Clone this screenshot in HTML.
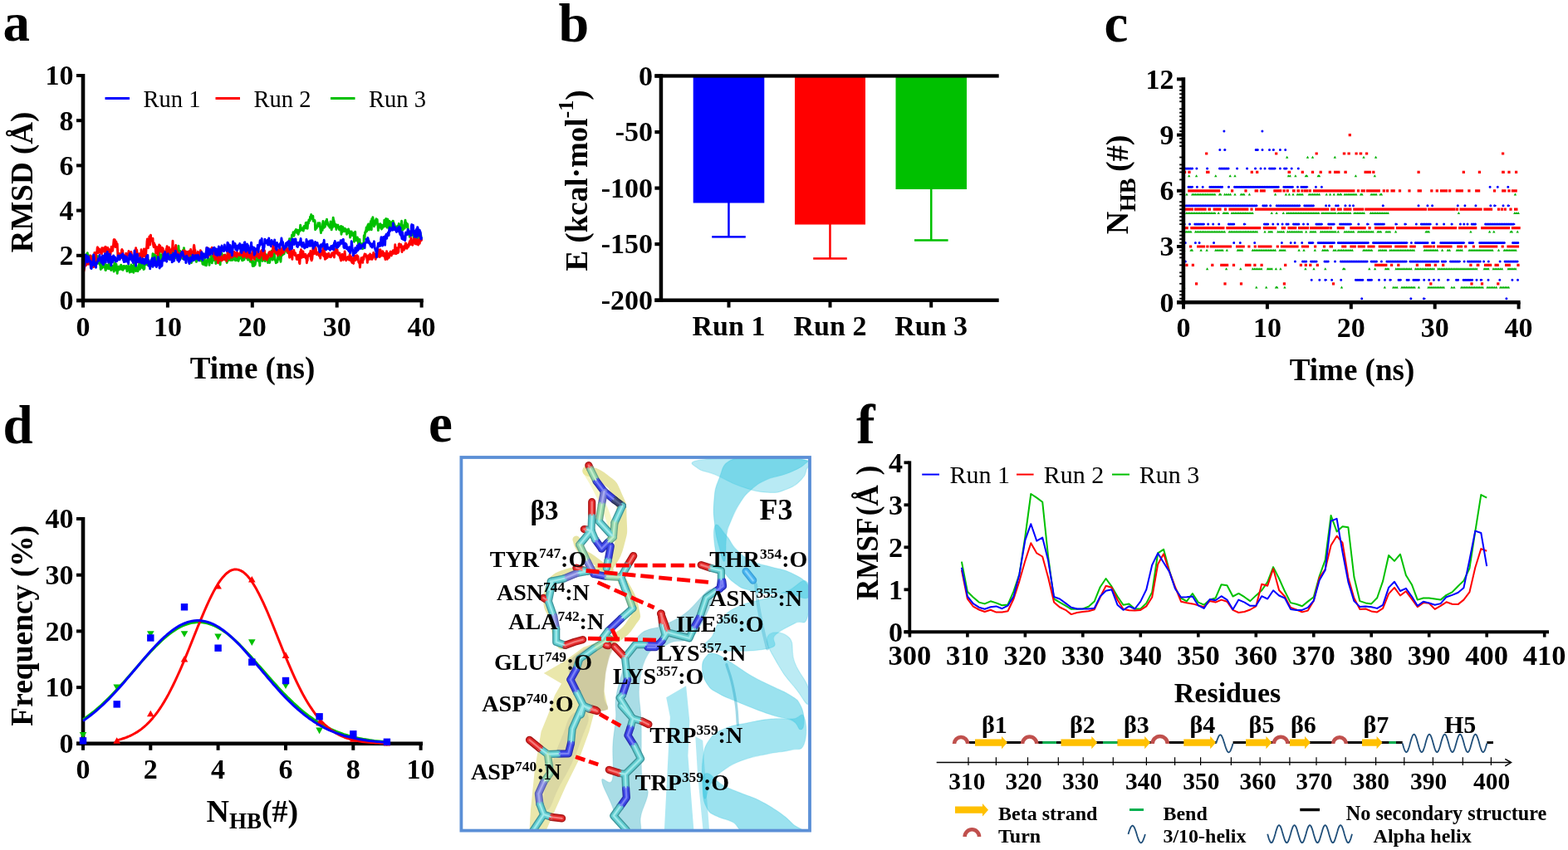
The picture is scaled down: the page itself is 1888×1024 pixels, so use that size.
<!DOCTYPE html>
<html lang="en"><head><meta charset="utf-8"><title>Figure</title>
<style>
html,body{margin:0;padding:0;background:#fff;}
body{width:1888px;height:1024px;overflow:hidden;}
svg{display:block;font-family:"Liberation Serif","DejaVu Serif",serif;}
svg text{fill:#000;}
</style></head><body>
<svg width="1888" height="1024" viewBox="0 0 1888 1024">
<rect width="1888" height="1024" fill="#fff"/>
<g id="pa"><polyline fill="none" stroke="#00c000" stroke-width="2.9" stroke-linejoin="round" points="100,327.7 100.4,324.9 100.8,324.4 101.2,322.1 101.6,321.3 102,318.7 102.4,316.1 102.9,315.1 103.3,306.9 103.7,311.7 104.1,309.4 104.5,309.8 104.9,306.7 105.3,304.6 105.7,310.8 106.1,315.5 106.5,317.9 106.9,317.7 107.3,308 107.7,310.4 108.2,311.4 108.6,313.2 109,315.5 109.4,314.4 109.8,310.2 110.2,310.3 110.6,311.1 111,310.4 111.4,308.7 111.8,313.3 112.2,311.6 112.6,310.6 113,311 113.5,313.2 113.9,315.7 114.3,319.4 114.7,315.2 115.1,314 115.5,313.9 115.9,315 116.3,313.1 116.7,314.4 117.1,316 117.5,317.4 117.9,308.7 118.3,313 118.7,317.2 119.2,317.3 119.6,314.8 120,315.5 120.4,319.4 120.8,317.9 121.2,324.5 121.6,320.8 122,318.5 122.4,317.7 122.8,323.1 123.2,315.1 123.6,318 124,319.3 124.5,313 124.9,314.4 125.3,316.2 125.7,322.2 126.1,317.7 126.5,318.3 126.9,325.5 127.3,325.6 127.7,322.5 128.1,319.8 128.5,321.3 128.9,319.3 129.3,322.5 129.8,323.4 130.2,320.6 130.6,323.8 131,321.3 131.4,315.8 131.8,323.8 132.2,317.2 132.6,323.2 133,322.3 133.4,321.4 133.8,325.5 134.2,324.9 134.6,323.9 135.1,322.2 135.5,320.6 135.9,323.1 136.3,322.6 136.7,324.5 137.1,327.1 137.5,320.5 137.9,316.7 138.3,320.6 138.7,322.7 139.1,325.2 139.5,319.9 139.9,317.9 140.4,321.8 140.8,324.7 141.2,329.3 141.6,325.2 142,323.5 142.4,323 142.8,321.2 143.2,325 143.6,324.5 144,322.4 144.4,324 144.8,320.6 145.2,323.2 145.7,319.2 146.1,320.6 146.5,324.5 146.9,320.9 147.3,323.4 147.7,321 148.1,325.3 148.5,322.7 148.9,321 149.3,320.4 149.7,320.7 150.1,323.3 150.5,320.9 150.9,320.9 151.4,321.7 151.8,321.7 152.2,320.4 152.6,324.2 153,326.7 153.4,324.9 153.8,323.5 154.2,324 154.6,320.5 155,322.6 155.4,321.2 155.8,325.2 156.2,328.1 156.7,327.3 157.1,325.9 157.5,321.8 157.9,318.9 158.3,327.4 158.7,325.8 159.1,324 159.5,320.7 159.9,323.5 160.3,326.5 160.7,328.3 161.1,321.6 161.5,317.5 162,324.6 162.4,323.5 162.8,324.5 163.2,320.2 163.6,326.6 164,325.2 164.4,324.2 164.8,323.5 165.2,322.8 165.6,322.2 166,326.7 166.4,324.2 166.8,319.8 167.3,319.3 167.7,317.7 168.1,319 168.5,324.3 168.9,321.7 169.3,320.1 169.7,320.3 170.1,315 170.5,315.8 170.9,319.2 171.3,322.5 171.7,321.9 172.1,318.1 172.6,320.8 173,324.5 173.4,322.8 173.8,324 174.2,317 174.6,316.1 175,315.2 175.4,317.7 175.8,318.5 176.2,315.6 176.6,316.9 177,317.5 177.4,316 177.9,319.4 178.3,318.9 178.7,314.7 179.1,313.4 179.5,314.9 179.9,319.5 180.3,319.4 180.7,320.8 181.1,316.4 181.5,321.1 181.9,317.3 182.3,314.7 182.7,316.3 183.2,312 183.6,310.7 184,305.6 184.4,309.3 184.8,306.2 185.2,307.4 185.6,307.3 186,307.1 186.4,309 186.8,307.4 187.2,312.7 187.6,308 188,312.2 188.4,314.4 188.9,310.9 189.3,309.1 189.7,312.2 190.1,311.8 190.5,308.5 190.9,308 191.3,305 191.7,298.9 192.1,306.9 192.5,307.6 192.9,311.3 193.3,310.3 193.7,313.2 194.2,307 194.6,309.7 195,306.8 195.4,308.1 195.8,305.9 196.2,309.8 196.6,310.2 197,312.1 197.4,305.4 197.8,303.5 198.2,309.5 198.6,307.7 199,304.4 199.5,308.4 199.9,308 200.3,307.8 200.7,307.8 201.1,306.1 201.5,310.6 201.9,304.7 202.3,310 202.7,311.7 203.1,311.9 203.5,306.2 203.9,310.2 204.3,307.2 204.8,311.8 205.2,307.8 205.6,306.4 206,307.2 206.4,304.4 206.8,310.6 207.2,305.8 207.6,302.3 208,304.1 208.4,309.7 208.8,301 209.2,300.8 209.6,301 210.1,304.9 210.5,303.2 210.9,307.8 211.3,307.5 211.7,310.7 212.1,306.6 212.5,307.5 212.9,306.5 213.3,302.1 213.7,307 214.1,308 214.5,300.8 214.9,296.2 215.4,302.6 215.8,302.3 216.2,309.8 216.6,309.6 217,302.5 217.4,304.8 217.8,307.9 218.2,305.6 218.6,307.3 219,309.5 219.4,310.1 219.8,311.6 220.2,310.1 220.6,301.2 221.1,304.4 221.5,298.6 221.9,304 222.3,304.4 222.7,308.7 223.1,311.1 223.5,309.7 223.9,304.3 224.3,304.5 224.7,303.8 225.1,304.2 225.5,307.7 225.9,308.5 226.4,303.7 226.8,310 227.2,309.8 227.6,308 228,311.6 228.4,307.3 228.8,308.5 229.2,308.3 229.6,309.3 230,309.8 230.4,316.6 230.8,311.7 231.2,315 231.7,312.7 232.1,306 232.5,307.4 232.9,312 233.3,312.9 233.7,311.7 234.1,308.2 234.5,308 234.9,312.2 235.3,310.1 235.7,312 236.1,313.2 236.5,315.4 237,309.2 237.4,307.8 237.8,309.5 238.2,309.8 238.6,307.8 239,307.7 239.4,311.2 239.8,313.7 240.2,311.2 240.6,313.7 241,312.4 241.4,308.1 241.8,310.8 242.3,308.3 242.7,314.5 243.1,310.9 243.5,312.2 243.9,317.9 244.3,315.1 244.7,318.5 245.1,311.3 245.5,309.1 245.9,314.6 246.3,311.5 246.7,319.2 247.1,318.8 247.6,314.8 248,318.1 248.4,319.9 248.8,315.2 249.2,314.8 249.6,312.9 250,312.2 250.4,308.7 250.8,315 251.2,315 251.6,314.8 252,319.3 252.4,315.1 252.8,312.7 253.3,312.2 253.7,312.2 254.1,308.8 254.5,311.8 254.9,308.5 255.3,316.9 255.7,312.9 256.1,311.2 256.5,309.6 256.9,313.9 257.3,310.9 257.7,307.8 258.1,310.2 258.6,312 259,308.6 259.4,310.1 259.8,317.5 260.2,316.3 260.6,307.5 261,310.2 261.4,313.3 261.8,309.5 262.2,314.6 262.6,309.8 263,311.9 263.4,315.3 263.9,311.1 264.3,311.5 264.7,311 265.1,318.9 265.5,312.5 265.9,308.5 266.3,305.9 266.7,307.3 267.1,305.2 267.5,308.7 267.9,311.9 268.3,308.8 268.7,308.9 269.2,309.8 269.6,308.7 270,309.4 270.4,312.9 270.8,306.9 271.2,309.4 271.6,308.1 272,312.9 272.4,313.1 272.8,310.2 273.2,316.5 273.6,314.5 274,309.3 274.5,311.3 274.9,313.6 275.3,303.8 275.7,307 276.1,310.2 276.5,311 276.9,311 277.3,313.2 277.7,312.1 278.1,313.5 278.5,309 278.9,310.8 279.3,310 279.8,308.7 280.2,313.4 280.6,308.7 281,309.9 281.4,307.2 281.8,307.5 282.2,309.6 282.6,308.4 283,312.7 283.4,313.7 283.8,311.9 284.2,312.1 284.6,313.5 285.1,308.8 285.5,312.8 285.9,308.5 286.3,309.8 286.7,308.3 287.1,314.3 287.5,312.8 287.9,306.5 288.3,307.6 288.7,308.7 289.1,306 289.5,305.8 289.9,311.2 290.3,304.3 290.8,310.5 291.2,307.9 291.6,313.8 292,312 292.4,313.7 292.8,305.6 293.2,303.2 293.6,311.1 294,312.9 294.4,307.3 294.8,307.5 295.2,302.6 295.6,305.4 296.1,307.3 296.5,309.7 296.9,310.9 297.3,309 297.7,304.1 298.1,308.8 298.5,313.1 298.9,312.4 299.3,312.7 299.7,309.6 300.1,308.4 300.5,312 300.9,313.6 301.4,315.2 301.8,314.1 302.2,314.1 302.6,309.7 303,312.5 303.4,316.5 303.8,315.6 304.2,320.5 304.6,316.8 305,314.9 305.4,320.3 305.8,319.5 306.2,320.1 306.7,317.4 307.1,319.1 307.5,316.7 307.9,314.8 308.3,314 308.7,310 309.1,314 309.5,308.9 309.9,312.7 310.3,312.1 310.7,312.4 311.1,309 311.5,314.3 312,315.3 312.4,312.1 312.8,320.1 313.2,311.5 313.6,309.6 314,311.7 314.4,311.2 314.8,312.8 315.2,311.2 315.6,312.5 316,314.4 316.4,308.2 316.8,310.5 317.3,307.9 317.7,311.2 318.1,311.3 318.5,313.5 318.9,313.5 319.3,314.6 319.7,311.4 320.1,307.7 320.5,306.7 320.9,309.7 321.3,312.8 321.7,309.7 322.1,311.1 322.5,316.5 323,314 323.4,312 323.8,314.2 324.2,311.2 324.6,316.5 325,314.7 325.4,313 325.8,310.3 326.2,308.9 326.6,308.1 327,302.2 327.4,309.3 327.8,311.1 328.3,313.2 328.7,309.3 329.1,308.8 329.5,310.7 329.9,308.7 330.3,305.4 330.7,308.1 331.1,312.3 331.5,313.8 331.9,314.8 332.3,316.7 332.7,314 333.1,313.8 333.6,315.8 334,315.5 334.4,310.4 334.8,309.9 335.2,310.7 335.6,312.4 336,312.3 336.4,307.1 336.8,305.7 337.2,308 337.6,312.2 338,315.2 338.4,309.7 338.9,305.6 339.3,308 339.7,305.4 340.1,300.5 340.5,306.8 340.9,306 341.3,302.5 341.7,301.2 342.1,305.8 342.5,302.7 342.9,298.5 343.3,299.2 343.7,297.1 344.2,300 344.6,296.5 345,299.2 345.4,299.7 345.8,304.2 346.2,301.4 346.6,304.3 347,300.7 347.4,299.7 347.8,299.6 348.2,299 348.6,287.8 349,292.2 349.5,289.2 349.9,292.2 350.3,295.5 350.7,293.2 351.1,287.4 351.5,283.1 351.9,284.1 352.3,283.2 352.7,282 353.1,279.8 353.5,282 353.9,284.3 354.3,282.1 354.8,279.3 355.2,279 355.6,277.8 356,279.1 356.4,276.4 356.8,277.1 357.2,277.9 357.6,280.6 358,278.9 358.4,277.1 358.8,280.8 359.2,282.3 359.6,280.2 360,277.7 360.5,279 360.9,276.6 361.3,276.4 361.7,271.1 362.1,273.9 362.5,276.8 362.9,277.1 363.3,275.2 363.7,275.9 364.1,275.1 364.5,277.2 364.9,277.4 365.3,278 365.8,273.3 366.2,272.4 366.6,275.3 367,274.3 367.4,272.6 367.8,272.6 368.2,268.5 368.6,274.8 369,270.2 369.4,275.1 369.8,268 370.2,275.2 370.6,269.6 371.1,269 371.5,269.1 371.9,264.9 372.3,265 372.7,264.7 373.1,265.9 373.5,261.3 373.9,261.7 374.3,262 374.7,258.5 375.1,262.3 375.5,262 375.9,263.6 376.4,261.6 376.8,260.2 377.2,266.4 377.6,266.4 378,265.3 378.4,265.7 378.8,265.3 379.2,266.5 379.6,276.8 380,275 380.4,271.8 380.8,275.4 381.2,274.9 381.7,272.6 382.1,273 382.5,271.7 382.9,268.6 383.3,270.4 383.7,270.4 384.1,269.4 384.5,272.7 384.9,268.6 385.3,270.7 385.7,275.2 386.1,277.8 386.5,280.5 387,274.3 387.4,273.8 387.8,273.9 388.2,277.3 388.6,269.7 389,266.5 389.4,272.6 389.8,272.7 390.2,274.3 390.6,270.8 391,271.5 391.4,273.2 391.8,271.2 392.2,266.7 392.7,266 393.1,269.7 393.5,264.2 393.9,268 394.3,267.3 394.7,270.2 395.1,271 395.5,271.9 395.9,270.9 396.3,271.4 396.7,272.8 397.1,274.2 397.5,271.5 398,267 398.4,270.6 398.8,269.6 399.2,276.9 399.6,272 400,273.5 400.4,274.1 400.8,266.4 401.2,262.3 401.6,264.9 402,265.9 402.4,267.4 402.8,268.5 403.3,272.8 403.7,272.5 404.1,273.4 404.5,270.4 404.9,276.5 405.3,271.4 405.7,274.4 406.1,273 406.5,271.4 406.9,271 407.3,273 407.7,273.3 408.1,275.3 408.6,276.9 409,273.5 409.4,275.5 409.8,274.7 410.2,274 410.6,272.4 411,282.2 411.4,275.8 411.8,279.9 412.2,278.7 412.6,273.3 413,278.4 413.4,274.5 413.9,275 414.3,277.4 414.7,278.8 415.1,275.8 415.5,275.3 415.9,277.2 416.3,277.9 416.7,276.8 417.1,276.8 417.5,282.2 417.9,281.2 418.3,281 418.7,280.7 419.2,277.4 419.6,275.9 420,278.5 420.4,278 420.8,280.7 421.2,281.3 421.6,286.1 422,283.7 422.4,283.9 422.8,282.2 423.2,279 423.6,281.6 424,283.2 424.4,283.4 424.9,281.2 425.3,282.7 425.7,280.6 426.1,283.2 426.5,291.2 426.9,284.2 427.3,286.3 427.7,279.1 428.1,288.2 428.5,287 428.9,289.5 429.3,287.2 429.7,287.4 430.2,285.9 430.6,286.9 431,291.1 431.4,292.4 431.8,297.6 432.2,293.6 432.6,295.3 433,288.4 433.4,293.1 433.8,294.2 434.2,293.2 434.6,296.7 435,294.7 435.5,296.4 435.9,297.7 436.3,293.6 436.7,299.7 437.1,298.3 437.5,298.9 437.9,294.6 438.3,283.8 438.7,287.9 439.1,285.9 439.5,280 439.9,280.5 440.3,278.4 440.8,277.2 441.2,273.9 441.6,278.7 442,276.9 442.4,273.9 442.8,271.4 443.2,273.6 443.6,269.9 444,271.6 444.4,277 444.8,274.7 445.2,273.2 445.6,270 446.1,269 446.5,266.4 446.9,270.1 447.3,276.8 447.7,263.7 448.1,263.7 448.5,264.9 448.9,261.7 449.3,265.2 449.7,266.1 450.1,269.5 450.5,272.7 450.9,268.8 451.4,271.2 451.8,267.7 452.2,265.5 452.6,266.6 453,263.8 453.4,267.1 453.8,266.6 454.2,264.5 454.6,270.3 455,272 455.4,277.6 455.8,274.7 456.2,271.5 456.6,270.2 457.1,270.1 457.5,274.1 457.9,269.8 458.3,271.5 458.7,270.5 459.1,271.7 459.5,276 459.9,273.3 460.3,274.9 460.7,273.2 461.1,271.1 461.5,271.7 461.9,271.6 462.4,273.1 462.8,265.1 463.2,265.3 463.6,268.9 464,272.4 464.4,267.7 464.8,263.5 465.2,268.3 465.6,271 466,274 466.4,265.1 466.8,264.1 467.2,266.6 467.7,274.4 468.1,267.2 468.5,271.1 468.9,266.4 469.3,269.1 469.7,268.4 470.1,271.3 470.5,268 470.9,275.6 471.3,271.3 471.7,276.6 472.1,270.9 472.5,267.4 473,266.2 473.4,266.4 473.8,273.4 474.2,268.8 474.6,271.8 475,270.7 475.4,272.1 475.8,275.8 476.2,276.2 476.6,275.8 477,273.7 477.4,278.4 477.8,276.6 478.3,275.5 478.7,272.3 479.1,275.2 479.5,274.1 479.9,273.2 480.3,269.4 480.7,275.5 481.1,271 481.5,272.2 481.9,272.2 482.3,280.4 482.7,273.7 483.1,271.7 483.6,266.3 484,270.2 484.4,277.3 484.8,271.3 485.2,276.7 485.6,275.6 486,275.4 486.4,273.6 486.8,275.1 487.2,275.1 487.6,267.8 488,265.2 488.4,269.9 488.9,268.2 489.3,269.2 489.7,272.1 490.1,273.7 490.5,269.7 490.9,271.2 491.3,280 491.7,278.1 492.1,279 492.5,282.8 492.9,280.3 493.3,285.4 493.7,282.1 494.1,281 494.6,282.6 495,280.9 495.4,279.6 495.8,273.6 496.2,278.4 496.6,279.4 497,283.4 497.4,277.6 497.8,276.8 498.2,286.9 498.6,286.1 499,282.7 499.4,283.7 499.9,286.2 500.3,292.2 500.7,287 501.1,287 501.5,286.6 501.9,287.1 502.3,283.8 502.7,285 503.1,278.8 503.5,284.7 503.9,281.7 504.3,281.6 504.7,290.3 505.2,284.4 505.6,289.5 506,280.3 506.4,282.4 506.8,283.5 507.2,288.1 507.6,287.2"/>
<polyline fill="none" stroke="#ff0000" stroke-width="2.9" stroke-linejoin="round" points="100,329.2 100.4,327.6 100.8,326.8 101.2,325.2 101.6,322.8 102,320.7 102.4,318.5 102.9,316.9 103.3,319.9 103.7,317.9 104.1,317.7 104.5,318.6 104.9,313.4 105.3,314.2 105.7,317 106.1,314.4 106.5,317.3 106.9,318.2 107.3,316.4 107.7,311.5 108.2,311.6 108.6,309.5 109,308 109.4,314.8 109.8,312.7 110.2,312.2 110.6,313.6 111,311.2 111.4,312.9 111.8,311.2 112.2,317.3 112.6,321.6 113,310 113.5,309.2 113.9,304.4 114.3,312.1 114.7,309 115.1,314.4 115.5,311.3 115.9,305.4 116.3,303.5 116.7,304.7 117.1,299 117.5,297.8 117.9,300.4 118.3,304.6 118.7,300.9 119.2,299.8 119.6,299.9 120,301.7 120.4,301.6 120.8,304.2 121.2,302.9 121.6,300.6 122,302.3 122.4,305.6 122.8,298.7 123.2,299.9 123.6,300.6 124,298.9 124.5,302.7 124.9,299.3 125.3,303.2 125.7,302.4 126.1,303.2 126.5,297.9 126.9,297.3 127.3,297.4 127.7,300.5 128.1,303.5 128.5,304.7 128.9,306.2 129.3,303.1 129.8,298.5 130.2,300.2 130.6,301.8 131,302.8 131.4,301.6 131.8,300.7 132.2,302.7 132.6,305.2 133,306.6 133.4,302.7 133.8,299.8 134.2,297.3 134.6,300.4 135.1,300.3 135.5,302.3 135.9,299.3 136.3,297.3 136.7,292.9 137.1,288.7 137.5,290.8 137.9,288.7 138.3,288.9 138.7,295.3 139.1,297.5 139.5,296.6 139.9,291.1 140.4,296.3 140.8,294.8 141.2,293.9 141.6,302.5 142,308.6 142.4,306.9 142.8,308.2 143.2,305.5 143.6,305.4 144,306.6 144.4,310.1 144.8,307.1 145.2,307 145.7,310.8 146.1,306.6 146.5,301.3 146.9,300.5 147.3,305.4 147.7,301.6 148.1,307 148.5,307.6 148.9,307.9 149.3,307.6 149.7,308.5 150.1,308.4 150.5,308.2 150.9,310.4 151.4,309.7 151.8,305.2 152.2,309 152.6,314.3 153,307 153.4,307.8 153.8,307.7 154.2,307.4 154.6,305 155,302.4 155.4,307.3 155.8,305.7 156.2,308.1 156.7,311.3 157.1,310.8 157.5,306.2 157.9,303.4 158.3,305.7 158.7,309.4 159.1,309.5 159.5,309.7 159.9,309.9 160.3,312.9 160.7,311.5 161.1,308.9 161.5,309.2 162,306.7 162.4,312 162.8,309.5 163.2,303.9 163.6,298.8 164,301.8 164.4,304.9 164.8,301.3 165.2,305.2 165.6,314.8 166,315.7 166.4,307.1 166.8,308.6 167.3,307.3 167.7,305.6 168.1,307.4 168.5,306.3 168.9,306.5 169.3,308.6 169.7,307.6 170.1,300.8 170.5,304.3 170.9,311.2 171.3,311.5 171.7,306.5 172.1,308.7 172.6,305.1 173,303.9 173.4,299.9 173.8,308.3 174.2,306.7 174.6,307.8 175,307.3 175.4,310 175.8,304.7 176.2,298.4 176.6,298.3 177,290.9 177.4,287.9 177.9,290.7 178.3,298.7 178.7,295.7 179.1,291.4 179.5,289.7 179.9,284.9 180.3,285.9 180.7,294.8 181.1,290.7 181.5,283.1 181.9,290.1 182.3,288.9 182.7,287.7 183.2,290.1 183.6,290.3 184,287.1 184.4,294.1 184.8,296.2 185.2,297.7 185.6,292.9 186,295.2 186.4,294.8 186.8,295.8 187.2,299.2 187.6,304.9 188,298.5 188.4,297.9 188.9,297.6 189.3,305.3 189.7,305.4 190.1,307.6 190.5,303.4 190.9,303.6 191.3,299.4 191.7,294.9 192.1,295.6 192.5,299.1 192.9,296.3 193.3,302 193.7,299.9 194.2,303.3 194.6,300.5 195,301.2 195.4,298.5 195.8,304.1 196.2,299.1 196.6,306.6 197,302.2 197.4,305.7 197.8,305.1 198.2,307.6 198.6,305.6 199,305.2 199.5,305.2 199.9,302.5 200.3,299.8 200.7,300.9 201.1,296.6 201.5,299.8 201.9,303.2 202.3,304.1 202.7,301.4 203.1,298.4 203.5,298 203.9,302.2 204.3,303.8 204.8,301.4 205.2,301.4 205.6,305 206,300.8 206.4,301.5 206.8,300.1 207.2,299.1 207.6,298.8 208,290.3 208.4,301.3 208.8,301.2 209.2,302.8 209.6,305.7 210.1,304.4 210.5,301.6 210.9,300.5 211.3,297.5 211.7,295.4 212.1,299.1 212.5,304.2 212.9,303.2 213.3,302.9 213.7,304 214.1,306.6 214.5,306.5 214.9,307.8 215.4,305.6 215.8,306.3 216.2,308.7 216.6,307.6 217,307.8 217.4,305.6 217.8,304.5 218.2,304.9 218.6,305.7 219,308.6 219.4,308.3 219.8,303.4 220.2,302.2 220.6,309.7 221.1,305 221.5,305.5 221.9,302.4 222.3,301.9 222.7,308.3 223.1,305.9 223.5,306.1 223.9,307.5 224.3,307.5 224.7,303.3 225.1,304 225.5,305.1 225.9,305.8 226.4,305.1 226.8,309.5 227.2,306.8 227.6,302.8 228,302.8 228.4,303.6 228.8,305.7 229.2,304.5 229.6,300.4 230,302.9 230.4,303.9 230.8,304.5 231.2,307.7 231.7,303.9 232.1,305.2 232.5,306.8 232.9,303.2 233.3,297.2 233.7,295.3 234.1,298.1 234.5,302.5 234.9,301.1 235.3,307.7 235.7,310.3 236.1,308.7 236.5,307.3 237,305.3 237.4,305.5 237.8,308.4 238.2,303.3 238.6,304.1 239,304.7 239.4,305.8 239.8,305.3 240.2,309 240.6,306.4 241,304.7 241.4,301.6 241.8,305.1 242.3,303.2 242.7,303.6 243.1,306.2 243.5,308.7 243.9,307.4 244.3,306.8 244.7,306 245.1,306.3 245.5,306.9 245.9,307.7 246.3,309.2 246.7,308.8 247.1,309.6 247.6,307.9 248,309.4 248.4,308 248.8,302 249.2,298.6 249.6,298.5 250,301.1 250.4,308.3 250.8,308.7 251.2,303.9 251.6,303.5 252,304.6 252.4,307.2 252.8,302.3 253.3,304.1 253.7,300.6 254.1,301.2 254.5,299.6 254.9,303.8 255.3,298.3 255.7,303.7 256.1,304.4 256.5,305.1 256.9,303.3 257.3,308.5 257.7,309.5 258.1,308.5 258.6,306 259,312.8 259.4,310.3 259.8,310.5 260.2,308.5 260.6,307.5 261,308.1 261.4,311.6 261.8,307.5 262.2,314.1 262.6,316.8 263,314.6 263.4,313.6 263.9,313.8 264.3,308.9 264.7,310 265.1,309 265.5,308 265.9,311.9 266.3,312.5 266.7,314 267.1,313.9 267.5,310.5 267.9,311.6 268.3,310.8 268.7,312.8 269.2,308.1 269.6,307.4 270,308.3 270.4,310.2 270.8,307.7 271.2,308.2 271.6,312.9 272,310.5 272.4,313.7 272.8,314.5 273.2,307.8 273.6,307.6 274,304.4 274.5,306.6 274.9,305.8 275.3,303.8 275.7,307.7 276.1,311.7 276.5,306 276.9,305.8 277.3,306.6 277.7,307 278.1,309.6 278.5,306 278.9,306.3 279.3,310 279.8,302.3 280.2,303.4 280.6,308.4 281,305.6 281.4,306.6 281.8,308.3 282.2,303.4 282.6,308.4 283,305.2 283.4,305.8 283.8,304.7 284.2,305 284.6,306.9 285.1,309.3 285.5,304.3 285.9,305.5 286.3,305.6 286.7,306.2 287.1,305.7 287.5,306.9 287.9,306.4 288.3,307.4 288.7,305.6 289.1,304.9 289.5,303.6 289.9,303.3 290.3,307.3 290.8,301 291.2,298.8 291.6,303 292,302.7 292.4,307.3 292.8,309.7 293.2,308.1 293.6,308.5 294,302.1 294.4,305.5 294.8,303.1 295.2,301.6 295.6,308.1 296.1,307.2 296.5,305.4 296.9,310.3 297.3,309.6 297.7,309.2 298.1,305.3 298.5,301.9 298.9,302.4 299.3,306.6 299.7,308.3 300.1,308.4 300.5,310.4 300.9,309.3 301.4,307.2 301.8,306 302.2,309.6 302.6,313 303,307.5 303.4,305 303.8,310.5 304.2,304.6 304.6,301.5 305,303.7 305.4,304 305.8,304.3 306.2,312.5 306.7,308 307.1,303.3 307.5,303 307.9,308.9 308.3,308.9 308.7,308.9 309.1,306.7 309.5,303.4 309.9,303.5 310.3,305.5 310.7,304.9 311.1,307.1 311.5,310.5 312,307.8 312.4,307.1 312.8,310.8 313.2,308 313.6,305.8 314,302.6 314.4,305.4 314.8,307.6 315.2,301.5 315.6,304.6 316,304.3 316.4,307.3 316.8,307.4 317.3,312.6 317.7,306.9 318.1,306.1 318.5,301.6 318.9,307.7 319.3,307 319.7,308.6 320.1,311.3 320.5,312.2 320.9,309.9 321.3,313.1 321.7,308.9 322.1,308.2 322.5,309 323,310.2 323.4,306.1 323.8,304.5 324.2,307.3 324.6,303.5 325,306.4 325.4,305.6 325.8,304.2 326.2,309 326.6,303.8 327,303.9 327.4,308.2 327.8,304.6 328.3,302 328.7,297.1 329.1,295.9 329.5,299.8 329.9,301 330.3,303 330.7,301.6 331.1,302.9 331.5,301.5 331.9,298.7 332.3,305.1 332.7,305 333.1,302.4 333.6,305.9 334,303.3 334.4,307.9 334.8,300.9 335.2,305.7 335.6,301.1 336,302.8 336.4,303.2 336.8,299.9 337.2,303.5 337.6,303.2 338,307.2 338.4,304.8 338.9,304 339.3,305.2 339.7,299.1 340.1,303 340.5,304.8 340.9,295.1 341.3,303.5 341.7,303.9 342.1,301.2 342.5,298 342.9,298.8 343.3,298.5 343.7,299.6 344.2,298.5 344.6,297.4 345,299.2 345.4,302.3 345.8,299.1 346.2,300.5 346.6,300 347,300.7 347.4,304.5 347.8,305.5 348.2,305.8 348.6,310.2 349,309.4 349.5,301.7 349.9,302.1 350.3,301.5 350.7,301.9 351.1,307.6 351.5,309.4 351.9,312.3 352.3,304.7 352.7,305.8 353.1,305.5 353.5,302.8 353.9,301.4 354.3,306.3 354.8,304.9 355.2,307.6 355.6,304.8 356,306.4 356.4,308.5 356.8,307.6 357.2,312.3 357.6,311.9 358,312.4 358.4,311.1 358.8,308.8 359.2,307.1 359.6,309.5 360,312.9 360.5,316.7 360.9,317.6 361.3,311.9 361.7,303.1 362.1,305.1 362.5,300.8 362.9,305.2 363.3,310.4 363.7,303.2 364.1,303.1 364.5,304.2 364.9,302.8 365.3,305.6 365.8,309.5 366.2,307 366.6,308.5 367,309.2 367.4,309.4 367.8,306.1 368.2,311.1 368.6,309.4 369,309.4 369.4,316.7 369.8,312.5 370.2,314 370.6,307.6 371.1,307.6 371.5,307 371.9,306.2 372.3,305.7 372.7,305.9 373.1,308.4 373.5,306.4 373.9,302.5 374.3,312 374.7,310.7 375.1,313.9 375.5,312.8 375.9,311.7 376.4,304.9 376.8,299.5 377.2,298.8 377.6,303 378,305.9 378.4,305.4 378.8,303.2 379.2,305.3 379.6,300.1 380,298.3 380.4,300.4 380.8,303 381.2,306.7 381.7,306 382.1,304.4 382.5,304.3 382.9,306.2 383.3,304.3 383.7,305.4 384.1,308.1 384.5,302.6 384.9,306.1 385.3,307.5 385.7,311 386.1,307.2 386.5,304.4 387,304.5 387.4,302.4 387.8,302.8 388.2,304.1 388.6,307 389,299.3 389.4,306.3 389.8,308.5 390.2,306.6 390.6,301.2 391,308.2 391.4,312.3 391.8,307.6 392.2,305.7 392.7,311.5 393.1,309.8 393.5,309.9 393.9,309.8 394.3,310.4 394.7,305.9 395.1,306.2 395.5,306.8 395.9,305.2 396.3,307.7 396.7,308.8 397.1,307.6 397.5,309.6 398,308.5 398.4,309.7 398.8,308.7 399.2,307.9 399.6,305 400,305.6 400.4,307.8 400.8,307.1 401.2,306.4 401.6,303.9 402,303.7 402.4,310 402.8,303.2 403.3,303.7 403.7,301.4 404.1,300.2 404.5,302.5 404.9,298.8 405.3,305.3 405.7,302.5 406.1,301 406.5,304 406.9,304.5 407.3,306.4 407.7,307.4 408.1,307.5 408.6,304.7 409,304.8 409.4,310.3 409.8,311 410.2,312.3 410.6,314 411,309.1 411.4,311.8 411.8,307.5 412.2,306.3 412.6,309.3 413,309.4 413.4,313.2 413.9,311.2 414.3,309.4 414.7,306.9 415.1,302.9 415.5,306.1 415.9,311.8 416.3,311.1 416.7,313.7 417.1,312.4 417.5,312.4 417.9,310.3 418.3,311.8 418.7,309.4 419.2,311.9 419.6,312.1 420,312.9 420.4,310.7 420.8,308.6 421.2,306.5 421.6,312.2 422,313.8 422.4,311.4 422.8,309.8 423.2,309.3 423.6,315.8 424,316.4 424.4,314.8 424.9,315.1 425.3,315.8 425.7,317.4 426.1,310.6 426.5,312.1 426.9,307.9 427.3,308.7 427.7,310.2 428.1,313.6 428.5,311.1 428.9,311.9 429.3,309.3 429.7,307.7 430.2,309.6 430.6,312.5 431,308.7 431.4,313.2 431.8,315.8 432.2,314.8 432.6,317.3 433,316.1 433.4,322.1 433.8,318.5 434.2,316.2 434.6,312.7 435,310.6 435.5,315.1 435.9,312.4 436.3,314.6 436.7,316.4 437.1,309.9 437.5,312.4 437.9,312.4 438.3,310.1 438.7,307.5 439.1,306 439.5,307.9 439.9,307.8 440.3,306.5 440.8,308.4 441.2,308.6 441.6,310.4 442,312.6 442.4,316.3 442.8,312.4 443.2,310.9 443.6,307.8 444,308.9 444.4,310.3 444.8,312.3 445.2,311.1 445.6,306 446.1,306.8 446.5,310.1 446.9,309.9 447.3,312.3 447.7,307.8 448.1,312.3 448.5,309.2 448.9,310.7 449.3,307.8 449.7,304.4 450.1,306.9 450.5,305.6 450.9,307.4 451.4,306.3 451.8,308 452.2,312.2 452.6,309.3 453,309.3 453.4,309.9 453.8,309.7 454.2,309 454.6,304.1 455,302.9 455.4,300.5 455.8,306.1 456.2,305.6 456.6,309.3 457.1,309.7 457.5,304.3 457.9,300.8 458.3,304 458.7,308.3 459.1,306.2 459.5,307.3 459.9,305.7 460.3,307.9 460.7,302.6 461.1,303.4 461.5,308.2 461.9,305.2 462.4,306.2 462.8,305.1 463.2,305.5 463.6,310.6 464,312.5 464.4,310.1 464.8,306.6 465.2,307.3 465.6,302.7 466,309.8 466.4,312.2 466.8,310.7 467.2,308.8 467.7,305.4 468.1,309.8 468.5,310.3 468.9,305.5 469.3,307.2 469.7,304.9 470.1,303.2 470.5,304.4 470.9,303.3 471.3,308 471.7,306.3 472.1,306.2 472.5,304.2 473,304.5 473.4,301.6 473.8,303.1 474.2,305.3 474.6,304.1 475,305.3 475.4,299.8 475.8,294.7 476.2,304.3 476.6,304.5 477,305.7 477.4,298.6 477.8,298.8 478.3,300.2 478.7,302.7 479.1,304.7 479.5,298.4 479.9,303.4 480.3,294.3 480.7,293.7 481.1,294.6 481.5,297.8 481.9,295.8 482.3,294.7 482.7,294.5 483.1,295.8 483.6,297.6 484,303.5 484.4,299.5 484.8,297.2 485.2,298.5 485.6,301 486,297.4 486.4,301.2 486.8,296.4 487.2,299.9 487.6,299.2 488,295 488.4,292.9 488.9,293.4 489.3,294.5 489.7,296.4 490.1,299.3 490.5,296 490.9,296.4 491.3,295.2 491.7,297.4 492.1,296.6 492.5,293.2 492.9,293.2 493.3,290.8 493.7,294.6 494.1,293.6 494.6,289.8 495,286.8 495.4,289.1 495.8,292.2 496.2,294.7 496.6,295.3 497,294.8 497.4,292.5 497.8,292.2 498.2,289 498.6,286.9 499,290.2 499.4,289.2 499.9,290.6 500.3,293.8 500.7,288.1 501.1,291.5 501.5,294 501.9,293.4 502.3,291.2 502.7,291.7 503.1,289.2 503.5,295 503.9,291.5 504.3,292.5 504.7,288.4 505.2,293.4 505.6,291 506,286.2 506.4,290.4 506.8,288.6 507.2,288.1 507.6,290.5"/>
<polyline fill="none" stroke="#0000ff" stroke-width="2.9" stroke-linejoin="round" points="100,328.3 100.4,327.1 100.8,324 101.2,322.3 101.6,320.2 102,318.2 102.4,315.8 102.9,313.4 103.3,307.2 103.7,308.8 104.1,307.7 104.5,311.2 104.9,313.1 105.3,315.9 105.7,310.9 106.1,310.5 106.5,309.1 106.9,310.9 107.3,313.2 107.7,314.6 108.2,314.8 108.6,314 109,318 109.4,322.8 109.8,323.4 110.2,323.5 110.6,317.7 111,315.6 111.4,316.7 111.8,317.9 112.2,319.4 112.6,306.9 113,309.4 113.5,314 113.9,317.6 114.3,320 114.7,316.9 115.1,318.7 115.5,322.2 115.9,316.8 116.3,316.9 116.7,317.2 117.1,315.2 117.5,314.7 117.9,314.8 118.3,311.6 118.7,312.5 119.2,313.7 119.6,313.3 120,307.3 120.4,312.2 120.8,311.9 121.2,310.2 121.6,313.9 122,316.2 122.4,309.9 122.8,310 123.2,309.9 123.6,307.9 124,318.3 124.5,318.7 124.9,312 125.3,312.1 125.7,308.5 126.1,308.6 126.5,305.7 126.9,306 127.3,316 127.7,311.6 128.1,312.9 128.5,310.7 128.9,308.2 129.3,303.4 129.8,308.6 130.2,311.8 130.6,316.2 131,310.1 131.4,310.2 131.8,309 132.2,306.3 132.6,310.4 133,309.2 133.4,312.2 133.8,319.9 134.2,312.1 134.6,314.3 135.1,309.2 135.5,315.9 135.9,312.2 136.3,311.5 136.7,308 137.1,309.9 137.5,310.1 137.9,311.9 138.3,313.8 138.7,309.9 139.1,314.5 139.5,315.1 139.9,314.3 140.4,312 140.8,314.4 141.2,313.3 141.6,313.3 142,309.3 142.4,308 142.8,312.5 143.2,308.2 143.6,312.3 144,312.7 144.4,312.1 144.8,309.3 145.2,307.8 145.7,307.4 146.1,310 146.5,309.5 146.9,309 147.3,307.4 147.7,305.6 148.1,307.8 148.5,313.3 148.9,311.1 149.3,315.6 149.7,308.1 150.1,308.5 150.5,309.4 150.9,312.3 151.4,315.1 151.8,313.9 152.2,309.2 152.6,312.5 153,313.9 153.4,314.9 153.8,315.7 154.2,311.1 154.6,317.8 155,312.9 155.4,313.3 155.8,307.8 156.2,307.1 156.7,305.4 157.1,308.3 157.5,312 157.9,309.2 158.3,307 158.7,313 159.1,314.3 159.5,310.1 159.9,309.3 160.3,316.6 160.7,312.2 161.1,311.2 161.5,308.8 162,302 162.4,307.7 162.8,311.3 163.2,310.9 163.6,320.2 164,309.3 164.4,316 164.8,309.8 165.2,306.2 165.6,307.9 166,312.7 166.4,311.3 166.8,315.3 167.3,312.4 167.7,313.4 168.1,315.9 168.5,315.8 168.9,310.4 169.3,315.3 169.7,316 170.1,314.6 170.5,316.6 170.9,317 171.3,316.8 171.7,314.8 172.1,311.8 172.6,312.7 173,314.1 173.4,314.9 173.8,318 174.2,315.3 174.6,312.2 175,313.3 175.4,313.8 175.8,316.9 176.2,315.3 176.6,308.8 177,312 177.4,311.2 177.9,307.5 178.3,316.7 178.7,314 179.1,320.3 179.5,318.2 179.9,318.1 180.3,317.9 180.7,323.9 181.1,315.1 181.5,316.1 181.9,315.4 182.3,313.3 182.7,314.3 183.2,311.2 183.6,316.9 184,321.3 184.4,316.4 184.8,315.2 185.2,315.4 185.6,312.8 186,310.1 186.4,312.7 186.8,319.9 187.2,315.4 187.6,315.1 188,319.8 188.4,321.6 188.9,318.4 189.3,319.7 189.7,315.5 190.1,315.2 190.5,309.8 190.9,311 191.3,315.7 191.7,315.6 192.1,323 192.5,320.1 192.9,314.3 193.3,317.2 193.7,321.3 194.2,317.8 194.6,317.3 195,320.2 195.4,313.2 195.8,311.5 196.2,311.5 196.6,311.2 197,306.1 197.4,310.4 197.8,314.1 198.2,312.3 198.6,303.8 199,306.8 199.5,306.4 199.9,306.9 200.3,313.6 200.7,315.2 201.1,309.6 201.5,308.8 201.9,306.8 202.3,305.7 202.7,308.9 203.1,309 203.5,311.7 203.9,311.2 204.3,312.7 204.8,310.1 205.2,312.5 205.6,309.1 206,307.2 206.4,307.6 206.8,310.7 207.2,315.8 207.6,315.4 208,309.3 208.4,307.2 208.8,305.2 209.2,312.4 209.6,314.3 210.1,309.1 210.5,306.3 210.9,308.5 211.3,302.1 211.7,305.3 212.1,305.9 212.5,309 212.9,307 213.3,306.8 213.7,313.3 214.1,309 214.5,306.8 214.9,312.8 215.4,315.3 215.8,310.6 216.2,309.4 216.6,313.2 217,311.8 217.4,309.7 217.8,306.1 218.2,304.9 218.6,306.8 219,307.7 219.4,303.2 219.8,303.6 220.2,305.6 220.6,306.6 221.1,309.4 221.5,312.6 221.9,312.2 222.3,311.6 222.7,309.1 223.1,311.6 223.5,312.8 223.9,316.6 224.3,315.3 224.7,308.2 225.1,311.5 225.5,309.7 225.9,311 226.4,312.1 226.8,310.9 227.2,310.7 227.6,316.1 228,317.6 228.4,315.6 228.8,313.3 229.2,314.2 229.6,313.1 230,310.2 230.4,314.8 230.8,310.6 231.2,311.1 231.7,310.1 232.1,307.1 232.5,307.8 232.9,308.4 233.3,313.5 233.7,310.7 234.1,312.8 234.5,311.1 234.9,310.7 235.3,307.6 235.7,309.7 236.1,310.5 236.5,307.8 237,311.9 237.4,310.6 237.8,307.7 238.2,309.6 238.6,307.5 239,309.5 239.4,313.7 239.8,311.8 240.2,310.2 240.6,311.8 241,311.3 241.4,311.2 241.8,309.9 242.3,306.3 242.7,303.7 243.1,309.6 243.5,305.9 243.9,313.2 244.3,306.5 244.7,305.7 245.1,305.8 245.5,308.9 245.9,308.9 246.3,306.6 246.7,309.3 247.1,310.4 247.6,307 248,304.1 248.4,302.9 248.8,298.4 249.2,299.3 249.6,307.6 250,310.4 250.4,300.1 250.8,301.3 251.2,299.4 251.6,306 252,301.5 252.4,303.8 252.8,306.5 253.3,300.6 253.7,304.7 254.1,301 254.5,303.8 254.9,302.8 255.3,302.4 255.7,306.1 256.1,301.8 256.5,299.3 256.9,300.6 257.3,298.8 257.7,301.8 258.1,298.2 258.6,299.4 259,299.9 259.4,306.5 259.8,304 260.2,301.8 260.6,299.9 261,304.4 261.4,302.2 261.8,307.8 262.2,305.6 262.6,303.3 263,302.1 263.4,297 263.9,304 264.3,306.5 264.7,307.3 265.1,303.3 265.5,305.9 265.9,300.9 266.3,297.8 266.7,301.7 267.1,296 267.5,302.3 267.9,300.8 268.3,298.1 268.7,300.6 269.2,298.7 269.6,302.6 270,299.6 270.4,295 270.8,300.2 271.2,299.6 271.6,299.4 272,301.2 272.4,298.9 272.8,300.7 273.2,302.6 273.6,295.7 274,292.1 274.5,294.2 274.9,293.5 275.3,295 275.7,298.9 276.1,302 276.5,303.7 276.9,298.7 277.3,295.4 277.7,302.6 278.1,303.7 278.5,302 278.9,298 279.3,307.8 279.8,303.2 280.2,300.1 280.6,291 281,296.6 281.4,295.1 281.8,294.9 282.2,297.9 282.6,293.2 283,293.3 283.4,295.9 283.8,300.5 284.2,295.8 284.6,297.9 285.1,300.1 285.5,301.8 285.9,300.8 286.3,299.9 286.7,296 287.1,295.6 287.5,296.2 287.9,298.2 288.3,298.6 288.7,293.5 289.1,297.7 289.5,299.7 289.9,302.2 290.3,303.2 290.8,304.6 291.2,299.7 291.6,295 292,297.9 292.4,299.2 292.8,297.8 293.2,301.4 293.6,297.8 294,300.7 294.4,292 294.8,291.8 295.2,298.3 295.6,299.8 296.1,303.1 296.5,296 296.9,296.7 297.3,295.2 297.7,294.1 298.1,301.1 298.5,296.7 298.9,295.9 299.3,301.9 299.7,298.8 300.1,304.2 300.5,304.8 300.9,303.7 301.4,302.4 301.8,298.5 302.2,296.8 302.6,292.1 303,298.9 303.4,299.8 303.8,297.2 304.2,299.6 304.6,299 305,301.9 305.4,298.7 305.8,298.2 306.2,307.2 306.7,302.8 307.1,305.8 307.5,299.7 307.9,299.6 308.3,299.9 308.7,300 309.1,300.4 309.5,300.2 309.9,299.4 310.3,295.5 310.7,297.1 311.1,303.5 311.5,298.7 312,296.5 312.4,296.7 312.8,292.9 313.2,289.8 313.6,292.6 314,293.6 314.4,294.3 314.8,291.5 315.2,287.5 315.6,294.3 316,293.8 316.4,296.2 316.8,302.3 317.3,301.6 317.7,299.5 318.1,297.7 318.5,293.4 318.9,288.2 319.3,289.7 319.7,290.9 320.1,291 320.5,291.3 320.9,293 321.3,292.9 321.7,292.5 322.1,289.3 322.5,294.8 323,295 323.4,294.4 323.8,286.9 324.2,294.6 324.6,294.8 325,293 325.4,290.9 325.8,291 326.2,296.7 326.6,293.8 327,289.4 327.4,290.4 327.8,293.2 328.3,293.5 328.7,293.7 329.1,293.7 329.5,293.1 329.9,291.3 330.3,295.3 330.7,288.9 331.1,294.8 331.5,294.9 331.9,296.1 332.3,299.8 332.7,298.8 333.1,301 333.6,292.5 334,294.3 334.4,296.3 334.8,296.6 335.2,294.6 335.6,296.9 336,296.5 336.4,298 336.8,298.9 337.2,296.2 337.6,293 338,292.7 338.4,292.8 338.9,287 339.3,289.5 339.7,292.6 340.1,295.2 340.5,291.4 340.9,297.5 341.3,297.4 341.7,299.2 342.1,300.7 342.5,297 342.9,296.7 343.3,298.7 343.7,296.9 344.2,293.2 344.6,297.5 345,296.3 345.4,295.6 345.8,292 346.2,292.8 346.6,295.9 347,292.3 347.4,291.1 347.8,290.3 348.2,296 348.6,296.1 349,300.5 349.5,299.6 349.9,298.9 350.3,294.7 350.7,292 351.1,297.8 351.5,299.6 351.9,288.3 352.3,290.4 352.7,288.2 353.1,293.6 353.5,290.1 353.9,291.7 354.3,294.5 354.8,288.2 355.2,291.1 355.6,291.1 356,287.9 356.4,292.3 356.8,291.9 357.2,293.8 357.6,296.9 358,296 358.4,297.6 358.8,293 359.2,292.3 359.6,292.7 360,292.5 360.5,293.8 360.9,295 361.3,291.3 361.7,289.9 362.1,287.4 362.5,291.4 362.9,292 363.3,293.5 363.7,297.2 364.1,293.2 364.5,293.8 364.9,292.7 365.3,292.4 365.8,297.4 366.2,297.4 366.6,299 367,296.5 367.4,294.8 367.8,298 368.2,294.4 368.6,295.3 369,288.4 369.4,295.2 369.8,294.2 370.2,297.6 370.6,294.5 371.1,290.9 371.5,295.6 371.9,292.1 372.3,293.9 372.7,295.8 373.1,296.2 373.5,290 373.9,293.4 374.3,292.9 374.7,289.9 375.1,296.1 375.5,291 375.9,289.8 376.4,291.2 376.8,296.7 377.2,299.2 377.6,298.1 378,296.2 378.4,294.7 378.8,296.4 379.2,294.9 379.6,291.4 380,295.6 380.4,292.5 380.8,294.9 381.2,292.6 381.7,293.4 382.1,292.5 382.5,295.6 382.9,296.9 383.3,295.5 383.7,296.9 384.1,298 384.5,302 384.9,303.5 385.3,298.9 385.7,302.7 386.1,299.6 386.5,294.6 387,296 387.4,295 387.8,297 388.2,296.6 388.6,294.1 389,293.1 389.4,296.1 389.8,293.7 390.2,289.3 390.6,295 391,299.7 391.4,294.4 391.8,296.6 392.2,296.6 392.7,300.8 393.1,299.7 393.5,294.8 393.9,294.2 394.3,298.4 394.7,297.7 395.1,298.6 395.5,299.7 395.9,298.5 396.3,298.4 396.7,298.7 397.1,300.3 397.5,301.2 398,299.3 398.4,298.2 398.8,296.5 399.2,297.3 399.6,299.8 400,298.1 400.4,299.6 400.8,299.8 401.2,295.5 401.6,300.9 402,299.5 402.4,292.8 402.8,295.4 403.3,290.4 403.7,294.5 404.1,294.3 404.5,296.7 404.9,295.5 405.3,298.4 405.7,295.2 406.1,298.4 406.5,292.5 406.9,297.6 407.3,297.1 407.7,292.2 408.1,292.5 408.6,295.7 409,292.6 409.4,292.1 409.8,294 410.2,289.7 410.6,290 411,289.9 411.4,291.6 411.8,293.3 412.2,291.2 412.6,289 413,290.1 413.4,288.3 413.9,297.8 414.3,296.8 414.7,298.9 415.1,296.3 415.5,293.8 415.9,293.1 416.3,294.8 416.7,294.2 417.1,294.5 417.5,299.9 417.9,298.6 418.3,297.5 418.7,299.5 419.2,300.3 419.6,301.8 420,298.8 420.4,302.9 420.8,297.7 421.2,299.1 421.6,304.7 422,302.2 422.4,301.3 422.8,300.4 423.2,290.7 423.6,292.1 424,297.4 424.4,299.8 424.9,302.3 425.3,307.9 425.7,303.7 426.1,305.4 426.5,305 426.9,304.2 427.3,304.9 427.7,298.7 428.1,302.4 428.5,304.3 428.9,298.8 429.3,303.1 429.7,298.8 430.2,296 430.6,299.2 431,301.5 431.4,296.3 431.8,300.3 432.2,295.9 432.6,293.8 433,294 433.4,299.2 433.8,296.4 434.2,299.1 434.6,299.3 435,295.9 435.5,296.3 435.9,295.7 436.3,297 436.7,295.4 437.1,294.4 437.5,295.5 437.9,295.2 438.3,293.3 438.7,295.7 439.1,298.7 439.5,292.8 439.9,292.7 440.3,292.5 440.8,292 441.2,288.3 441.6,291.1 442,290.7 442.4,292.1 442.8,286.5 443.2,287.5 443.6,290.5 444,289.7 444.4,292.9 444.8,291.6 445.2,293.8 445.6,294.8 446.1,293.1 446.5,296.9 446.9,296.9 447.3,297 447.7,295.3 448.1,298.1 448.5,294.6 448.9,293.6 449.3,293.5 449.7,295.5 450.1,292.5 450.5,290.8 450.9,296 451.4,299.6 451.8,299.2 452.2,302 452.6,302.3 453,303.6 453.4,309.7 453.8,305.6 454.2,302.2 454.6,297.9 455,297.9 455.4,293.1 455.8,295.8 456.2,296.1 456.6,293.6 457.1,296.5 457.5,292.1 457.9,294.6 458.3,295.9 458.7,287.9 459.1,285.6 459.5,288.1 459.9,290.7 460.3,291.7 460.7,296.1 461.1,293.4 461.5,285.6 461.9,285.8 462.4,285.3 462.8,289.3 463.2,288.1 463.6,295.2 464,286.8 464.4,283.8 464.8,284.9 465.2,282.1 465.6,287.3 466,285.7 466.4,282.2 466.8,283.6 467.2,280.2 467.7,281.7 468.1,283.6 468.5,278.2 468.9,275.1 469.3,274.1 469.7,278.4 470.1,278.1 470.5,275.1 470.9,276.1 471.3,275.3 471.7,275.7 472.1,276.5 472.5,274.6 473,277.2 473.4,268.9 473.8,273.6 474.2,276.5 474.6,275.7 475,273.9 475.4,273.4 475.8,276.1 476.2,277.1 476.6,277.3 477,278 477.4,279.4 477.8,277.4 478.3,277.9 478.7,274.4 479.1,274.7 479.5,278.2 479.9,275.4 480.3,279.1 480.7,273 481.1,275.2 481.5,281.7 481.9,274.4 482.3,283.2 482.7,283 483.1,282.9 483.6,285.3 484,287.5 484.4,279.6 484.8,281.2 485.2,286.1 485.6,288.6 486,284.6 486.4,286.2 486.8,285.8 487.2,288 487.6,289.7 488,288 488.4,280.5 488.9,280.1 489.3,279.9 489.7,280.7 490.1,282.8 490.5,280.1 490.9,278.5 491.3,276.5 491.7,277.7 492.1,281.9 492.5,281.9 492.9,280.3 493.3,281.4 493.7,279.5 494.1,282.4 494.6,278.1 495,283.8 495.4,272.2 495.8,270.6 496.2,273.1 496.6,276.8 497,275.5 497.4,271.1 497.8,276.3 498.2,281.1 498.6,282.2 499,284.2 499.4,285.4 499.9,280.7 500.3,282.4 500.7,278 501.1,279.5 501.5,276.1 501.9,285.5 502.3,276.8 502.7,273.6 503.1,274.7 503.5,277.4 503.9,279.4 504.3,283.4 504.7,284.1 505.2,277.1 505.6,278.8 506,279.2 506.4,281.6 506.8,287.7 507.2,288 507.6,285.2"/>
<rect x="97.7" y="89" width="4.6" height="275.3" fill="#000"/>
<rect x="92" y="359.7" width="417.8" height="4.6" fill="#000"/>
<rect x="92" y="360" width="8" height="4" fill="#000"/>
<text x="88.5" y="373.3" font-size="34" font-weight="bold" text-anchor="end">0</text>
<rect x="92" y="305.8" width="8" height="4" fill="#000"/>
<text x="88.5" y="319.1" font-size="34" font-weight="bold" text-anchor="end">2</text>
<rect x="92" y="251.6" width="8" height="4" fill="#000"/>
<text x="88.5" y="264.9" font-size="34" font-weight="bold" text-anchor="end">4</text>
<rect x="92" y="197.4" width="8" height="4" fill="#000"/>
<text x="88.5" y="210.7" font-size="34" font-weight="bold" text-anchor="end">6</text>
<rect x="92" y="143.2" width="8" height="4" fill="#000"/>
<text x="88.5" y="156.5" font-size="34" font-weight="bold" text-anchor="end">8</text>
<rect x="92" y="89" width="8" height="4" fill="#000"/>
<text x="88.5" y="102.3" font-size="34" font-weight="bold" text-anchor="end">10</text>
<rect x="98" y="362" width="4" height="8.5" fill="#000"/>
<text x="100" y="405" font-size="34" font-weight="bold" text-anchor="middle">0</text>
<rect x="199.9" y="362" width="4" height="8.5" fill="#000"/>
<text x="201.9" y="405" font-size="34" font-weight="bold" text-anchor="middle">10</text>
<rect x="301.8" y="362" width="4" height="8.5" fill="#000"/>
<text x="303.8" y="405" font-size="34" font-weight="bold" text-anchor="middle">20</text>
<rect x="403.7" y="362" width="4" height="8.5" fill="#000"/>
<text x="405.7" y="405" font-size="34" font-weight="bold" text-anchor="middle">30</text>
<rect x="505.6" y="362" width="4" height="8.5" fill="#000"/>
<text x="507.6" y="405" font-size="34" font-weight="bold" text-anchor="middle">40</text>
<text x="304" y="455.6" font-size="37" font-weight="bold" text-anchor="middle">Time (ns)</text>
<text transform="translate(38.5 219.5) rotate(-90)" font-size="37" font-weight="bold" text-anchor="middle">RMSD (Å)</text>
<line x1="126.5" y1="118.5" x2="156" y2="118.5" stroke="#0000ff" stroke-width="3"/>
<text x="172.5" y="129" font-size="28.5" font-weight="normal" text-anchor="start">Run 1</text>
<line x1="259.5" y1="118.5" x2="289" y2="118.5" stroke="#ff0000" stroke-width="3"/>
<text x="305.5" y="129" font-size="28.5" font-weight="normal" text-anchor="start">Run 2</text>
<line x1="398" y1="118.5" x2="427.5" y2="118.5" stroke="#00c000" stroke-width="3"/>
<text x="444" y="129" font-size="28.5" font-weight="normal" text-anchor="start">Run 3</text>
<text x="3.5" y="49" font-size="65" font-weight="bold" text-anchor="start">a</text></g>
<g id="pb"><rect x="876.2" y="243.5" width="2.5" height="41.9" fill="#0000ff"/>
<rect x="857.2" y="284.1" width="40.6" height="2.5" fill="#0000ff"/>
<rect x="834.7" y="93" width="85.6" height="151.5" fill="#0000ff"/>
<rect x="998.2" y="269.5" width="2.5" height="42" fill="#ff0000"/>
<rect x="979.2" y="310.2" width="40.6" height="2.5" fill="#ff0000"/>
<rect x="957" y="93" width="85" height="177.5" fill="#ff0000"/>
<rect x="1120" y="227" width="2.5" height="62.5" fill="#00c000"/>
<rect x="1101" y="288.2" width="40.6" height="2.5" fill="#00c000"/>
<rect x="1078.5" y="93" width="85.5" height="135" fill="#00c000"/>
<rect x="793.7" y="89.3" width="4.5" height="274.6" fill="#000"/>
<rect x="788.4" y="89.3" width="414.3" height="4.3" fill="#000"/>
<rect x="788.4" y="359.5" width="414.3" height="4.4" fill="#000"/>
<rect x="788.4" y="89.4" width="6" height="4.2" fill="#000"/>
<text x="786" y="102.8" font-size="34" font-weight="bold" text-anchor="end">0</text>
<rect x="788.4" y="157" width="6" height="4.2" fill="#000"/>
<text x="786" y="170.4" font-size="34" font-weight="bold" text-anchor="end">-50</text>
<rect x="788.4" y="224.5" width="6" height="4.2" fill="#000"/>
<text x="786" y="237.9" font-size="34" font-weight="bold" text-anchor="end">-100</text>
<rect x="788.4" y="292" width="6" height="4.2" fill="#000"/>
<text x="786" y="305.4" font-size="34" font-weight="bold" text-anchor="end">-150</text>
<rect x="788.4" y="359.6" width="6" height="4.2" fill="#000"/>
<text x="786" y="373" font-size="34" font-weight="bold" text-anchor="end">-200</text>
<rect x="875.5" y="362" width="4" height="8.5" fill="#000"/>
<text x="877.5" y="403.5" font-size="34" font-weight="bold" text-anchor="middle">Run 1</text>
<rect x="997.5" y="362" width="4" height="8.5" fill="#000"/>
<text x="999.5" y="403.5" font-size="34" font-weight="bold" text-anchor="middle">Run 2</text>
<rect x="1119.2" y="362" width="4" height="8.5" fill="#000"/>
<text x="1121.2" y="403.5" font-size="34" font-weight="bold" text-anchor="middle">Run 3</text>
<text transform="translate(706.5 217.5) rotate(-90)" font-size="37" font-weight="bold" text-anchor="middle">E (kcal·mol<tspan font-size="26" dy="-17">-1</tspan><tspan dy="17">)</tspan></text>
<text x="672.5" y="49.5" font-size="66" font-weight="bold" text-anchor="start">b</text></g>
<g id="pc"><path d="M1549.7 187.8l1.7 3h-3.4zM1574.5 187.8l1.7 3h-3.4zM1580.5 187.8l1.7 3h-3.4zM1607.3 187.8l1.7 3h-3.4zM1642 187.8l1.7 3h-3.4zM1656.6 187.8l1.7 3h-3.4zM1431.7 210.2l1.7 3h-3.4zM1440.6 210.2l1.7 3h-3.4zM1463.8 210.2l1.7 3h-3.4zM1481.2 210.2l1.7 3h-3.4zM1487 210.2l1.7 3h-3.4zM1551.3 210.2l1.7 3h-3.4zM1553.4 210.2l1.7 3h-3.4zM1550.3 211.8h4.1v1.4h-4.1zM1559.9 210.2l1.7 3h-3.4zM1572.4 210.2l1.7 3h-3.4zM1573.7 210.2l1.7 3h-3.4zM1587.2 210.2l1.7 3h-3.4zM1588.5 210.2l1.7 3h-3.4zM1632.4 210.2l1.7 3h-3.4zM1655.3 210.2l1.7 3h-3.4zM1425 232.6l1.7 3h-3.4zM1428.9 232.6l1.7 3h-3.4zM1435.7 232.6l1.7 3h-3.4zM1437.6 232.6l1.7 3h-3.4zM1439.5 232.6l1.7 3h-3.4zM1441.5 232.6l1.7 3h-3.4zM1443.4 232.6l1.7 3h-3.4zM1445.3 232.6l1.7 3h-3.4zM1447.3 232.6l1.7 3h-3.4zM1449.2 232.6l1.7 3h-3.4zM1451.2 232.6l1.7 3h-3.4zM1453.1 232.6l1.7 3h-3.4zM1455 232.6l1.7 3h-3.4zM1457 232.6l1.7 3h-3.4zM1458.9 232.6l1.7 3h-3.4zM1460.8 232.6l1.7 3h-3.4zM1462.8 232.6l1.7 3h-3.4zM1434.7 234.2h29.1v1.4h-29.1zM1468.5 232.6l1.7 3h-3.4zM1469.8 232.6l1.7 3h-3.4zM1474.7 232.6l1.7 3h-3.4zM1477 232.6l1.7 3h-3.4zM1479.3 232.6l1.7 3h-3.4zM1481.5 232.6l1.7 3h-3.4zM1473.7 234.2h8.8v1.4h-8.8zM1487 232.6l1.7 3h-3.4zM1494.3 232.6l1.7 3h-3.4zM1496.1 232.6l1.7 3h-3.4zM1497.9 232.6l1.7 3h-3.4zM1493.3 234.2h5.7v1.4h-5.7zM1504.4 232.6l1.7 3h-3.4zM1535.6 232.6l1.7 3h-3.4zM1548.4 232.6l1.7 3h-3.4zM1552.3 232.6l1.7 3h-3.4zM1557 232.6l1.7 3h-3.4zM1562.2 232.6l1.7 3h-3.4zM1564.2 232.6l1.7 3h-3.4zM1566.2 232.6l1.7 3h-3.4zM1568.2 232.6l1.7 3h-3.4zM1561.2 234.2h8v1.4h-8zM1576.3 232.6l1.7 3h-3.4zM1578.3 232.6l1.7 3h-3.4zM1580.4 232.6l1.7 3h-3.4zM1582.4 232.6l1.7 3h-3.4zM1584.5 232.6l1.7 3h-3.4zM1586.5 232.6l1.7 3h-3.4zM1588.5 232.6l1.7 3h-3.4zM1575.3 234.2h14.2v1.4h-14.2zM1597.2 232.6l1.7 3h-3.4zM1601.6 232.6l1.7 3h-3.4zM1606.2 232.6l1.7 3h-3.4zM1610.9 232.6l1.7 3h-3.4zM1614.8 232.6l1.7 3h-3.4zM1611.3 232.6l1.7 3h-3.4zM1613.4 232.6l1.7 3h-3.4zM1610.3 234.2h4.1v1.4h-4.1zM1619.1 232.6l1.7 3h-3.4zM1621.1 232.6l1.7 3h-3.4zM1623.1 232.6l1.7 3h-3.4zM1625 232.6l1.7 3h-3.4zM1627 232.6l1.7 3h-3.4zM1629 232.6l1.7 3h-3.4zM1630.9 232.6l1.7 3h-3.4zM1632.9 232.6l1.7 3h-3.4zM1618.1 234.2h15.8v1.4h-15.8zM1638.6 232.6l1.7 3h-3.4zM1640 232.6l1.7 3h-3.4zM1651.1 232.6l1.7 3h-3.4zM1653.1 232.6l1.7 3h-3.4zM1655.1 232.6l1.7 3h-3.4zM1657.1 232.6l1.7 3h-3.4zM1650.1 234.2h8v1.4h-8zM1662.1 232.6l1.7 3h-3.4zM1663.4 232.6l1.7 3h-3.4zM1824.4 232.6l1.7 3h-3.4zM1428.6 255l1.7 3h-3.4zM1430.7 255l1.7 3h-3.4zM1432.7 255l1.7 3h-3.4zM1434.7 255l1.7 3h-3.4zM1436.7 255l1.7 3h-3.4zM1438.7 255l1.7 3h-3.4zM1440.7 255l1.7 3h-3.4zM1442.7 255l1.7 3h-3.4zM1444.7 255l1.7 3h-3.4zM1446.7 255l1.7 3h-3.4zM1448.7 255l1.7 3h-3.4zM1450.7 255l1.7 3h-3.4zM1452.7 255l1.7 3h-3.4zM1454.7 255l1.7 3h-3.4zM1456.7 255l1.7 3h-3.4zM1458.7 255l1.7 3h-3.4zM1460.8 255l1.7 3h-3.4zM1462.8 255l1.7 3h-3.4zM1427.6 256.6h36.1v1.4h-36.1zM1467.2 255l1.7 3h-3.4zM1473.2 255l1.7 3h-3.4zM1474.9 255l1.7 3h-3.4zM1476.7 255l1.7 3h-3.4zM1478.4 255l1.7 3h-3.4zM1472.2 256.6h7.2v1.4h-7.2zM1483.3 255l1.7 3h-3.4zM1485.4 255l1.7 3h-3.4zM1487.5 255l1.7 3h-3.4zM1489.5 255l1.7 3h-3.4zM1491.6 255l1.7 3h-3.4zM1493.6 255l1.7 3h-3.4zM1495.7 255l1.7 3h-3.4zM1497.8 255l1.7 3h-3.4zM1499.8 255l1.7 3h-3.4zM1501.9 255l1.7 3h-3.4zM1504 255l1.7 3h-3.4zM1506 255l1.7 3h-3.4zM1508.1 255l1.7 3h-3.4zM1482.3 256.6h26.7v1.4h-26.7zM1531.2 255l1.7 3h-3.4zM1537.1 255l1.7 3h-3.4zM1545.3 255l1.7 3h-3.4zM1549.7 255l1.7 3h-3.4zM1551.7 255l1.7 3h-3.4zM1553.7 255l1.7 3h-3.4zM1555.7 255l1.7 3h-3.4zM1557.7 255l1.7 3h-3.4zM1559.7 255l1.7 3h-3.4zM1561.7 255l1.7 3h-3.4zM1563.7 255l1.7 3h-3.4zM1565.7 255l1.7 3h-3.4zM1567.7 255l1.7 3h-3.4zM1569.8 255l1.7 3h-3.4zM1571.8 255l1.7 3h-3.4zM1573.8 255l1.7 3h-3.4zM1575.8 255l1.7 3h-3.4zM1577.8 255l1.7 3h-3.4zM1579.8 255l1.7 3h-3.4zM1581.8 255l1.7 3h-3.4zM1583.8 255l1.7 3h-3.4zM1585.8 255l1.7 3h-3.4zM1587.8 255l1.7 3h-3.4zM1548.7 256.6h40v1.4h-40zM1591.9 255l1.7 3h-3.4zM1593.9 255l1.7 3h-3.4zM1596 255l1.7 3h-3.4zM1598 255l1.7 3h-3.4zM1600 255l1.7 3h-3.4zM1602 255l1.7 3h-3.4zM1604 255l1.7 3h-3.4zM1606.1 255l1.7 3h-3.4zM1608.1 255l1.7 3h-3.4zM1590.9 256.6h18.2v1.4h-18.2zM1611.3 255l1.7 3h-3.4zM1613.4 255l1.7 3h-3.4zM1615.5 255l1.7 3h-3.4zM1617.6 255l1.7 3h-3.4zM1619.6 255l1.7 3h-3.4zM1621.7 255l1.7 3h-3.4zM1623.8 255l1.7 3h-3.4zM1625.9 255l1.7 3h-3.4zM1610.3 256.6h16.6v1.4h-16.6zM1630.8 255l1.7 3h-3.4zM1632.7 255l1.7 3h-3.4zM1634.7 255l1.7 3h-3.4zM1636.6 255l1.7 3h-3.4zM1638.5 255l1.7 3h-3.4zM1640.4 255l1.7 3h-3.4zM1642.3 255l1.7 3h-3.4zM1629.8 256.6h13.5v1.4h-13.5zM1650.4 255l1.7 3h-3.4zM1652.4 255l1.7 3h-3.4zM1654.5 255l1.7 3h-3.4zM1656.6 255l1.7 3h-3.4zM1658.7 255l1.7 3h-3.4zM1660.8 255l1.7 3h-3.4zM1662.9 255l1.7 3h-3.4zM1664.9 255l1.7 3h-3.4zM1667 255l1.7 3h-3.4zM1669.1 255l1.7 3h-3.4zM1671.2 255l1.7 3h-3.4zM1649.4 256.6h22.8v1.4h-22.8zM1756.4 255l1.7 3h-3.4zM1823.8 255l1.7 3h-3.4zM1826 255l1.7 3h-3.4zM1828.2 255l1.7 3h-3.4zM1822.8 256.6h6.4v1.4h-6.4zM1426.3 277.4l1.7 3h-3.4zM1428.2 277.4l1.7 3h-3.4zM1430.1 277.4l1.7 3h-3.4zM1432 277.4l1.7 3h-3.4zM1433.9 277.4l1.7 3h-3.4zM1425.3 279h9.6v1.4h-9.6zM1439.6 277.4l1.7 3h-3.4zM1441.6 277.4l1.7 3h-3.4zM1443.7 277.4l1.7 3h-3.4zM1445.7 277.4l1.7 3h-3.4zM1447.8 277.4l1.7 3h-3.4zM1449.8 277.4l1.7 3h-3.4zM1451.9 277.4l1.7 3h-3.4zM1454 277.4l1.7 3h-3.4zM1456 277.4l1.7 3h-3.4zM1458.1 277.4l1.7 3h-3.4zM1460.1 277.4l1.7 3h-3.4zM1462.2 277.4l1.7 3h-3.4zM1464.2 277.4l1.7 3h-3.4zM1466.3 277.4l1.7 3h-3.4zM1468.3 277.4l1.7 3h-3.4zM1470.4 277.4l1.7 3h-3.4zM1472.4 277.4l1.7 3h-3.4zM1474.5 277.4l1.7 3h-3.4zM1438.6 279h36.9v1.4h-36.9zM1480.2 277.4l1.7 3h-3.4zM1482.2 277.4l1.7 3h-3.4zM1484.1 277.4l1.7 3h-3.4zM1486.1 277.4l1.7 3h-3.4zM1488.1 277.4l1.7 3h-3.4zM1490 277.4l1.7 3h-3.4zM1492 277.4l1.7 3h-3.4zM1493.9 277.4l1.7 3h-3.4zM1495.9 277.4l1.7 3h-3.4zM1497.9 277.4l1.7 3h-3.4zM1499.8 277.4l1.7 3h-3.4zM1501.8 277.4l1.7 3h-3.4zM1503.7 277.4l1.7 3h-3.4zM1505.7 277.4l1.7 3h-3.4zM1507.7 277.4l1.7 3h-3.4zM1509.6 277.4l1.7 3h-3.4zM1511.6 277.4l1.7 3h-3.4zM1513.5 277.4l1.7 3h-3.4zM1479.2 279h35.3v1.4h-35.3zM1523 277.4l1.7 3h-3.4zM1527.9 277.4l1.7 3h-3.4zM1529.7 277.4l1.7 3h-3.4zM1531.5 277.4l1.7 3h-3.4zM1526.9 279h5.7v1.4h-5.7zM1538.8 277.4l1.7 3h-3.4zM1541.1 277.4l1.7 3h-3.4zM1543.3 277.4l1.7 3h-3.4zM1545.6 277.4l1.7 3h-3.4zM1537.8 279h8.8v1.4h-8.8zM1550.5 277.4l1.7 3h-3.4zM1552.6 277.4l1.7 3h-3.4zM1554.8 277.4l1.7 3h-3.4zM1556.9 277.4l1.7 3h-3.4zM1559 277.4l1.7 3h-3.4zM1561.1 277.4l1.7 3h-3.4zM1563.2 277.4l1.7 3h-3.4zM1565.3 277.4l1.7 3h-3.4zM1567.5 277.4l1.7 3h-3.4zM1549.5 279h18.9v1.4h-18.9zM1572.7 277.4l1.7 3h-3.4zM1577.9 277.4l1.7 3h-3.4zM1579.9 277.4l1.7 3h-3.4zM1581.9 277.4l1.7 3h-3.4zM1583.9 277.4l1.7 3h-3.4zM1576.9 279h8v1.4h-8zM1590.4 277.4l1.7 3h-3.4zM1592.3 277.4l1.7 3h-3.4zM1594.3 277.4l1.7 3h-3.4zM1596.3 277.4l1.7 3h-3.4zM1598.2 277.4l1.7 3h-3.4zM1600.2 277.4l1.7 3h-3.4zM1602.2 277.4l1.7 3h-3.4zM1604.1 277.4l1.7 3h-3.4zM1606.1 277.4l1.7 3h-3.4zM1608.1 277.4l1.7 3h-3.4zM1589.4 279h19.7v1.4h-19.7zM1611.3 277.4l1.7 3h-3.4zM1619.1 277.4l1.7 3h-3.4zM1621.2 277.4l1.7 3h-3.4zM1623.4 277.4l1.7 3h-3.4zM1625.5 277.4l1.7 3h-3.4zM1627.7 277.4l1.7 3h-3.4zM1629.8 277.4l1.7 3h-3.4zM1618.1 279h12.7v1.4h-12.7zM1635.5 277.4l1.7 3h-3.4zM1637.5 277.4l1.7 3h-3.4zM1639.5 277.4l1.7 3h-3.4zM1641.4 277.4l1.7 3h-3.4zM1643.4 277.4l1.7 3h-3.4zM1645.4 277.4l1.7 3h-3.4zM1647.3 277.4l1.7 3h-3.4zM1649.3 277.4l1.7 3h-3.4zM1651.3 277.4l1.7 3h-3.4zM1653.2 277.4l1.7 3h-3.4zM1634.5 279h19.7v1.4h-19.7zM1659 277.4l1.7 3h-3.4zM1660.8 277.4l1.7 3h-3.4zM1662.6 277.4l1.7 3h-3.4zM1658 279h5.7v1.4h-5.7zM1669.1 277.4l1.7 3h-3.4zM1671.3 277.4l1.7 3h-3.4zM1673.5 277.4l1.7 3h-3.4zM1668.1 279h6.4v1.4h-6.4zM1680.6 277.4l1.7 3h-3.4zM1717.1 277.4l1.7 3h-3.4zM1718.8 277.4l1.7 3h-3.4zM1720.4 277.4l1.7 3h-3.4zM1716.1 279h5.3v1.4h-5.3zM1770.9 277.4l1.7 3h-3.4zM1793.6 277.4l1.7 3h-3.4zM1798.8 277.4l1.7 3h-3.4zM1819.1 277.4l1.7 3h-3.4zM1820.4 277.4l1.7 3h-3.4zM1827.2 277.4l1.7 3h-3.4zM1425.8 299.8l1.7 3h-3.4zM1434.1 299.8l1.7 3h-3.4zM1435.4 299.8l1.7 3h-3.4zM1446.1 299.8l1.7 3h-3.4zM1453.1 299.8l1.7 3h-3.4zM1463.8 299.8l1.7 3h-3.4zM1465.9 299.8l1.7 3h-3.4zM1468 299.8l1.7 3h-3.4zM1470.1 299.8l1.7 3h-3.4zM1472.1 299.8l1.7 3h-3.4zM1462.8 301.4h10.3v1.4h-10.3zM1477.3 299.8l1.7 3h-3.4zM1490.4 299.8l1.7 3h-3.4zM1492.1 299.8l1.7 3h-3.4zM1493.8 299.8l1.7 3h-3.4zM1495.6 299.8l1.7 3h-3.4zM1489.4 301.4h7.2v1.4h-7.2zM1508.3 299.8l1.7 3h-3.4zM1510.3 299.8l1.7 3h-3.4zM1512.2 299.8l1.7 3h-3.4zM1514.1 299.8l1.7 3h-3.4zM1516.1 299.8l1.7 3h-3.4zM1518 299.8l1.7 3h-3.4zM1519.9 299.8l1.7 3h-3.4zM1521.9 299.8l1.7 3h-3.4zM1523.8 299.8l1.7 3h-3.4zM1525.7 299.8l1.7 3h-3.4zM1527.7 299.8l1.7 3h-3.4zM1529.6 299.8l1.7 3h-3.4zM1531.5 299.8l1.7 3h-3.4zM1533.5 299.8l1.7 3h-3.4zM1535.4 299.8l1.7 3h-3.4zM1507.3 301.4h29.1v1.4h-29.1zM1541.1 299.8l1.7 3h-3.4zM1543.1 299.8l1.7 3h-3.4zM1545.1 299.8l1.7 3h-3.4zM1547.1 299.8l1.7 3h-3.4zM1540.1 301.4h8v1.4h-8zM1564.1 299.8l1.7 3h-3.4zM1570 299.8l1.7 3h-3.4zM1583.3 299.8l1.7 3h-3.4zM1592.7 299.8l1.7 3h-3.4zM1594.7 299.8l1.7 3h-3.4zM1596.7 299.8l1.7 3h-3.4zM1598.7 299.8l1.7 3h-3.4zM1591.7 301.4h8v1.4h-8zM1606 299.8l1.7 3h-3.4zM1608.1 299.8l1.7 3h-3.4zM1605 301.4h4.1v1.4h-4.1zM1611.3 299.8l1.7 3h-3.4zM1613.4 299.8l1.7 3h-3.4zM1615.5 299.8l1.7 3h-3.4zM1617.6 299.8l1.7 3h-3.4zM1619.8 299.8l1.7 3h-3.4zM1621.9 299.8l1.7 3h-3.4zM1624 299.8l1.7 3h-3.4zM1626.1 299.8l1.7 3h-3.4zM1628.2 299.8l1.7 3h-3.4zM1610.3 301.4h18.9v1.4h-18.9zM1641.8 299.8l1.7 3h-3.4zM1643.7 299.8l1.7 3h-3.4zM1645.7 299.8l1.7 3h-3.4zM1647.7 299.8l1.7 3h-3.4zM1649.7 299.8l1.7 3h-3.4zM1651.7 299.8l1.7 3h-3.4zM1640.8 301.4h11.9v1.4h-11.9zM1660.5 299.8l1.7 3h-3.4zM1662.6 299.8l1.7 3h-3.4zM1664.7 299.8l1.7 3h-3.4zM1666.8 299.8l1.7 3h-3.4zM1668.9 299.8l1.7 3h-3.4zM1659.5 301.4h10.3v1.4h-10.3zM1673.8 299.8l1.7 3h-3.4zM1675.8 299.8l1.7 3h-3.4zM1677.9 299.8l1.7 3h-3.4zM1679.9 299.8l1.7 3h-3.4zM1682 299.8l1.7 3h-3.4zM1684 299.8l1.7 3h-3.4zM1686.1 299.8l1.7 3h-3.4zM1688.1 299.8l1.7 3h-3.4zM1690.2 299.8l1.7 3h-3.4zM1692.2 299.8l1.7 3h-3.4zM1694.3 299.8l1.7 3h-3.4zM1696.3 299.8l1.7 3h-3.4zM1698.4 299.8l1.7 3h-3.4zM1700.4 299.8l1.7 3h-3.4zM1702.5 299.8l1.7 3h-3.4zM1672.8 301.4h30.7v1.4h-30.7zM1715.2 299.8l1.7 3h-3.4zM1717.1 299.8l1.7 3h-3.4zM1719 299.8l1.7 3h-3.4zM1721 299.8l1.7 3h-3.4zM1722.9 299.8l1.7 3h-3.4zM1724.8 299.8l1.7 3h-3.4zM1726.7 299.8l1.7 3h-3.4zM1728.7 299.8l1.7 3h-3.4zM1730.6 299.8l1.7 3h-3.4zM1714.2 301.4h17.4v1.4h-17.4zM1736.6 299.8l1.7 3h-3.4zM1743.3 299.8l1.7 3h-3.4zM1745.4 299.8l1.7 3h-3.4zM1742.3 301.4h4.1v1.4h-4.1zM1754.3 299.8l1.7 3h-3.4zM1756.3 299.8l1.7 3h-3.4zM1758.3 299.8l1.7 3h-3.4zM1760.3 299.8l1.7 3h-3.4zM1753.3 301.4h8v1.4h-8zM1769.1 299.8l1.7 3h-3.4zM1771.1 299.8l1.7 3h-3.4zM1773.1 299.8l1.7 3h-3.4zM1775.1 299.8l1.7 3h-3.4zM1777.1 299.8l1.7 3h-3.4zM1779.1 299.8l1.7 3h-3.4zM1781.1 299.8l1.7 3h-3.4zM1783 299.8l1.7 3h-3.4zM1785 299.8l1.7 3h-3.4zM1787 299.8l1.7 3h-3.4zM1789 299.8l1.7 3h-3.4zM1791 299.8l1.7 3h-3.4zM1793 299.8l1.7 3h-3.4zM1795 299.8l1.7 3h-3.4zM1797 299.8l1.7 3h-3.4zM1768.1 301.4h29.9v1.4h-29.9zM1804.5 299.8l1.7 3h-3.4zM1811.3 299.8l1.7 3h-3.4zM1813.3 299.8l1.7 3h-3.4zM1815.2 299.8l1.7 3h-3.4zM1817.2 299.8l1.7 3h-3.4zM1819.2 299.8l1.7 3h-3.4zM1821.2 299.8l1.7 3h-3.4zM1823.1 299.8l1.7 3h-3.4zM1825.1 299.8l1.7 3h-3.4zM1810.3 301.4h15.8v1.4h-15.8zM1453.6 322.2l1.7 3h-3.4zM1476.6 322.2l1.7 3h-3.4zM1493.8 322.2l1.7 3h-3.4zM1508.3 322.2l1.7 3h-3.4zM1510.5 322.2l1.7 3h-3.4zM1512.6 322.2l1.7 3h-3.4zM1514.7 322.2l1.7 3h-3.4zM1516.9 322.2l1.7 3h-3.4zM1519 322.2l1.7 3h-3.4zM1507.3 323.8h12.7v1.4h-12.7zM1526.3 322.2l1.7 3h-3.4zM1528 322.2l1.7 3h-3.4zM1529.8 322.2l1.7 3h-3.4zM1531.5 322.2l1.7 3h-3.4zM1525.3 323.8h7.2v1.4h-7.2zM1536.4 322.2l1.7 3h-3.4zM1541.9 322.2l1.7 3h-3.4zM1571.9 322.2l1.7 3h-3.4zM1582 322.2l1.7 3h-3.4zM1595.8 322.2l1.7 3h-3.4zM1617.5 322.2l1.7 3h-3.4zM1618.9 322.2l1.7 3h-3.4zM1648.8 322.2l1.7 3h-3.4zM1655.6 322.2l1.7 3h-3.4zM1668.3 322.2l1.7 3h-3.4zM1670.2 322.2l1.7 3h-3.4zM1672 322.2l1.7 3h-3.4zM1667.3 323.8h5.7v1.4h-5.7zM1680.8 322.2l1.7 3h-3.4zM1682.9 322.2l1.7 3h-3.4zM1684.9 322.2l1.7 3h-3.4zM1687 322.2l1.7 3h-3.4zM1689.1 322.2l1.7 3h-3.4zM1691.1 322.2l1.7 3h-3.4zM1693.2 322.2l1.7 3h-3.4zM1695.2 322.2l1.7 3h-3.4zM1697.3 322.2l1.7 3h-3.4zM1699.3 322.2l1.7 3h-3.4zM1679.8 323.8h20.5v1.4h-20.5zM1704.3 322.2l1.7 3h-3.4zM1706.3 322.2l1.7 3h-3.4zM1708.3 322.2l1.7 3h-3.4zM1710.4 322.2l1.7 3h-3.4zM1712.4 322.2l1.7 3h-3.4zM1714.5 322.2l1.7 3h-3.4zM1716.5 322.2l1.7 3h-3.4zM1718.5 322.2l1.7 3h-3.4zM1720.6 322.2l1.7 3h-3.4zM1722.6 322.2l1.7 3h-3.4zM1724.6 322.2l1.7 3h-3.4zM1726.7 322.2l1.7 3h-3.4zM1703.3 323.8h24.4v1.4h-24.4zM1731.6 322.2l1.7 3h-3.4zM1733.6 322.2l1.7 3h-3.4zM1735.7 322.2l1.7 3h-3.4zM1737.7 322.2l1.7 3h-3.4zM1739.7 322.2l1.7 3h-3.4zM1741.7 322.2l1.7 3h-3.4zM1743.8 322.2l1.7 3h-3.4zM1745.8 322.2l1.7 3h-3.4zM1747.8 322.2l1.7 3h-3.4zM1749.9 322.2l1.7 3h-3.4zM1751.9 322.2l1.7 3h-3.4zM1753.9 322.2l1.7 3h-3.4zM1755.9 322.2l1.7 3h-3.4zM1758 322.2l1.7 3h-3.4zM1760 322.2l1.7 3h-3.4zM1762 322.2l1.7 3h-3.4zM1764 322.2l1.7 3h-3.4zM1766.1 322.2l1.7 3h-3.4zM1768.1 322.2l1.7 3h-3.4zM1770.1 322.2l1.7 3h-3.4zM1772.2 322.2l1.7 3h-3.4zM1774.2 322.2l1.7 3h-3.4zM1776.2 322.2l1.7 3h-3.4zM1778.2 322.2l1.7 3h-3.4zM1730.6 323.8h48.6v1.4h-48.6zM1787.1 322.2l1.7 3h-3.4zM1788.8 322.2l1.7 3h-3.4zM1790.6 322.2l1.7 3h-3.4zM1792.3 322.2l1.7 3h-3.4zM1786.1 323.8h7.2v1.4h-7.2zM1798 322.2l1.7 3h-3.4zM1800.2 322.2l1.7 3h-3.4zM1802.3 322.2l1.7 3h-3.4zM1804.4 322.2l1.7 3h-3.4zM1806.6 322.2l1.7 3h-3.4zM1808.7 322.2l1.7 3h-3.4zM1797 323.8h12.7v1.4h-12.7zM1816 322.2l1.7 3h-3.4zM1817.8 322.2l1.7 3h-3.4zM1819.6 322.2l1.7 3h-3.4zM1821.5 322.2l1.7 3h-3.4zM1823.3 322.2l1.7 3h-3.4zM1825.1 322.2l1.7 3h-3.4zM1815 323.8h11.1v1.4h-11.1zM1425.8 344.6l1.7 3h-3.4zM1512.8 344.6l1.7 3h-3.4zM1524.7 344.6l1.7 3h-3.4zM1536.5 344.6l1.7 3h-3.4zM1537.8 344.6l1.7 3h-3.4zM1546.9 344.6l1.7 3h-3.4zM1615.5 344.6l1.7 3h-3.4zM1667.3 344.6l1.7 3h-3.4zM1677.7 344.6l1.7 3h-3.4zM1679.9 344.6l1.7 3h-3.4zM1682.1 344.6l1.7 3h-3.4zM1676.7 346.2h6.4v1.4h-6.4zM1687.9 344.6l1.7 3h-3.4zM1689.8 344.6l1.7 3h-3.4zM1691.7 344.6l1.7 3h-3.4zM1693.6 344.6l1.7 3h-3.4zM1695.5 344.6l1.7 3h-3.4zM1697.5 344.6l1.7 3h-3.4zM1699.4 344.6l1.7 3h-3.4zM1701.3 344.6l1.7 3h-3.4zM1703.2 344.6l1.7 3h-3.4zM1686.9 346.2h17.4v1.4h-17.4zM1708.4 344.6l1.7 3h-3.4zM1719.9 344.6l1.7 3h-3.4zM1721.9 344.6l1.7 3h-3.4zM1724 344.6l1.7 3h-3.4zM1726.1 344.6l1.7 3h-3.4zM1728.1 344.6l1.7 3h-3.4zM1730.2 344.6l1.7 3h-3.4zM1732.2 344.6l1.7 3h-3.4zM1734.3 344.6l1.7 3h-3.4zM1736.3 344.6l1.7 3h-3.4zM1738.4 344.6l1.7 3h-3.4zM1718.9 346.2h20.5v1.4h-20.5zM1748 344.6l1.7 3h-3.4zM1750.9 344.6l1.7 3h-3.4zM1747 346.2h4.9v1.4h-4.9zM1759.7 344.6l1.7 3h-3.4zM1761.7 344.6l1.7 3h-3.4zM1763.7 344.6l1.7 3h-3.4zM1765.6 344.6l1.7 3h-3.4zM1767.6 344.6l1.7 3h-3.4zM1769.6 344.6l1.7 3h-3.4zM1771.5 344.6l1.7 3h-3.4zM1773.5 344.6l1.7 3h-3.4zM1775.4 344.6l1.7 3h-3.4zM1777.4 344.6l1.7 3h-3.4zM1779.4 344.6l1.7 3h-3.4zM1781.3 344.6l1.7 3h-3.4zM1783.3 344.6l1.7 3h-3.4zM1785.3 344.6l1.7 3h-3.4zM1758.7 346.2h27.5v1.4h-27.5zM1791 344.6l1.7 3h-3.4zM1793.1 344.6l1.7 3h-3.4zM1795.3 344.6l1.7 3h-3.4zM1797.4 344.6l1.7 3h-3.4zM1799.5 344.6l1.7 3h-3.4zM1801.7 344.6l1.7 3h-3.4zM1790 346.2h12.7v1.4h-12.7zM1806.6 344.6l1.7 3h-3.4zM1808.6 344.6l1.7 3h-3.4zM1810.6 344.6l1.7 3h-3.4zM1812.6 344.6l1.7 3h-3.4zM1814.5 344.6l1.7 3h-3.4zM1816.5 344.6l1.7 3h-3.4zM1805.6 346.2h11.9v1.4h-11.9z" fill="#00b000"/>
<path d="M1623.7 161h3.2v3.2h-3.2zM1451.1 183.4h3.2v3.2h-3.2zM1535.1 183.4h3.2v3.2h-3.2zM1583.6 183.4h3.2v3.2h-3.2zM1616.8 183.4h3.2v3.2h-3.2zM1622.6 183.4h3.2v3.2h-3.2zM1631.5 183.4h3.2v3.2h-3.2zM1636.7 183.4h3.2v3.2h-3.2zM1617 183.4h3.2v3.2h-3.2zM1622.5 183.4h3.2v3.2h-3.2zM1631.5 183.4h3.2v3.2h-3.2zM1637 183.4h3.2v3.2h-3.2zM1644 183.4h3.2v3.2h-3.2zM1808 183.4h3.2v3.2h-3.2zM1425 205.8h3.2v3.2h-3.2zM1430.4 205.8h3.2v3.2h-3.2zM1452 205.8h4.5v3.2h-4.5zM1505.7 205.8h3.2v3.2h-3.2zM1512.1 205.8h3.2v3.2h-3.2zM1550.5 205.8h3.7v3.2h-3.7zM1566.7 205.8h3.2v3.2h-3.2zM1578.9 205.8h3.2v3.2h-3.2zM1588.6 205.8h3.2v3.2h-3.2zM1599.7 205.8h3.2v3.2h-3.2zM1606 205.8h6.9v3.2h-6.9zM1618.4 205.8h3.2v3.2h-3.2zM1609.7 205.8h3.7v3.2h-3.7zM1618.6 205.8h3.2v3.2h-3.2zM1642.5 205.8h8.4v3.2h-8.4zM1652.2 205.8h3.2v3.2h-3.2zM1706.5 205.8h3.2v3.2h-3.2zM1760.7 205.8h3.2v3.2h-3.2zM1779.8 205.8h3.2v3.2h-3.2zM1808.1 205.8h3.7v3.2h-3.7zM1815.4 205.8h3.2v3.2h-3.2zM1824 205.8h3.2v3.2h-3.2zM1423.4 228.2h3.2v3.2h-3.2zM1430.2 228.2h38.9v3.2h-38.9zM1482 228.2h3.2v3.2h-3.2zM1498.4 228.2h3.2v3.2h-3.2zM1510.6 228.2h4.5v3.2h-4.5zM1516.9 228.2h6.9v3.2h-6.9zM1533.3 228.2h10v3.2h-10zM1544.5 228.2h3.2v3.2h-3.2zM1548.7 228.2h3.2v3.2h-3.2zM1556 228.2h3.7v3.2h-3.7zM1561.4 228.2h3.7v3.2h-3.7zM1566.4 228.2h3.2v3.2h-3.2zM1570 228.2h5.3v3.2h-5.3zM1575.7 228.2h3.2v3.2h-3.2zM1581 228.2h28.7v3.2h-28.7zM1609.7 228.2h21.7v3.2h-21.7zM1633.9 228.2h3.2v3.2h-3.2zM1638.6 228.2h5.3v3.2h-5.3zM1644.9 228.2h17v3.2h-17zM1664.7 228.2h3.2v3.2h-3.2zM1668.9 228.2h3.2v3.2h-3.2zM1674.5 228.2h5.3v3.2h-5.3zM1683.9 228.2h3.2v3.2h-3.2zM1695.4 228.2h3.2v3.2h-3.2zM1706.6 228.2h5.3v3.2h-5.3zM1722.2 228.2h3.2v3.2h-3.2zM1728.7 228.2h3.2v3.2h-3.2zM1733.9 228.2h9.2v3.2h-9.2zM1744 228.2h3.2v3.2h-3.2zM1752.7 228.2h9.2v3.2h-9.2zM1767.3 228.2h3.2v3.2h-3.2zM1776.1 228.2h6.1v3.2h-6.1zM1797.9 228.2h3.2v3.2h-3.2zM1808.1 228.2h5.3v3.2h-5.3zM1815.4 228.2h3.2v3.2h-3.2zM1819.9 228.2h6.9v3.2h-6.9zM1425.5 250.6h11.5v3.2h-11.5zM1438 250.6h14.7v3.2h-14.7zM1454.4 250.6h3.7v3.2h-3.7zM1460.6 250.6h10v3.2h-10zM1473.9 250.6h3.2v3.2h-3.2zM1479.4 250.6h24v3.2h-24zM1505.4 250.6h3.2v3.2h-3.2zM1511 250.6h89.4v3.2h-89.4zM1602 250.6h6.1v3.2h-6.1zM1609.7 250.6h6.1v3.2h-6.1zM1617.5 250.6h10v3.2h-10zM1629.2 250.6h13.1v3.2h-13.1zM1643.3 250.6h74.8v3.2h-74.8zM1719.1 250.6h33.4v3.2h-33.4zM1752.9 250.6h3.2v3.2h-3.2zM1757.4 250.6h27.2v3.2h-27.2zM1786.3 250.6h10.8v3.2h-10.8zM1802.9 250.6h3.2v3.2h-3.2zM1806.8 250.6h3.2v3.2h-3.2zM1810.7 250.6h3.2v3.2h-3.2zM1817.4 250.6h3.2v3.2h-3.2zM1823 250.6h4.5v3.2h-4.5zM1424.7 273h6.1v3.2h-6.1zM1433.3 273h41.2v3.2h-41.2zM1476.3 273h42v3.2h-42zM1520.8 273h16.2v3.2h-16.2zM1542.7 273h5.3v3.2h-5.3zM1550.5 273h10.8v3.2h-10.8zM1563 273h13.1v3.2h-13.1zM1577 273h23.3v3.2h-23.3zM1600.7 273h3.2v3.2h-3.2zM1609.7 273h9.2v3.2h-9.2zM1625.3 273h19.4v3.2h-19.4zM1647.5 273h3.2v3.2h-3.2zM1655 273h24v3.2h-24zM1680.8 273h41.2v3.2h-41.2zM1724.5 273h29.5v3.2h-29.5zM1756.1 273h22.2v3.2h-22.2zM1783.1 273h35v3.2h-35zM1819.9 273h10.8v3.2h-10.8zM1432 295.4h3.2v3.2h-3.2zM1441.1 295.4h10v3.2h-10zM1452.3 295.4h3.2v3.2h-3.2zM1456.7 295.4h26.4v3.2h-26.4zM1488 295.4h10.8v3.2h-10.8zM1502.3 295.4h3.2v3.2h-3.2zM1509.7 295.4h3.2v3.2h-3.2zM1514.5 295.4h17v3.2h-17zM1536.7 295.4h3.2v3.2h-3.2zM1541.9 295.4h21.7v3.2h-21.7zM1566.9 295.4h9.2v3.2h-9.2zM1582 295.4h3.2v3.2h-3.2zM1592.9 295.4h3.2v3.2h-3.2zM1600.5 295.4h4.5v3.2h-4.5zM1615.2 295.4h6.1v3.2h-6.1zM1625.3 295.4h7.6v3.2h-7.6zM1634.7 295.4h9.2v3.2h-9.2zM1646.4 295.4h9.2v3.2h-9.2zM1659.7 295.4h16.2v3.2h-16.2zM1679.2 295.4h15.4v3.2h-15.4zM1697.2 295.4h7.6v3.2h-7.6zM1713.6 295.4h10.8v3.2h-10.8zM1724.8 295.4h3.2v3.2h-3.2zM1730 295.4h18.6v3.2h-18.6zM1754.2 295.4h6.9v3.2h-6.9zM1763.1 295.4h3.2v3.2h-3.2zM1772.8 295.4h3.2v3.2h-3.2zM1780.8 295.4h22.5v3.2h-22.5zM1807.6 295.4h3.2v3.2h-3.2zM1814.4 295.4h14.7v3.2h-14.7zM1427.3 317.8h3.2v3.2h-3.2zM1434.8 317.8h3.2v3.2h-3.2zM1458.2 317.8h3.2v3.2h-3.2zM1469.2 317.8h10v3.2h-10zM1483.9 317.8h3.2v3.2h-3.2zM1498.9 317.8h7.6v3.2h-7.6zM1509.3 317.8h3.2v3.2h-3.2zM1517.5 317.8h3.2v3.2h-3.2zM1546.1 317.8h3.2v3.2h-3.2zM1564.8 317.8h3.2v3.2h-3.2zM1570.7 317.8h3.2v3.2h-3.2zM1576.2 317.8h3.2v3.2h-3.2zM1584.7 317.8h3.2v3.2h-3.2zM1655 317.8h15.4v3.2h-15.4zM1674 317.8h3.2v3.2h-3.2zM1682.2 317.8h3.2v3.2h-3.2zM1704.8 317.8h3.2v3.2h-3.2zM1716 317.8h6.9v3.2h-6.9zM1726.7 317.8h3.2v3.2h-3.2zM1736.1 317.8h3.2v3.2h-3.2zM1769.3 317.8h3.2v3.2h-3.2zM1777.7 317.8h3.7v3.2h-3.7zM1787 317.8h9.2v3.2h-9.2zM1799.5 317.8h5.3v3.2h-5.3zM1812 317.8h6.9v3.2h-6.9zM1826.4 317.8h3.2v3.2h-3.2zM1439 340.2h3.2v3.2h-3.2zM1473.4 340.2h3.2v3.2h-3.2zM1492.9 340.2h3.2v3.2h-3.2zM1544.8 340.2h3.2v3.2h-3.2zM1603.9 340.2h3.2v3.2h-3.2zM1721.2 340.2h3.2v3.2h-3.2zM1770.4 340.2h3.2v3.2h-3.2zM1782.9 340.2h3.2v3.2h-3.2zM1802.2 340.2h3.2v3.2h-3.2z" fill="#ff0000"/>
<path d="M1474.7 180.5h1.6M1512.2 180.5h2.9M1533.3 180.5h1.3M1427.1 202.9h9.1M1453.6 202.9h1.3M1468.5 202.9h10.7M1489.6 202.9h0.5M1511.5 202.9h1.3M1528.6 202.9h7.6M1546.6 202.9h3.7M1431 225.3h6M1448.2 225.3h0.5M1456.8 225.3h15.4M1479.4 225.3h1.3M1486.5 225.3h52.9M1545.8 225.3h11.5M1566.9 225.3h8.3M1426.3 247.7h88M1520.8 247.7h4.4M1537.2 247.7h28.7M1570.8 247.7h11.5M1619.9 247.7h1.3M1665.2 247.7h1.3M1724.6 247.7h0.5M1799.6 247.7h2.1M1816 247.7h2.1M1438.8 270.1h11.5M1460.7 270.1h1.3M1467.7 270.1h1.3M1479.4 270.1h7.6M1498.2 270.1h2.1M1522.4 270.1h5.2M1549 270.1h2.9M1557.5 270.1h6.8M1584.9 270.1h7.6M1599.7 270.1h7.6M1613.6 270.1h13.8M1646.5 270.1h2.1M1655.8 270.1h10.7M1680.8 270.1h2.1M1691.8 270.1h2.1M1711.3 270.1h12.2M1738.6 270.1h1.3M1748 270.1h1.3M1772.2 270.1h4.9M1788.6 270.1h35.7M1461.5 292.5h1.3M1485.7 292.5h1.3M1510.7 292.5h0.5M1559.1 292.5h0.5M1567.7 292.5h0.5M1576.3 292.5h6M1587.2 292.5h20.8M1611.3 292.5h37.2M1653.5 292.5h41.9M1704.3 292.5h15.4M1724.6 292.5h2.9M1734.7 292.5h29.4M1769.1 292.5h6M1781.6 292.5h31M1821.5 292.5h6.8M1568.5 314.9h4.4M1578.6 314.9h7.6M1595 314.9h4.4M1607.5 314.9h0.5M1614.4 314.9h31.8M1651.1 314.9h6.8M1669.9 314.9h24M1698 314.9h34.1M1736.3 314.9h5.2M1746.5 314.9h12.2M1767.5 314.9h15.4M1812.1 314.9h16.2M1595.8 337.3h2.1M1632.4 337.3h9.1M1647.2 337.3h5.2M1673.8 337.3h2.1M1684 337.3h3.7M1694.1 337.3h2.9M1701.9 337.3h7.6M1720.7 337.3h0.5M1732.4 337.3h0.5M1743.3 337.3h2.1M1753.5 337.3h2.9M1762.1 337.3h11.5M1783.2 337.3h2.1M1698.8 359.7h1.3M1714.4 359.7h2.1" fill="none" stroke="#0000ff" stroke-width="3" stroke-linecap="round" stroke-dasharray="0.01 2.1" stroke-dashoffset="0"/>
<path d="M1474.7 180.5h1.6M1512.2 180.5h2.9M1533.3 180.5h1.3M1427.1 202.9h9.1M1453.6 202.9h1.3M1468.5 202.9h10.7M1489.6 202.9h0.5M1511.5 202.9h1.3M1528.6 202.9h7.6M1546.6 202.9h3.7M1431 225.3h6M1448.2 225.3h0.5M1456.8 225.3h15.4M1479.4 225.3h1.3M1486.5 225.3h52.9M1545.8 225.3h11.5M1566.9 225.3h8.3M1426.3 247.7h88M1520.8 247.7h4.4M1537.2 247.7h28.7M1570.8 247.7h11.5M1619.9 247.7h1.3M1665.2 247.7h1.3M1724.6 247.7h0.5M1799.6 247.7h2.1M1816 247.7h2.1M1438.8 270.1h11.5M1460.7 270.1h1.3M1467.7 270.1h1.3M1479.4 270.1h7.6M1498.2 270.1h2.1M1522.4 270.1h5.2M1549 270.1h2.9M1557.5 270.1h6.8M1584.9 270.1h7.6M1599.7 270.1h7.6M1613.6 270.1h13.8M1646.5 270.1h2.1M1655.8 270.1h10.7M1680.8 270.1h2.1M1691.8 270.1h2.1M1711.3 270.1h12.2M1738.6 270.1h1.3M1748 270.1h1.3M1772.2 270.1h4.9M1788.6 270.1h35.7M1461.5 292.5h1.3M1485.7 292.5h1.3M1510.7 292.5h0.5M1559.1 292.5h0.5M1567.7 292.5h0.5M1576.3 292.5h6M1587.2 292.5h20.8M1611.3 292.5h37.2M1653.5 292.5h41.9M1704.3 292.5h15.4M1724.6 292.5h2.9M1734.7 292.5h29.4M1769.1 292.5h6M1781.6 292.5h31M1821.5 292.5h6.8M1568.5 314.9h4.4M1578.6 314.9h7.6M1595 314.9h4.4M1607.5 314.9h0.5M1614.4 314.9h31.8M1651.1 314.9h6.8M1669.9 314.9h24M1698 314.9h34.1M1736.3 314.9h5.2M1746.5 314.9h12.2M1767.5 314.9h15.4M1812.1 314.9h16.2M1595.8 337.3h2.1M1632.4 337.3h9.1M1647.2 337.3h5.2M1673.8 337.3h2.1M1684 337.3h3.7M1694.1 337.3h2.9M1701.9 337.3h7.6M1720.7 337.3h0.5M1732.4 337.3h0.5M1743.3 337.3h2.1M1753.5 337.3h2.9M1762.1 337.3h11.5M1783.2 337.3h2.1M1698.8 359.7h1.3M1714.4 359.7h2.1" fill="none" stroke="#0000ff" stroke-width="1.6" stroke-linecap="butt"/>
<path d="M1473.9 158.1h0.01M1519.9 158.1h0.01M1425 180.5h0.01M1468.8 180.5h0.01M1520 180.5h0.01M1528.5 180.5h0.01M1541.4 180.5h0.01M1547.7 180.5h0.01M1440.9 202.9h0.01M1501.6 202.9h0.01M1518 202.9h0.01M1523 202.9h0.01M1541.4 202.9h0.01M1555.2 202.9h0.01M1563.3 202.9h0.01M1441.4 225.3h0.01M1562.5 225.3h0.01M1584.4 225.3h0.01M1591.4 225.3h0.01M1794.1 225.3h0.01M1803.3 225.3h0.01M1815.8 225.3h0.01M1529.7 247.7h0.01M1596.6 247.7h0.01M1600.5 247.7h0.01M1608.6 247.7h0.01M1611.2 247.7h0.01M1625.2 247.7h0.01M1629.5 247.7h0.01M1708 247.7h0.01M1718.9 247.7h0.01M1755.3 247.7h0.01M1763.9 247.7h0.01M1776.9 247.7h0.01M1794.8 247.7h0.01M1810 247.7h0.01M1426.2 270.1h0.01M1432.5 270.1h0.01M1454.7 270.1h0.01M1532.8 270.1h0.01M1538.7 270.1h0.01M1544.1 270.1h0.01M1569.5 270.1h0.01M1574.7 270.1h0.01M1635.8 270.1h0.01M1705.3 270.1h0.01M1730 270.1h0.01M1758.4 270.1h0.01M1762.8 270.1h0.01M1767 270.1h0.01M1427.3 292.5h0.01M1439.4 292.5h0.01M1444.1 292.5h0.01M1493.3 292.5h0.01M1543.4 292.5h0.01M1554.2 292.5h0.01M1699.4 292.5h0.01M1427.3 314.9h0.01M1559.4 314.9h0.01M1663.4 314.9h0.01M1763.1 314.9h0.01M1786.6 314.9h0.01M1792.3 314.9h0.01M1806.1 314.9h0.01M1579.2 337.3h0.01M1588.8 337.3h0.01M1603.6 337.3h0.01M1614.7 337.3h0.01M1660.5 337.3h0.01M1667.5 337.3h0.01M1714.7 337.3h0.01M1726.4 337.3h0.01M1778 337.3h0.01M1792 337.3h0.01M1805.8 337.3h0.01M1820.9 337.3h0.01M1827.5 337.3h0.01M1639.7 359.7h0.01M1813.9 359.7h0.01" fill="none" stroke="#0000ff" stroke-width="3" stroke-linecap="round"/>
<rect x="1422.6" y="93.2" width="4.6" height="273.3" fill="#000"/>
<rect x="1417" y="361.9" width="413.6" height="4.6" fill="#000"/>
<rect x="1417" y="362.2" width="6" height="4" fill="#000"/>
<text x="1413.5" y="375.5" font-size="34" font-weight="bold" text-anchor="end">0</text>
<rect x="1417" y="295" width="6" height="4" fill="#000"/>
<text x="1413.5" y="308.3" font-size="34" font-weight="bold" text-anchor="end">3</text>
<rect x="1417" y="227.8" width="6" height="4" fill="#000"/>
<text x="1413.5" y="241.1" font-size="34" font-weight="bold" text-anchor="end">6</text>
<rect x="1417" y="160.6" width="6" height="4" fill="#000"/>
<text x="1413.5" y="173.9" font-size="34" font-weight="bold" text-anchor="end">9</text>
<rect x="1417" y="93.4" width="6" height="4" fill="#000"/>
<text x="1413.5" y="106.7" font-size="34" font-weight="bold" text-anchor="end">12</text>
<rect x="1420.2" y="358.8" width="3" height="1.8" fill="#000"/>
<rect x="1420.2" y="354.3" width="3" height="1.8" fill="#000"/>
<rect x="1420.2" y="349.9" width="3" height="1.8" fill="#000"/>
<rect x="1420.2" y="340.9" width="3" height="1.8" fill="#000"/>
<rect x="1420.2" y="331.9" width="3" height="1.8" fill="#000"/>
<rect x="1420.2" y="327.5" width="3" height="1.8" fill="#000"/>
<rect x="1420.2" y="318.5" width="3" height="1.8" fill="#000"/>
<rect x="1420.2" y="309.5" width="3" height="1.8" fill="#000"/>
<rect x="1420.2" y="305.1" width="3" height="1.8" fill="#000"/>
<rect x="1420.2" y="300.6" width="3" height="1.8" fill="#000"/>
<rect x="1420.2" y="296.1" width="3" height="1.8" fill="#000"/>
<rect x="1420.2" y="291.6" width="3" height="1.8" fill="#000"/>
<rect x="1420.2" y="287.1" width="3" height="1.8" fill="#000"/>
<rect x="1420.2" y="282.7" width="3" height="1.8" fill="#000"/>
<rect x="1420.2" y="278.2" width="3" height="1.8" fill="#000"/>
<rect x="1420.2" y="269.2" width="3" height="1.8" fill="#000"/>
<rect x="1420.2" y="264.7" width="3" height="1.8" fill="#000"/>
<rect x="1420.2" y="260.3" width="3" height="1.8" fill="#000"/>
<rect x="1420.2" y="255.8" width="3" height="1.8" fill="#000"/>
<rect x="1420.2" y="251.3" width="3" height="1.8" fill="#000"/>
<rect x="1420.2" y="246.8" width="3" height="1.8" fill="#000"/>
<rect x="1420.2" y="242.3" width="3" height="1.8" fill="#000"/>
<rect x="1420.2" y="233.4" width="3" height="1.8" fill="#000"/>
<rect x="1420.2" y="228.9" width="3" height="1.8" fill="#000"/>
<rect x="1420.2" y="215.5" width="3" height="1.8" fill="#000"/>
<rect x="1420.2" y="206.5" width="3" height="1.8" fill="#000"/>
<rect x="1420.2" y="202" width="3" height="1.8" fill="#000"/>
<rect x="1420.2" y="197.5" width="3" height="1.8" fill="#000"/>
<rect x="1420.2" y="188.6" width="3" height="1.8" fill="#000"/>
<rect x="1420.2" y="175.1" width="3" height="1.8" fill="#000"/>
<rect x="1420.2" y="170.7" width="3" height="1.8" fill="#000"/>
<rect x="1420.2" y="166.2" width="3" height="1.8" fill="#000"/>
<rect x="1420.2" y="161.7" width="3" height="1.8" fill="#000"/>
<rect x="1420.2" y="157.2" width="3" height="1.8" fill="#000"/>
<rect x="1420.2" y="152.7" width="3" height="1.8" fill="#000"/>
<rect x="1420.2" y="148.3" width="3" height="1.8" fill="#000"/>
<rect x="1420.2" y="143.8" width="3" height="1.8" fill="#000"/>
<rect x="1420.2" y="139.3" width="3" height="1.8" fill="#000"/>
<rect x="1420.2" y="134.8" width="3" height="1.8" fill="#000"/>
<rect x="1420.2" y="130.3" width="3" height="1.8" fill="#000"/>
<rect x="1420.2" y="121.4" width="3" height="1.8" fill="#000"/>
<rect x="1420.2" y="116.9" width="3" height="1.8" fill="#000"/>
<rect x="1420.2" y="112.4" width="3" height="1.8" fill="#000"/>
<rect x="1420.2" y="107.9" width="3" height="1.8" fill="#000"/>
<rect x="1420.2" y="103.5" width="3" height="1.8" fill="#000"/>
<rect x="1423" y="364" width="4" height="8.3" fill="#000"/>
<text x="1425" y="406" font-size="34" font-weight="bold" text-anchor="middle">0</text>
<rect x="1523.9" y="364" width="4" height="8.3" fill="#000"/>
<text x="1525.9" y="406" font-size="34" font-weight="bold" text-anchor="middle">10</text>
<rect x="1624.8" y="364" width="4" height="8.3" fill="#000"/>
<text x="1626.8" y="406" font-size="34" font-weight="bold" text-anchor="middle">20</text>
<rect x="1725.7" y="364" width="4" height="8.3" fill="#000"/>
<text x="1727.7" y="406" font-size="34" font-weight="bold" text-anchor="middle">30</text>
<rect x="1826.6" y="364" width="4" height="8.3" fill="#000"/>
<text x="1828.6" y="406" font-size="34" font-weight="bold" text-anchor="middle">40</text>
<text x="1628" y="457.5" font-size="37" font-weight="bold" text-anchor="middle">Time (ns)</text>
<text transform="translate(1358 222.5) rotate(-90)" font-size="38" font-weight="bold" text-anchor="middle">N<tspan font-size="28" dy="9">HB</tspan><tspan dy="-9" dx="-2"> (#)</tspan></text>
<text x="1329.5" y="49.5" font-size="65" font-weight="bold" text-anchor="start">c</text></g>
<g id="pd"><rect x="97.7" y="623" width="4.6" height="275.1" fill="#000"/>
<rect x="92" y="893.5" width="417" height="4.6" fill="#000"/>
<rect x="92" y="893.8" width="8" height="4" fill="#000"/>
<text x="88.5" y="907.1" font-size="34" font-weight="bold" text-anchor="end">0</text>
<rect x="92" y="826.1" width="8" height="4" fill="#000"/>
<text x="88.5" y="839.4" font-size="34" font-weight="bold" text-anchor="end">10</text>
<rect x="92" y="758.4" width="8" height="4" fill="#000"/>
<text x="88.5" y="771.7" font-size="34" font-weight="bold" text-anchor="end">20</text>
<rect x="92" y="690.7" width="8" height="4" fill="#000"/>
<text x="88.5" y="704" font-size="34" font-weight="bold" text-anchor="end">30</text>
<rect x="92" y="623" width="8" height="4" fill="#000"/>
<text x="88.5" y="636.3" font-size="34" font-weight="bold" text-anchor="end">40</text>
<rect x="98" y="895.8" width="4" height="8" fill="#000"/>
<text x="100" y="938.2" font-size="34" font-weight="bold" text-anchor="middle">0</text>
<rect x="179.3" y="895.8" width="4" height="8" fill="#000"/>
<text x="181.3" y="938.2" font-size="34" font-weight="bold" text-anchor="middle">2</text>
<rect x="260.6" y="895.8" width="4" height="8" fill="#000"/>
<text x="262.6" y="938.2" font-size="34" font-weight="bold" text-anchor="middle">4</text>
<rect x="342" y="895.8" width="4" height="8" fill="#000"/>
<text x="344" y="938.2" font-size="34" font-weight="bold" text-anchor="middle">6</text>
<rect x="423.3" y="895.8" width="4" height="8" fill="#000"/>
<text x="425.3" y="938.2" font-size="34" font-weight="bold" text-anchor="middle">8</text>
<rect x="504.6" y="895.8" width="4" height="8" fill="#000"/>
<text x="506.6" y="938.2" font-size="34" font-weight="bold" text-anchor="middle">10</text>
<path d="M95.7 882h8.6l-4.3 7.6z" fill="#00c000"/>
<path d="M136.4 824.5h8.6l-4.3 7.6z" fill="#00c000"/>
<path d="M177 760.2h8.6l-4.3 7.6z" fill="#00c000"/>
<path d="M217.7 760.2h8.6l-4.3 7.6z" fill="#00c000"/>
<path d="M258.3 763.6h8.6l-4.3 7.6z" fill="#00c000"/>
<path d="M299 770.3h8.6l-4.3 7.6z" fill="#00c000"/>
<path d="M339.7 822.5h8.6l-4.3 7.6z" fill="#00c000"/>
<path d="M380.3 876.6h8.6l-4.3 7.6z" fill="#00c000"/>
<path d="M421 885.4h8.6l-4.3 7.6z" fill="#00c000"/>
<path d="M461.6 891.5h8.6l-4.3 7.6z" fill="#00c000"/>
<polyline fill="none" stroke="#00c000" stroke-width="3" stroke-linejoin="round" points="100,866.9 103,864.8 106.1,862.5 109.1,860.2 112.2,857.8 115.2,855.3 118.3,852.7 121.3,850 124.4,847.2 127.4,844.3 130.5,841.3 133.5,838.3 136.6,835.1 139.6,831.9 142.7,828.6 145.7,825.3 148.8,821.9 151.8,818.5 154.9,815 157.9,811.5 161,808 164,804.5 167.1,801 170.1,797.6 173.2,794.1 176.2,790.7 179.3,787.4 182.3,784.1 185.4,780.9 188.4,777.8 191.5,774.8 194.5,771.9 197.6,769.2 200.6,766.6 203.7,764.1 206.7,761.8 209.8,759.7 212.8,757.8 215.9,756 218.9,754.4 222,753.1 225,752 228.1,751 231.1,750.3 234.2,749.9 237.2,749.6 240.3,749.6 243.3,749.8 246.4,750.2 249.4,750.9 252.5,751.8 255.5,752.9 258.6,754.2 261.6,755.7 264.7,757.4 267.7,759.3 270.8,761.4 273.8,763.6 276.9,766.1 279.9,768.7 283,771.4 286,774.2 289.1,777.2 292.1,780.3 295.2,783.5 298.2,786.7 301.3,790.1 304.3,793.4 307.4,796.9 310.4,800.4 313.5,803.8 316.5,807.3 319.6,810.8 322.6,814.3 325.7,817.8 328.7,821.2 331.8,824.6 334.8,828 337.9,831.3 340.9,834.5 344,837.6 347,840.7 350.1,843.7 353.1,846.6 356.2,849.4 359.2,852.2 362.3,854.8 365.3,857.3 368.4,859.8 371.4,862.1 374.5,864.3 377.5,866.4 380.6,868.5 383.6,870.4 386.7,872.2 389.7,874 392.8,875.6 395.8,877.1 398.9,878.6 401.9,879.9 404.9,881.2 408,882.4 411,883.5 414.1,884.6 417.1,885.5 420.2,886.4 423.2,887.3 426.3,888 429.3,888.8 432.4,889.4 435.4,890 438.5,890.6 441.5,891.1 444.6,891.6 447.6,892 450.7,892.4 453.7,892.7 456.8,893 459.8,893.3 462.9,893.6 465.9,893.8"/>
<path d="M136.4 895.8h8.6l-4.3 -7.6z" fill="#ff0000"/>
<path d="M177 863.3h8.6l-4.3 -7.6z" fill="#ff0000"/>
<path d="M217.7 797.6h8.6l-4.3 -7.6z" fill="#ff0000"/>
<path d="M258.3 709.6h8.6l-4.3 -7.6z" fill="#ff0000"/>
<path d="M299 701.5h8.6l-4.3 -7.6z" fill="#ff0000"/>
<path d="M339.7 792.9h8.6l-4.3 -7.6z" fill="#ff0000"/>
<path d="M380.3 874.2h8.6l-4.3 -7.6z" fill="#ff0000"/>
<path d="M421 893.8h8.6l-4.3 -7.6z" fill="#ff0000"/>
<path d="M461.6 898.5h8.6l-4.3 -7.6z" fill="#ff0000"/>
<polyline fill="none" stroke="#ff0000" stroke-width="3" stroke-linejoin="round" points="140.7,891.7 143.4,891.1 146.1,890.4 148.8,889.5 151.5,888.6 154.2,887.5 156.9,886.3 159.6,885 162.3,883.5 165.1,881.9 167.8,880.1 170.5,878.1 173.2,875.9 175.9,873.5 178.6,870.9 181.3,868 184,864.9 186.7,861.6 189.5,858 192.2,854.1 194.9,850 197.6,845.6 200.3,841 203,836.1 205.7,830.9 208.4,825.5 211.1,819.9 213.8,814 216.6,807.9 219.3,801.7 222,795.2 224.7,788.7 227.4,782 230.1,775.3 232.8,768.5 235.5,761.8 238.2,755 241,748.4 243.7,741.9 246.4,735.5 249.1,729.4 251.8,723.5 254.5,717.9 257.2,712.6 259.9,707.7 262.6,703.2 265.4,699.2 268.1,695.7 270.8,692.7 273.5,690.2 276.2,688.2 278.9,686.9 281.6,686.1 284.3,685.9 287,686.4 289.7,687.4 292.5,688.9 295.2,691.1 297.9,693.8 300.6,697 303.3,700.8 306,705 308.7,709.6 311.4,714.7 314.1,720.1 316.9,725.8 319.6,731.8 322.3,738 325,744.5 327.7,751 330.4,757.7 333.1,764.5 335.8,771.2 338.5,778 341.2,784.7 344,791.3 346.7,797.8 349.4,804.2 352.1,810.4 354.8,816.4 357.5,822.2 360.2,827.7 362.9,833 365.6,838.1 368.4,842.9 371.1,847.4 373.8,851.7 376.5,855.7 379.2,859.5 381.9,863 384.6,866.2 387.3,869.2 390,872 392.8,874.5 395.5,876.8 398.2,878.9 400.9,880.8 403.6,882.6 406.3,884.2 409,885.6 411.7,886.8 414.4,888 417.1,889 419.9,889.9 422.6,890.7 425.3,891.4 428,892 430.7,892.5 433.4,893 436.1,893.4 438.8,893.8 441.5,894.1 444.3,894.3 447,894.6 449.7,894.8 452.4,894.9 455.1,895.1 457.8,895.2 460.5,895.3 463.2,895.4 465.9,895.4"/>
<polyline fill="none" stroke="#0000ff" stroke-width="3" stroke-linejoin="round" points="100,868.4 103,866.3 106.1,864.1 109.1,861.8 112.2,859.4 115.2,856.9 118.3,854.2 121.3,851.5 124.4,848.6 127.4,845.7 130.5,842.7 133.5,839.5 136.6,836.3 139.6,833 142.7,829.6 145.7,826.2 148.8,822.7 151.8,819.1 154.9,815.6 157.9,811.9 161,808.3 164,804.7 167.1,801 170.1,797.4 173.2,793.8 176.2,790.2 179.3,786.7 182.3,783.3 185.4,780 188.4,776.7 191.5,773.6 194.5,770.6 197.6,767.7 200.6,765 203.7,762.4 206.7,760 209.8,757.8 212.8,755.8 215.9,753.9 218.9,752.3 222,751 225,749.8 228.1,748.9 231.1,748.2 234.2,747.8 237.2,747.6 240.3,747.6 243.3,747.9 246.4,748.4 249.4,749.2 252.5,750.2 255.5,751.4 258.6,752.9 261.6,754.5 264.7,756.4 267.7,758.5 270.8,760.8 273.8,763.2 276.9,765.9 279.9,768.6 283,771.6 286,774.6 289.1,777.8 292.1,781.1 295.2,784.5 298.2,787.9 301.3,791.4 304.3,795 307.4,798.6 310.4,802.2 313.5,805.9 316.5,809.5 319.6,813.1 322.6,816.8 325.7,820.3 328.7,823.9 331.8,827.3 334.8,830.8 337.9,834.1 340.9,837.4 344,840.6 347,843.7 350.1,846.7 353.1,849.6 356.2,852.4 359.2,855.1 362.3,857.7 365.3,860.2 368.4,862.6 371.4,864.9 374.5,867 377.5,869.1 380.6,871 383.6,872.9 386.7,874.6 389.7,876.3 392.8,877.8 395.8,879.3 398.9,880.6 401.9,881.9 404.9,883.1 408,884.2 411,885.2 414.1,886.2 417.1,887 420.2,887.8 423.2,888.6 426.3,889.3 429.3,889.9 432.4,890.5 435.4,891 438.5,891.5 441.5,892 444.6,892.4 447.6,892.7 450.7,893.1 453.7,893.4 456.8,893.6 459.8,893.9 462.9,894.1 465.9,894.3"/>
<rect x="95.8" y="888.2" width="8.4" height="8.4" fill="#0000ff"/>
<rect x="136.5" y="844.2" width="8.4" height="8.4" fill="#0000ff"/>
<rect x="177.1" y="764.3" width="8.4" height="8.4" fill="#0000ff"/>
<rect x="217.8" y="727.1" width="8.4" height="8.4" fill="#0000ff"/>
<rect x="258.4" y="776.5" width="8.4" height="8.4" fill="#0000ff"/>
<rect x="299.1" y="793.4" width="8.4" height="8.4" fill="#0000ff"/>
<rect x="339.8" y="815.8" width="8.4" height="8.4" fill="#0000ff"/>
<rect x="380.4" y="859.1" width="8.4" height="8.4" fill="#0000ff"/>
<rect x="421.1" y="880.1" width="8.4" height="8.4" fill="#0000ff"/>
<rect x="461.7" y="889.6" width="8.4" height="8.4" fill="#0000ff"/>
<text transform="translate(38.5 753.7) rotate(-90)" font-size="37.5" font-weight="bold" text-anchor="middle">Frequency (%)</text>
<text x="248.5" y="990" font-size="38" font-weight="bold">N<tspan font-size="27" dy="8">HB</tspan><tspan dy="-8">(#)</tspan></text>
<text x="3.5" y="534" font-size="65" font-weight="bold" text-anchor="start">d</text></g>
<g id="pe"><defs><filter id="blr" x="-5%" y="-5%" width="110%" height="110%"><feGaussianBlur stdDeviation="0.7"/></filter><clipPath id="ecl"><rect x="555.5" y="551" width="419.5" height="449.5"/></clipPath></defs>
<g clip-path="url(#ecl)"><g filter="url(#blr)">
<path d="M840.9 554.5C855.9 551.8 875 552.9 905.3 552.9C935.7 552.9 955.6 551.5 970.9 554.5C986.2 557.5 972.3 560.4 970.9 565.8C969.6 571.1 970.5 572 965.1 577.5C959.6 583 957.1 585.6 947.5 589.2C937.9 592.9 937.2 594 924 593.2C910.9 592.4 906 590.7 891.2 585.7C876.5 580.7 872.5 576.6 860.8 571.6C849 566.7 845.5 568.6 840.9 564.6C836.2 560.6 825.8 557.3 840.9 554.5z" fill="#38c6e0" fill-opacity="0.36" stroke="#38c6e0" stroke-opacity="0.25" stroke-width="1.2"/>
<path d="M881.9 553.6C895.5 547.6 904.4 551.7 924 551.7C943.7 551.7 956 551.7 966.2 553.6C976.5 555.5 972.5 556 968.1 559.9C963.7 563.9 957.8 566.4 947.5 570.5C937.2 574.6 933.9 573.1 924 577.5C914.2 581.9 913 582.7 905.3 589.2C897.6 595.8 897.3 596.3 891.2 605.6C885.2 614.9 883.3 619.8 879.5 629.1C875.7 638.4 876.5 634.5 874.8 645.5C873.2 656.4 874.7 673.2 872.5 675.9C870.3 678.7 868.2 667 865.5 657.2C862.7 647.3 862.1 645.8 860.8 633.7C859.4 621.7 858.5 618.7 859.6 605.6C860.7 592.5 860.3 589.6 865.5 577.5C870.7 565.4 868.2 559.6 881.9 553.6z" fill="#38c6e0" fill-opacity="0.5" stroke="#38c6e0" stroke-opacity="0.25" stroke-width="1.2"/>
<path d="M860.8 633.7C863.5 627.7 868.8 638.9 874.8 645.5C880.8 652 879.4 654.8 886.6 661.9C893.7 669 895.5 671 905.3 675.9C915.1 680.8 917.8 679.7 928.7 683C939.7 686.2 942.1 685.1 952.2 690C962.3 694.9 967.4 696.9 972.1 704C976.7 711.2 977.8 718 972.1 720.5C966.4 722.9 958.7 715.8 947.5 714.6C936.3 713.4 935 716.2 924 715.3C913.1 714.4 909.4 713.2 900.6 710.6C891.9 708 893.1 708.9 886.6 704C880 699.2 878 697.6 872.5 690C867 682.3 865.9 684.4 863.1 671.2C860.4 658.1 858 639.8 860.8 633.7z" fill="#38c6e0" fill-opacity="0.5" stroke="#38c6e0" stroke-opacity="0.25" stroke-width="1.2"/>
<path d="M972.1 701.7C966.4 694.3 959.8 707.6 947.5 712.3C935.2 716.9 932.5 717.5 919.4 721.6C906.2 725.7 902.7 724.6 891.2 729.8C879.8 735 877.8 735.7 870.1 743.9C862.5 752.1 862.3 756.2 858.4 765C854.6 773.7 838.4 777.6 853.7 781.4C869.1 785.2 905.5 785.2 924 781.4C942.6 777.6 925.8 772.1 933.4 765C941.1 757.9 947.8 755.8 956.9 750.9C965.9 746 968.5 755.4 972.1 743.9C975.6 732.4 977.8 709.1 972.1 701.7z" fill="#38c6e0" fill-opacity="0.42" stroke="#38c6e0" stroke-opacity="0.25" stroke-width="1.2"/>
<path d="M860.8 787.6C868.2 789.5 871.5 793 881.9 799.3C892.3 805.6 894.4 808.2 905.3 814.5C916.2 820.8 917.8 820.8 928.7 826.2C939.7 831.7 944 832.5 952.2 838C960.4 843.4 960.2 842.6 963.9 849.7C967.6 856.8 968.1 861.6 968.1 868.4C968.1 875.3 967.1 879 963.9 879C960.7 879 961.6 872.3 954.5 868.4C947.4 864.6 943.8 865.9 933.4 862.6C923 859.3 920.9 858.5 910 854.4C899.1 850.3 896.9 849.4 886.6 845C876.2 840.6 873.7 840.5 865.5 835.6C857.3 830.7 856 831 851.4 823.9C846.8 816.8 845.8 812.8 845.5 805.2C845.3 797.5 846.7 795.2 850.2 791.1C853.8 787 853.4 785.7 860.8 787.6z" fill="#38c6e0" fill-opacity="0.5" stroke="#38c6e0" stroke-opacity="0.25" stroke-width="1.2"/>
<path d="M968.1 863.7C964.9 856.6 963.7 865.5 954.5 866.1C945.3 866.6 941.3 865 928.7 866.1C916.2 867.2 913.7 868 900.6 870.8C887.5 873.5 883.4 872.9 872.5 877.8C861.6 882.7 859.9 883.1 853.7 891.9C847.6 900.6 848 903.3 846.2 915.3C844.5 927.3 845.6 932.5 846.2 943.4C846.9 954.4 846.8 962.2 849.1 962.2C851.4 962.2 850.6 951.6 856.1 943.4C861.6 935.2 863.2 933.6 872.5 927C881.8 920.5 883.9 919.7 895.9 915.3C908 910.9 910.9 911 924 908.3C937.2 905.5 941.9 906.3 952.2 903.6C962.5 900.8 964.4 905.8 968.1 896.6C971.8 887.3 971.3 870.9 968.1 863.7z" fill="#38c6e0" fill-opacity="0.45" stroke="#38c6e0" stroke-opacity="0.25" stroke-width="1.2"/>
<path d="M850.2 931.7C855.8 930.1 860.6 940.3 870.1 945.8C879.7 951.2 880.8 950.8 891.2 955.1C901.6 959.5 903.7 959 914.7 964.5C925.6 970 928.8 972 938.1 978.6C947.4 985.1 948.8 986.9 954.5 992.6C960.3 998.4 974.7 1000.7 962.7 1003.2C950.7 1005.6 921.8 1006.2 903 1003.2C884.1 1000.2 891.2 994.9 881.9 990.3C872.6 985.6 870.2 987.1 863.1 983.3C856 979.4 855.3 981 851.4 973.9C847.5 966.8 846.5 962.6 846.2 952.8C846 943 844.6 933.3 850.2 931.7z" fill="#38c6e0" fill-opacity="0.5" stroke="#38c6e0" stroke-opacity="0.25" stroke-width="1.2"/>
<path d="M924 767.7C926.8 759.5 942.2 760.5 949.8 767.7C957.5 774.8 951.4 783.9 956.9 798.1C962.3 812.3 969.4 816.8 973.3 828.6C977.1 840.3 976.5 848 973.3 848.5C970 849.1 967.4 841.6 959.2 830.9C951 820.3 946.3 817.6 938.1 802.8C929.9 788 921.3 775.9 924 767.7z" fill="#38c6e0" fill-opacity="0.35" stroke="#38c6e0" stroke-opacity="0.25" stroke-width="1.2"/>
<path d="M874.8 800.5C878 812.2 879.7 811.4 884.2 835.6C888.7 859.8 887 860.6 888.4 873.1" fill="none" stroke="#2aa9c8" stroke-opacity="0.45" stroke-width="3.2" stroke-linecap="round" stroke-linejoin="round"/>
<path d="M910 704C911.6 715.8 910 713.4 914.7 739.2C919.4 765 920.9 767.3 924 781.4" fill="none" stroke="#2aa9c8" stroke-opacity="0.35" stroke-width="4" stroke-linecap="round" stroke-linejoin="round"/>
<path d="M741.6 865C742.3 853.7 740 851.7 741.6 840.6C743.2 829.5 746 820.6 749.4 809.4C752.8 798.2 754.1 793.8 758.8 784.4C763.5 775 765.3 768.4 772.8 762.5C780.3 756.6 790.2 756.9 796.3 754.7C802.4 752.5 797.3 755 803.4 751.6C809.5 748.2 816.9 745.6 826.9 737.5C836.9 729.4 847.2 714.4 853.4 710.9C859.6 707.4 859.3 712.8 858 720C856.7 727.2 852.3 737.2 847 747C841.7 756.8 838.8 763.6 831.6 768.8C824.4 774 817.3 771.2 811 773C804.7 774.8 806.1 775.1 800 778C793.9 780.9 786.7 778.1 780.6 787.5C774.5 796.9 771.4 808.5 769.7 825C768 841.5 771.3 847 772 870C772.7 893 771.4 923.1 773 940C774.6 956.9 780.4 946.1 780.2 954.7C779.9 963.2 773.6 973.1 771.6 982.8C769.5 992.5 774.1 999.1 770 1003.1C765.9 1007.2 758.1 1010.3 751.2 1003.1C744.4 995.9 740.9 979.8 735.6 967.2C730.3 954.5 724.4 945.3 724.7 939.8C725 934.4 734.5 948.4 737.2 939.8C739.8 931.2 737.1 911.8 738 896.9C738.9 881.9 740.9 876.3 741.6 865z" fill="#4ab6ca" fill-opacity="0.47" stroke="#4ab6ca" stroke-opacity="0.25" stroke-width="1.2"/>
<path d="M802.2 840.3 L826.1 826.2 L830.3 868.4 L828.4 910.6 L835.5 1002 L799.8 1002 L804.5 910.6 L806.9 863.7z" fill="#38c6e0" fill-opacity="0.42"/>
<path d="M837.3 887.2 L846.2 891.9 L849.1 934 L854.2 1002 L846.7 1002 L840.1 934z" fill="#38c6e0" fill-opacity="0.38"/>
<path d="M707.2 567.2C714 570.3 715.5 566.7 727.5 576.6C739.5 586.5 736.1 580.7 743.1 596.9C750.2 613 747.8 605.2 748.6 625C749.4 644.8 750.2 638 745.5 656.2C740.8 674.5 738.2 671.9 734.5 679.7" fill="none" stroke="#ddd97c" stroke-opacity="0.7" stroke-width="12" stroke-linecap="round" stroke-linejoin="round"/>
<path d="M705.6 568.8C710.8 578.1 711.9 577.1 721.2 596.9C730.6 616.7 728.3 612 733.8 628.1C739.2 644.3 736.4 639.6 737.7 645.3" fill="none" stroke="#f0ee90" stroke-opacity="0.5" stroke-width="7" stroke-linecap="round" stroke-linejoin="round"/>
<path d="M693.9 650C696 654.4 693.6 655.5 700.2 663.3C706.7 671.1 703.8 666.1 713.4 673.4C723.1 680.7 723.9 681.2 729.1 685.2" fill="none" stroke="#ddd97c" stroke-opacity="0.7" stroke-width="9" stroke-linecap="round" stroke-linejoin="round"/>
<path d="M663.4 700.8C668.6 697.7 666 695.8 679.1 691.4C692.1 687 684.3 689.1 702.5 687.5C720.7 685.9 723.3 687 733.8 686.7" fill="none" stroke="#ddd97c" stroke-opacity="0.7" stroke-width="10" stroke-linecap="round" stroke-linejoin="round"/>
<path d="M663.4 700C661.5 707.8 657 707.8 657.5 723.4C658 739.1 660.4 730.2 665 746.9C669.6 763.5 665.8 763 671.2 773.4C676.7 783.9 678 776.6 681.4 778.1" fill="none" stroke="#ddd97c" stroke-opacity="0.7" stroke-width="6.5" stroke-linecap="round" stroke-linejoin="round"/>
<path d="M749.4 700C754.1 710.4 760.1 714.1 763.4 731.2C766.8 748.4 766.8 739.1 759.5 751.6C752.2 764.1 747.6 763 741.6 768.8" fill="none" stroke="#ddd97c" stroke-opacity="0.72" stroke-width="11" stroke-linecap="round" stroke-linejoin="round"/>
<path d="M654.8 810.9 L679 796.9 L702.5 779.7 L724.4 771.9 L740 773.4 L733.8 787.5 L729 809.4 L727.5 832.8 L732.2 854.7 L715.6 857.8 L709.4 881.3 L696.9 915.6 L681.3 946.9 L668.8 975 L657.8 1000 L637.5 1000 L639 975 L643.8 928.1 L651.6 881.3 L660.3 860 L668 837.5 L676 823.4z" fill="#e9e6a6" fill-opacity="0.95"/>
<path d="M686.9 795.3C690.9 789.7 698.1 785.8 705.6 781.2C713.1 776.7 717.7 774.1 724.4 772.7C731.1 771.2 737.5 770 739.2 774.2C740.9 778.4 735.2 785.2 733 793.8C730.8 802.3 729.4 807.8 728.3 817.2C727.1 826.6 726.6 833.3 727.2 840.6C727.8 848 733.8 851.1 731.4 853.9C729 856.7 721.4 857.3 715 854.7C708.6 852 704.1 846.6 699.4 840.6C694.7 834.7 694.4 831.2 691.6 825C688.8 818.8 686.2 815.3 685.3 809.4C684.4 803.4 682.8 800.9 686.9 795.3z" fill="#c4c09c" fill-opacity="0.75" stroke="#c4c09c" stroke-opacity="0.25" stroke-width="1.2"/>
<path d="M690 860C697 854.6 705.7 855 708 862C710.3 869 704.7 876.5 700 890C695.3 903.5 694.5 906 688 920C681.5 934 678.5 937.2 672 950C665.5 962.8 664 972.7 660 975C656 977.3 653.8 972.8 655 960C656.2 947.2 659.6 937.5 665 920C670.4 902.5 672.2 899 678 885C683.8 871 683 865.4 690 860z" fill="#d2ce9e" fill-opacity="0.6" stroke="#d2ce9e" stroke-opacity="0.25" stroke-width="1.2"/>
</g>
<g fill="none" stroke-linecap="round" stroke-linejoin="round"><path d="M708.8 560.6 L710.6 564.4" stroke="#a81616" stroke-width="9.2"/><path d="M710.6 564.8 L718.1 579.7" stroke="#6aa58a" stroke-width="9.2"/><path d="M718.1 579.7 L727.5 592.2" stroke="#2a2db0" stroke-width="9.2"/><path d="M727.5 592.2 L740 602.3" stroke="#2a2db0" stroke-width="9.2"/><path d="M740 602.3 L749.4 609.4" stroke="#2a3050" stroke-width="9.2"/><path d="M749.4 609.4 L740 629.7" stroke="#3f979c" stroke-width="9.2"/><path d="M740 629.7 L738.4 646.9" stroke="#6aa58a" stroke-width="9.2"/><path d="M727.5 592.2 L724.4 607.8" stroke="#5a5fb0" stroke-width="9.2"/><path d="M724.4 607.8 L721.2 628.1" stroke="#6aa58a" stroke-width="9.2"/><path d="M721.2 628.1 L738.4 646.9" stroke="#3f979c" stroke-width="9.2"/><path d="M738.4 646.9 L731.4 653.9" stroke="#6aa58a" stroke-width="9.2"/><path d="M731.4 653.9 L724.4 660.9" stroke="#2a2db0" stroke-width="9.2"/><path d="M724.4 660.9 L716.6 650" stroke="#2a2db0" stroke-width="9.2"/><path d="M716.6 650 L711.9 639.1" stroke="#3f979c" stroke-width="9.2"/><path d="M712.7 604.7 L712.7 621.9" stroke="#a81616" stroke-width="9.2"/><path d="M712.7 621.9 L711.9 639.1" stroke="#3f979c" stroke-width="9.2"/><path d="M703.3 637.5 L707.2 638.3" stroke="#a81616" stroke-width="9.2"/><path d="M707.2 638.3 L711.9 639.1" stroke="#3f979c" stroke-width="9.2"/><path d="M711.9 639.1 L697.8 656.2" stroke="#3f979c" stroke-width="9.2"/><path d="M697.8 656.2 L707.2 676.6" stroke="#6aa58a" stroke-width="9.2"/><path d="M707.2 676.6 L715 691.4" stroke="#5a5fb0" stroke-width="9.2"/><path d="M735.3 657.8 L732.2 675" stroke="#2a2db0" stroke-width="9.2"/><path d="M732.2 675 L730.3 684.4" stroke="#3f979c" stroke-width="9.2"/><path d="M762.7 669.5 L755.6 681.2" stroke="#a81616" stroke-width="9.2"/><path d="M755.6 681.2 L747.8 695.3" stroke="#3f979c" stroke-width="9.2"/><path d="M715 691.4 L730.6 694.5" stroke="#2a2db0" stroke-width="9.2"/><path d="M730.6 694.5 L747.8 695.3" stroke="#6aa58a" stroke-width="9.2"/><path d="M747.8 695.3 L752.5 709.4" stroke="#3f979c" stroke-width="9.2"/><path d="M693.9 684.1 L702.5 687.2" stroke="#a81616" stroke-width="9.2"/><path d="M702.5 687.2 L707.2 688.3" stroke="#3f979c" stroke-width="9.2"/><path d="M707.2 688.3 L694.7 690.6" stroke="#3f979c" stroke-width="9.2"/><path d="M694.7 690.6 L679.1 696.9" stroke="#5a5fb0" stroke-width="9.2"/><path d="M679.1 696.9 L663.4 700.3" stroke="#3f979c" stroke-width="9.2"/><path d="M663.4 700.3 L661.1 710.9" stroke="#3f979c" stroke-width="9.2"/><path d="M749.4 700 L755.6 715.6" stroke="#3f979c" stroke-width="9.2"/><path d="M755.6 715.6 L761.9 732.8" stroke="#6aa58a" stroke-width="9.2"/><path d="M761.9 732.8 L747.8 745.3" stroke="#3f979c" stroke-width="9.2"/><path d="M747.8 745.3 L732.2 760.2" stroke="#2a2db0" stroke-width="9.2"/><path d="M732.2 760.2 L725.2 769.5" stroke="#3f979c" stroke-width="9.2"/><path d="M733.8 769.5 L715 781.2" stroke="#6aa58a" stroke-width="9.2"/><path d="M715 781.2 L697.8 793.8" stroke="#3f979c" stroke-width="9.2"/><path d="M697.8 793.8 L693.9 806.2" stroke="#3f979c" stroke-width="9.2"/><path d="M693.9 806.2 L686.9 818.8" stroke="#2a2db0" stroke-width="9.2"/><path d="M686.9 818.8 L694.7 834.4" stroke="#2a2db0" stroke-width="9.2"/><path d="M694.7 834.4 L702.5 850" stroke="#3f979c" stroke-width="9.2"/><path d="M708.8 853.9 L718.9 856.6" stroke="#a81616" stroke-width="9.2"/><path d="M702.5 850 L708.8 853.9" stroke="#3f979c" stroke-width="9.2"/><path d="M702.5 850 L699.4 860.9" stroke="#3f979c" stroke-width="9.2"/><path d="M654.4 720.3 L660.3 723.8" stroke="#a81616" stroke-width="9.2"/><path d="M660.3 724.2 L663.4 709.4 L665.3 700" stroke="#3f979c" stroke-width="9.2"/><path d="M660.3 724.2 L666.6 742.2" stroke="#3f979c" stroke-width="9.2"/><path d="M666.6 742.2 L669.7 757.8" stroke="#5a5fb0" stroke-width="9.2"/><path d="M669.7 757.8 L669.7 773.4 L680.6 777.3" stroke="#3f979c" stroke-width="9.2"/><path d="M680.6 777.3 L691.6 773.4 L701.7 770.6" stroke="#a81616" stroke-width="9.2"/><path d="M729.4 777 L732.2 777.7" stroke="#a81616" stroke-width="9.2"/><path d="M796.2 739.1 L797.8 753.1" stroke="#a81616" stroke-width="9.2"/><path d="M797.8 753.1 L800.9 764.1" stroke="#3f979c" stroke-width="9.2"/><path d="M790 776.9 L777.5 776.6" stroke="#2a2db0" stroke-width="9.2"/><path d="M777.5 776.6 L765 776.6 L752.5 792.2" stroke="#3f979c" stroke-width="9.2"/><path d="M752.5 792.2 L740 778.9" stroke="#a81616" stroke-width="9.2"/><path d="M752.5 792.2 L755.6 818.8" stroke="#3f979c" stroke-width="9.2"/><path d="M755.6 818.8 L749.4 837.5" stroke="#2a2db0" stroke-width="9.2"/><path d="M749.4 837.5 L746.2 840.6 L758.8 860.9" stroke="#3f979c" stroke-width="9.2"/><path d="M844.2 680.5 L855.9 684.4" stroke="#a81616" stroke-width="9.2"/><path d="M855.9 684.4 L868.4 687.5 L868.4 700" stroke="#3f979c" stroke-width="9.2"/><path d="M868.4 700 L866.9 709.4" stroke="#2a2db0" stroke-width="9.2"/><path d="M898.1 688.3 L906.7 699.2" stroke="#3aa0d8" stroke-width="9.2"/><path d="M869.8 700 L870.6 706.2 L861.2 712.5" stroke="#2a2db0" stroke-width="9.2"/><path d="M861.2 712.5 L850.3 720.3 L842.5 743.8" stroke="#3f979c" stroke-width="9.2"/><path d="M842.5 743.8 L834.7 757.8" stroke="#2a2db0" stroke-width="9.2"/><path d="M834.7 757.8 L830 768.8 L803.4 761.7" stroke="#3f979c" stroke-width="9.2"/><path d="M803.4 761.7 L800.3 751.6 L795.6 739.1" stroke="#a81616" stroke-width="9.2"/><path d="M803.4 761.7 L797.2 771.9" stroke="#3f979c" stroke-width="9.2"/><path d="M797.2 771.9 L789.4 779.7 L780 779.7" stroke="#2a2db0" stroke-width="9.2"/><path d="M701.6 850 L689.1 878.1 L687.5 895.3" stroke="#3f979c" stroke-width="9.2"/><path d="M687.5 895.3 L684.4 907.8 L671.9 908.1" stroke="#2a2db0" stroke-width="9.2"/><path d="M671.9 908.1 L659.4 908.6 L650 901.6" stroke="#3f979c" stroke-width="9.2"/><path d="M650 901.6 L637.5 891.4" stroke="#a81616" stroke-width="9.2"/><path d="M659.4 908.6 L662.5 931.2 L654.7 942.2" stroke="#6aa58a" stroke-width="9.2"/><path d="M654.7 942.2 L648.4 956.2 L650 968.8" stroke="#5a5fb0" stroke-width="9.2"/><path d="M650 968.8 L654.7 981.2 L664.1 984.4" stroke="#3f979c" stroke-width="9.2"/><path d="M664.1 984.4 L676.6 985.9" stroke="#a81616" stroke-width="9.2"/><path d="M654.7 981.2 L642.2 1000" stroke="#3f979c" stroke-width="9.2"/><path d="M717.2 855.5 L710.2 853.4" stroke="#a81616" stroke-width="9.2"/><path d="M710.2 853.4 L701.6 850" stroke="#3f979c" stroke-width="9.2"/><path d="M748.1 850 L762.2 865.6 L773.1 868.8" stroke="#3f979c" stroke-width="9.2"/><path d="M773.1 868.8 L780.9 872.7" stroke="#a81616" stroke-width="9.2"/><path d="M762.2 865.6 L759.1 876.6" stroke="#3f979c" stroke-width="9.2"/><path d="M759.1 876.6 L755.9 885.9 L763.8 898.4" stroke="#2a2db0" stroke-width="9.2"/><path d="M763.8 898.4 L771.6 914.1 L752.8 932.8 L745 931.2" stroke="#3f979c" stroke-width="9.2"/><path d="M745 931.2 L733.3 927.3" stroke="#a81616" stroke-width="9.2"/><path d="M752.8 932.8 L753.6 950" stroke="#3f979c" stroke-width="9.2"/><path d="M753.6 950 L754.4 960.9 L746.6 971.9" stroke="#2a2db0" stroke-width="9.2"/><path d="M746.6 971.9 L738.8 982.8 L754.4 1000" stroke="#3f979c" stroke-width="9.2"/><path d="M708.8 560.6 L710.6 564.4" stroke="#e42a2a" stroke-width="6.4"/><path d="M710.6 564.8 L718.1 579.7" stroke="#8fd2a8" stroke-width="6.4"/><path d="M718.1 579.7 L727.5 592.2" stroke="#3d46e6" stroke-width="6.4"/><path d="M727.5 592.2 L740 602.3" stroke="#3d46e6" stroke-width="6.4"/><path d="M740 602.3 L749.4 609.4" stroke="#3a4570" stroke-width="6.4"/><path d="M749.4 609.4 L740 629.7" stroke="#63cdd0" stroke-width="6.4"/><path d="M740 629.7 L738.4 646.9" stroke="#8fd2a8" stroke-width="6.4"/><path d="M727.5 592.2 L724.4 607.8" stroke="#7a80d8" stroke-width="6.4"/><path d="M724.4 607.8 L721.2 628.1" stroke="#8fd2a8" stroke-width="6.4"/><path d="M721.2 628.1 L738.4 646.9" stroke="#63cdd0" stroke-width="6.4"/><path d="M738.4 646.9 L731.4 653.9" stroke="#8fd2a8" stroke-width="6.4"/><path d="M731.4 653.9 L724.4 660.9" stroke="#3d46e6" stroke-width="6.4"/><path d="M724.4 660.9 L716.6 650" stroke="#3d46e6" stroke-width="6.4"/><path d="M716.6 650 L711.9 639.1" stroke="#63cdd0" stroke-width="6.4"/><path d="M712.7 604.7 L712.7 621.9" stroke="#e42a2a" stroke-width="6.4"/><path d="M712.7 621.9 L711.9 639.1" stroke="#63cdd0" stroke-width="6.4"/><path d="M703.3 637.5 L707.2 638.3" stroke="#e42a2a" stroke-width="6.4"/><path d="M707.2 638.3 L711.9 639.1" stroke="#63cdd0" stroke-width="6.4"/><path d="M711.9 639.1 L697.8 656.2" stroke="#63cdd0" stroke-width="6.4"/><path d="M697.8 656.2 L707.2 676.6" stroke="#8fd2a8" stroke-width="6.4"/><path d="M707.2 676.6 L715 691.4" stroke="#7a80d8" stroke-width="6.4"/><path d="M735.3 657.8 L732.2 675" stroke="#3d46e6" stroke-width="6.4"/><path d="M732.2 675 L730.3 684.4" stroke="#63cdd0" stroke-width="6.4"/><path d="M762.7 669.5 L755.6 681.2" stroke="#e42a2a" stroke-width="6.4"/><path d="M755.6 681.2 L747.8 695.3" stroke="#63cdd0" stroke-width="6.4"/><path d="M715 691.4 L730.6 694.5" stroke="#3d46e6" stroke-width="6.4"/><path d="M730.6 694.5 L747.8 695.3" stroke="#8fd2a8" stroke-width="6.4"/><path d="M747.8 695.3 L752.5 709.4" stroke="#63cdd0" stroke-width="6.4"/><path d="M693.9 684.1 L702.5 687.2" stroke="#e42a2a" stroke-width="6.4"/><path d="M702.5 687.2 L707.2 688.3" stroke="#63cdd0" stroke-width="6.4"/><path d="M707.2 688.3 L694.7 690.6" stroke="#63cdd0" stroke-width="6.4"/><path d="M694.7 690.6 L679.1 696.9" stroke="#7a80d8" stroke-width="6.4"/><path d="M679.1 696.9 L663.4 700.3" stroke="#63cdd0" stroke-width="6.4"/><path d="M663.4 700.3 L661.1 710.9" stroke="#63cdd0" stroke-width="6.4"/><path d="M749.4 700 L755.6 715.6" stroke="#63cdd0" stroke-width="6.4"/><path d="M755.6 715.6 L761.9 732.8" stroke="#8fd2a8" stroke-width="6.4"/><path d="M761.9 732.8 L747.8 745.3" stroke="#63cdd0" stroke-width="6.4"/><path d="M747.8 745.3 L732.2 760.2" stroke="#3d46e6" stroke-width="6.4"/><path d="M732.2 760.2 L725.2 769.5" stroke="#63cdd0" stroke-width="6.4"/><path d="M733.8 769.5 L715 781.2" stroke="#8fd2a8" stroke-width="6.4"/><path d="M715 781.2 L697.8 793.8" stroke="#63cdd0" stroke-width="6.4"/><path d="M697.8 793.8 L693.9 806.2" stroke="#63cdd0" stroke-width="6.4"/><path d="M693.9 806.2 L686.9 818.8" stroke="#3d46e6" stroke-width="6.4"/><path d="M686.9 818.8 L694.7 834.4" stroke="#3d46e6" stroke-width="6.4"/><path d="M694.7 834.4 L702.5 850" stroke="#63cdd0" stroke-width="6.4"/><path d="M708.8 853.9 L718.9 856.6" stroke="#e42a2a" stroke-width="6.4"/><path d="M702.5 850 L708.8 853.9" stroke="#63cdd0" stroke-width="6.4"/><path d="M702.5 850 L699.4 860.9" stroke="#63cdd0" stroke-width="6.4"/><path d="M654.4 720.3 L660.3 723.8" stroke="#e42a2a" stroke-width="6.4"/><path d="M660.3 724.2 L663.4 709.4 L665.3 700" stroke="#63cdd0" stroke-width="6.4"/><path d="M660.3 724.2 L666.6 742.2" stroke="#63cdd0" stroke-width="6.4"/><path d="M666.6 742.2 L669.7 757.8" stroke="#7a80d8" stroke-width="6.4"/><path d="M669.7 757.8 L669.7 773.4 L680.6 777.3" stroke="#63cdd0" stroke-width="6.4"/><path d="M680.6 777.3 L691.6 773.4 L701.7 770.6" stroke="#e42a2a" stroke-width="6.4"/><path d="M729.4 777 L732.2 777.7" stroke="#e42a2a" stroke-width="6.4"/><path d="M796.2 739.1 L797.8 753.1" stroke="#e42a2a" stroke-width="6.4"/><path d="M797.8 753.1 L800.9 764.1" stroke="#63cdd0" stroke-width="6.4"/><path d="M790 776.9 L777.5 776.6" stroke="#3d46e6" stroke-width="6.4"/><path d="M777.5 776.6 L765 776.6 L752.5 792.2" stroke="#63cdd0" stroke-width="6.4"/><path d="M752.5 792.2 L740 778.9" stroke="#e42a2a" stroke-width="6.4"/><path d="M752.5 792.2 L755.6 818.8" stroke="#63cdd0" stroke-width="6.4"/><path d="M755.6 818.8 L749.4 837.5" stroke="#3d46e6" stroke-width="6.4"/><path d="M749.4 837.5 L746.2 840.6 L758.8 860.9" stroke="#63cdd0" stroke-width="6.4"/><path d="M844.2 680.5 L855.9 684.4" stroke="#e42a2a" stroke-width="6.4"/><path d="M855.9 684.4 L868.4 687.5 L868.4 700" stroke="#63cdd0" stroke-width="6.4"/><path d="M868.4 700 L866.9 709.4" stroke="#3d46e6" stroke-width="6.4"/><path d="M898.1 688.3 L906.7 699.2" stroke="#4ab4f0" stroke-width="6.4"/><path d="M869.8 700 L870.6 706.2 L861.2 712.5" stroke="#3d46e6" stroke-width="6.4"/><path d="M861.2 712.5 L850.3 720.3 L842.5 743.8" stroke="#63cdd0" stroke-width="6.4"/><path d="M842.5 743.8 L834.7 757.8" stroke="#3d46e6" stroke-width="6.4"/><path d="M834.7 757.8 L830 768.8 L803.4 761.7" stroke="#63cdd0" stroke-width="6.4"/><path d="M803.4 761.7 L800.3 751.6 L795.6 739.1" stroke="#e42a2a" stroke-width="6.4"/><path d="M803.4 761.7 L797.2 771.9" stroke="#63cdd0" stroke-width="6.4"/><path d="M797.2 771.9 L789.4 779.7 L780 779.7" stroke="#3d46e6" stroke-width="6.4"/><path d="M701.6 850 L689.1 878.1 L687.5 895.3" stroke="#63cdd0" stroke-width="6.4"/><path d="M687.5 895.3 L684.4 907.8 L671.9 908.1" stroke="#3d46e6" stroke-width="6.4"/><path d="M671.9 908.1 L659.4 908.6 L650 901.6" stroke="#63cdd0" stroke-width="6.4"/><path d="M650 901.6 L637.5 891.4" stroke="#e42a2a" stroke-width="6.4"/><path d="M659.4 908.6 L662.5 931.2 L654.7 942.2" stroke="#8fd2a8" stroke-width="6.4"/><path d="M654.7 942.2 L648.4 956.2 L650 968.8" stroke="#7a80d8" stroke-width="6.4"/><path d="M650 968.8 L654.7 981.2 L664.1 984.4" stroke="#63cdd0" stroke-width="6.4"/><path d="M664.1 984.4 L676.6 985.9" stroke="#e42a2a" stroke-width="6.4"/><path d="M654.7 981.2 L642.2 1000" stroke="#63cdd0" stroke-width="6.4"/><path d="M717.2 855.5 L710.2 853.4" stroke="#e42a2a" stroke-width="6.4"/><path d="M710.2 853.4 L701.6 850" stroke="#63cdd0" stroke-width="6.4"/><path d="M748.1 850 L762.2 865.6 L773.1 868.8" stroke="#63cdd0" stroke-width="6.4"/><path d="M773.1 868.8 L780.9 872.7" stroke="#e42a2a" stroke-width="6.4"/><path d="M762.2 865.6 L759.1 876.6" stroke="#63cdd0" stroke-width="6.4"/><path d="M759.1 876.6 L755.9 885.9 L763.8 898.4" stroke="#3d46e6" stroke-width="6.4"/><path d="M763.8 898.4 L771.6 914.1 L752.8 932.8 L745 931.2" stroke="#63cdd0" stroke-width="6.4"/><path d="M745 931.2 L733.3 927.3" stroke="#e42a2a" stroke-width="6.4"/><path d="M752.8 932.8 L753.6 950" stroke="#63cdd0" stroke-width="6.4"/><path d="M753.6 950 L754.4 960.9 L746.6 971.9" stroke="#3d46e6" stroke-width="6.4"/><path d="M746.6 971.9 L738.8 982.8 L754.4 1000" stroke="#63cdd0" stroke-width="6.4"/><path d="M708.8 560.6 L710.6 564.4" stroke="#f47a7a" stroke-width="2.4"/><path d="M710.6 564.8 L718.1 579.7" stroke="#c0ecc8" stroke-width="2.4"/><path d="M718.1 579.7 L727.5 592.2" stroke="#7a80f5" stroke-width="2.4"/><path d="M727.5 592.2 L740 602.3" stroke="#7a80f5" stroke-width="2.4"/><path d="M740 602.3 L749.4 609.4" stroke="#5a6590" stroke-width="2.4"/><path d="M749.4 609.4 L740 629.7" stroke="#9fe9ea" stroke-width="2.4"/><path d="M740 629.7 L738.4 646.9" stroke="#c0ecc8" stroke-width="2.4"/><path d="M727.5 592.2 L724.4 607.8" stroke="#a8acec" stroke-width="2.4"/><path d="M724.4 607.8 L721.2 628.1" stroke="#c0ecc8" stroke-width="2.4"/><path d="M721.2 628.1 L738.4 646.9" stroke="#9fe9ea" stroke-width="2.4"/><path d="M738.4 646.9 L731.4 653.9" stroke="#c0ecc8" stroke-width="2.4"/><path d="M731.4 653.9 L724.4 660.9" stroke="#7a80f5" stroke-width="2.4"/><path d="M724.4 660.9 L716.6 650" stroke="#7a80f5" stroke-width="2.4"/><path d="M716.6 650 L711.9 639.1" stroke="#9fe9ea" stroke-width="2.4"/><path d="M712.7 604.7 L712.7 621.9" stroke="#f47a7a" stroke-width="2.4"/><path d="M712.7 621.9 L711.9 639.1" stroke="#9fe9ea" stroke-width="2.4"/><path d="M703.3 637.5 L707.2 638.3" stroke="#f47a7a" stroke-width="2.4"/><path d="M707.2 638.3 L711.9 639.1" stroke="#9fe9ea" stroke-width="2.4"/><path d="M711.9 639.1 L697.8 656.2" stroke="#9fe9ea" stroke-width="2.4"/><path d="M697.8 656.2 L707.2 676.6" stroke="#c0ecc8" stroke-width="2.4"/><path d="M707.2 676.6 L715 691.4" stroke="#a8acec" stroke-width="2.4"/><path d="M735.3 657.8 L732.2 675" stroke="#7a80f5" stroke-width="2.4"/><path d="M732.2 675 L730.3 684.4" stroke="#9fe9ea" stroke-width="2.4"/><path d="M762.7 669.5 L755.6 681.2" stroke="#f47a7a" stroke-width="2.4"/><path d="M755.6 681.2 L747.8 695.3" stroke="#9fe9ea" stroke-width="2.4"/><path d="M715 691.4 L730.6 694.5" stroke="#7a80f5" stroke-width="2.4"/><path d="M730.6 694.5 L747.8 695.3" stroke="#c0ecc8" stroke-width="2.4"/><path d="M747.8 695.3 L752.5 709.4" stroke="#9fe9ea" stroke-width="2.4"/><path d="M693.9 684.1 L702.5 687.2" stroke="#f47a7a" stroke-width="2.4"/><path d="M702.5 687.2 L707.2 688.3" stroke="#9fe9ea" stroke-width="2.4"/><path d="M707.2 688.3 L694.7 690.6" stroke="#9fe9ea" stroke-width="2.4"/><path d="M694.7 690.6 L679.1 696.9" stroke="#a8acec" stroke-width="2.4"/><path d="M679.1 696.9 L663.4 700.3" stroke="#9fe9ea" stroke-width="2.4"/><path d="M663.4 700.3 L661.1 710.9" stroke="#9fe9ea" stroke-width="2.4"/><path d="M749.4 700 L755.6 715.6" stroke="#9fe9ea" stroke-width="2.4"/><path d="M755.6 715.6 L761.9 732.8" stroke="#c0ecc8" stroke-width="2.4"/><path d="M761.9 732.8 L747.8 745.3" stroke="#9fe9ea" stroke-width="2.4"/><path d="M747.8 745.3 L732.2 760.2" stroke="#7a80f5" stroke-width="2.4"/><path d="M732.2 760.2 L725.2 769.5" stroke="#9fe9ea" stroke-width="2.4"/><path d="M733.8 769.5 L715 781.2" stroke="#c0ecc8" stroke-width="2.4"/><path d="M715 781.2 L697.8 793.8" stroke="#9fe9ea" stroke-width="2.4"/><path d="M697.8 793.8 L693.9 806.2" stroke="#9fe9ea" stroke-width="2.4"/><path d="M693.9 806.2 L686.9 818.8" stroke="#7a80f5" stroke-width="2.4"/><path d="M686.9 818.8 L694.7 834.4" stroke="#7a80f5" stroke-width="2.4"/><path d="M694.7 834.4 L702.5 850" stroke="#9fe9ea" stroke-width="2.4"/><path d="M708.8 853.9 L718.9 856.6" stroke="#f47a7a" stroke-width="2.4"/><path d="M702.5 850 L708.8 853.9" stroke="#9fe9ea" stroke-width="2.4"/><path d="M702.5 850 L699.4 860.9" stroke="#9fe9ea" stroke-width="2.4"/><path d="M654.4 720.3 L660.3 723.8" stroke="#f47a7a" stroke-width="2.4"/><path d="M660.3 724.2 L663.4 709.4 L665.3 700" stroke="#9fe9ea" stroke-width="2.4"/><path d="M660.3 724.2 L666.6 742.2" stroke="#9fe9ea" stroke-width="2.4"/><path d="M666.6 742.2 L669.7 757.8" stroke="#a8acec" stroke-width="2.4"/><path d="M669.7 757.8 L669.7 773.4 L680.6 777.3" stroke="#9fe9ea" stroke-width="2.4"/><path d="M680.6 777.3 L691.6 773.4 L701.7 770.6" stroke="#f47a7a" stroke-width="2.4"/><path d="M729.4 777 L732.2 777.7" stroke="#f47a7a" stroke-width="2.4"/><path d="M796.2 739.1 L797.8 753.1" stroke="#f47a7a" stroke-width="2.4"/><path d="M797.8 753.1 L800.9 764.1" stroke="#9fe9ea" stroke-width="2.4"/><path d="M790 776.9 L777.5 776.6" stroke="#7a80f5" stroke-width="2.4"/><path d="M777.5 776.6 L765 776.6 L752.5 792.2" stroke="#9fe9ea" stroke-width="2.4"/><path d="M752.5 792.2 L740 778.9" stroke="#f47a7a" stroke-width="2.4"/><path d="M752.5 792.2 L755.6 818.8" stroke="#9fe9ea" stroke-width="2.4"/><path d="M755.6 818.8 L749.4 837.5" stroke="#7a80f5" stroke-width="2.4"/><path d="M749.4 837.5 L746.2 840.6 L758.8 860.9" stroke="#9fe9ea" stroke-width="2.4"/><path d="M844.2 680.5 L855.9 684.4" stroke="#f47a7a" stroke-width="2.4"/><path d="M855.9 684.4 L868.4 687.5 L868.4 700" stroke="#9fe9ea" stroke-width="2.4"/><path d="M868.4 700 L866.9 709.4" stroke="#7a80f5" stroke-width="2.4"/><path d="M898.1 688.3 L906.7 699.2" stroke="#8ad4fa" stroke-width="2.4"/><path d="M869.8 700 L870.6 706.2 L861.2 712.5" stroke="#7a80f5" stroke-width="2.4"/><path d="M861.2 712.5 L850.3 720.3 L842.5 743.8" stroke="#9fe9ea" stroke-width="2.4"/><path d="M842.5 743.8 L834.7 757.8" stroke="#7a80f5" stroke-width="2.4"/><path d="M834.7 757.8 L830 768.8 L803.4 761.7" stroke="#9fe9ea" stroke-width="2.4"/><path d="M803.4 761.7 L800.3 751.6 L795.6 739.1" stroke="#f47a7a" stroke-width="2.4"/><path d="M803.4 761.7 L797.2 771.9" stroke="#9fe9ea" stroke-width="2.4"/><path d="M797.2 771.9 L789.4 779.7 L780 779.7" stroke="#7a80f5" stroke-width="2.4"/><path d="M701.6 850 L689.1 878.1 L687.5 895.3" stroke="#9fe9ea" stroke-width="2.4"/><path d="M687.5 895.3 L684.4 907.8 L671.9 908.1" stroke="#7a80f5" stroke-width="2.4"/><path d="M671.9 908.1 L659.4 908.6 L650 901.6" stroke="#9fe9ea" stroke-width="2.4"/><path d="M650 901.6 L637.5 891.4" stroke="#f47a7a" stroke-width="2.4"/><path d="M659.4 908.6 L662.5 931.2 L654.7 942.2" stroke="#c0ecc8" stroke-width="2.4"/><path d="M654.7 942.2 L648.4 956.2 L650 968.8" stroke="#a8acec" stroke-width="2.4"/><path d="M650 968.8 L654.7 981.2 L664.1 984.4" stroke="#9fe9ea" stroke-width="2.4"/><path d="M664.1 984.4 L676.6 985.9" stroke="#f47a7a" stroke-width="2.4"/><path d="M654.7 981.2 L642.2 1000" stroke="#9fe9ea" stroke-width="2.4"/><path d="M717.2 855.5 L710.2 853.4" stroke="#f47a7a" stroke-width="2.4"/><path d="M710.2 853.4 L701.6 850" stroke="#9fe9ea" stroke-width="2.4"/><path d="M748.1 850 L762.2 865.6 L773.1 868.8" stroke="#9fe9ea" stroke-width="2.4"/><path d="M773.1 868.8 L780.9 872.7" stroke="#f47a7a" stroke-width="2.4"/><path d="M762.2 865.6 L759.1 876.6" stroke="#9fe9ea" stroke-width="2.4"/><path d="M759.1 876.6 L755.9 885.9 L763.8 898.4" stroke="#7a80f5" stroke-width="2.4"/><path d="M763.8 898.4 L771.6 914.1 L752.8 932.8 L745 931.2" stroke="#9fe9ea" stroke-width="2.4"/><path d="M745 931.2 L733.3 927.3" stroke="#f47a7a" stroke-width="2.4"/><path d="M752.8 932.8 L753.6 950" stroke="#9fe9ea" stroke-width="2.4"/><path d="M753.6 950 L754.4 960.9 L746.6 971.9" stroke="#7a80f5" stroke-width="2.4"/><path d="M746.6 971.9 L738.8 982.8 L754.4 1000" stroke="#9fe9ea" stroke-width="2.4"/></g>
<line x1="719.7" y1="681.2" x2="837.2" y2="681.2" stroke="#f00" stroke-width="4.8" stroke-dasharray="16 6"/>
<line x1="705.6" y1="687.5" x2="854.4" y2="701.6" stroke="#f00" stroke-width="4.8" stroke-dasharray="16 6"/>
<line x1="719.7" y1="701.6" x2="787.7" y2="732" stroke="#f00" stroke-width="4.8" stroke-dasharray="16 6"/>
<line x1="708" y1="769.1" x2="790.8" y2="771.1" stroke="#f00" stroke-width="4.8" stroke-dasharray="16 6"/>
<line x1="736.9" y1="757.5" x2="743.1" y2="771.1" stroke="#f00" stroke-width="4.8" stroke-dasharray="20 4"/>
<line x1="721.9" y1="860.2" x2="748.4" y2="875" stroke="#f00" stroke-width="4.8" stroke-dasharray="12 5"/>
<line x1="693" y1="911.7" x2="720.3" y2="921.1" stroke="#f00" stroke-width="4.8" stroke-dasharray="12 5"/>
</g>
<rect x="555.4" y="551" width="419.6" height="449.6" fill="none" stroke="#5b8fd6" stroke-width="3.8"/>
<text x="638.5" y="625.5" font-size="33" font-weight="bold" text-anchor="start">β3</text>
<text x="914.5" y="625.5" font-size="36" font-weight="bold" text-anchor="start">F3</text>
<text x="589.7" y="682.5" font-size="28.1" font-weight="bold">TYR<tspan font-size="17.4" dy="-10.1">747</tspan><tspan dy="10.1">:O</tspan></text>
<text x="597.9" y="722.8" font-size="28.1" font-weight="bold">ASN<tspan font-size="17.4" dy="-10.1">744</tspan><tspan dy="10.1">:N</tspan></text>
<text x="612.2" y="758" font-size="28.1" font-weight="bold">ALA<tspan font-size="17.4" dy="-10.1">742</tspan><tspan dy="10.1">:N</tspan></text>
<text x="595" y="806.8" font-size="28.1" font-weight="bold">GLU<tspan font-size="17.4" dy="-10.1">749</tspan><tspan dy="10.1">:O</tspan></text>
<text x="580.3" y="857.2" font-size="28.1" font-weight="bold">ASP<tspan font-size="17.4" dy="-10.1">740</tspan><tspan dy="10.1">:O</tspan></text>
<text x="567" y="939.2" font-size="28.1" font-weight="bold">ASP<tspan font-size="17.4" dy="-10.1">740</tspan><tspan dy="10.1">:N</tspan></text>
<text x="854.2" y="683.4" font-size="28.1" font-weight="bold">THR<tspan font-size="17.4" dy="-10.1">354</tspan><tspan dy="10.1">:O</tspan></text>
<text x="854.2" y="729.8" font-size="28.1" font-weight="bold">ASN<tspan font-size="17.4" dy="-10.1">355</tspan><tspan dy="10.1">:N</tspan></text>
<text x="814" y="760.8" font-size="28.1" font-weight="bold">ILE<tspan font-size="17.4" dy="-10.1">356</tspan><tspan dy="10.1">:O</tspan></text>
<text x="790.5" y="796.2" font-size="28.1" font-weight="bold">LYS<tspan font-size="17.4" dy="-10.1">357</tspan><tspan dy="10.1">:N</tspan></text>
<text x="738.1" y="824.4" font-size="28.1" font-weight="bold">LYS<tspan font-size="17.4" dy="-10.1">357</tspan><tspan dy="10.1">:O</tspan></text>
<text x="782.3" y="895" font-size="28.1" font-weight="bold">TRP<tspan font-size="17.4" dy="-10.1">359</tspan><tspan dy="10.1">:N</tspan></text>
<text x="764.7" y="951.6" font-size="28.1" font-weight="bold">TRP<tspan font-size="17.4" dy="-10.1">359</tspan><tspan dy="10.1">:O</tspan></text>
<text x="516" y="532" font-size="65" font-weight="bold" text-anchor="start">e</text></g>
<g id="pf"><polyline fill="none" stroke="#00c000" stroke-width="2" stroke-linejoin="round" points="1157.9,676.6 1164.9,712.8 1171.8,719.5 1178.8,725.6 1185.7,727.4 1192.7,724.3 1199.6,726.4 1206.6,729.2 1213.5,728.4 1220.5,712.3 1227.4,691.9 1234.4,646.5 1241.3,595 1248.3,599.6 1255.2,604.7 1262.2,671.5 1269.1,721.5 1276,725.6 1283,729.7 1289.9,733.8 1296.9,733.8 1303.8,733.5 1310.8,730.7 1317.7,724.6 1324.7,707.2 1331.6,697 1338.6,706.7 1345.5,718.5 1352.5,728.7 1359.4,727.6 1366.4,733.5 1373.3,733.5 1380.3,726.6 1387.2,713.4 1394.2,666.4 1401.1,661.8 1408.1,687.9 1415,708.3 1422,720.5 1428.9,724.3 1435.9,715 1442.8,725.6 1449.7,728.7 1456.7,722.5 1463.6,720.5 1470.6,704.2 1477.5,705.2 1484.5,718.5 1491.4,714.9 1498.4,719.2 1505.3,724.1 1512.3,717.4 1519.2,711.3 1526.2,701.1 1533.1,683.1 1540.1,697 1547,712.3 1554,726.1 1560.9,727.8 1567.9,730.2 1574.8,724.6 1581.8,719.2 1588.7,694 1595.7,674.6 1602.6,621 1609.6,640.4 1616.5,634.3 1623.4,635.3 1630.4,695 1637.3,724.1 1644.3,726.4 1651.2,727.4 1658.2,720.2 1665.1,700.1 1672.1,669 1679,675.9 1686,667.7 1692.9,693 1699.9,704.2 1706.8,722.6 1713.8,720.5 1720.7,720.5 1727.7,721.6 1734.6,722.6 1741.6,716.9 1748.5,713.4 1755.5,706.2 1762.4,699.6 1769.4,684.8 1776.3,640.4 1783.3,596.1 1790.2,599.6" stroke-linejoin="miter"/>
<polyline fill="none" stroke="#ff0000" stroke-width="2" stroke-linejoin="round" points="1157.9,686.8 1164.9,721.5 1171.8,730.7 1178.8,734.5 1185.7,737 1192.7,734.8 1199.6,737.6 1206.6,737.6 1213.5,736.3 1220.5,721.5 1227.4,700.1 1234.4,675.6 1241.3,654.2 1248.3,666.4 1255.2,670.5 1262.2,696 1269.1,725.6 1276,731.5 1283,734.8 1289.9,740.1 1296.9,738 1303.8,737 1310.8,736.3 1317.7,734.3 1324.7,719.5 1331.6,705.7 1338.6,707.8 1345.5,722.5 1352.5,733.8 1359.4,735.3 1366.4,735.6 1373.3,734.9 1380.3,730.4 1387.2,719.5 1394.2,679.7 1401.1,667.3 1408.1,688.9 1415,707.2 1422,724.7 1428.9,726.3 1435.9,727.4 1442.8,729.2 1449.7,731.2 1456.7,724.1 1463.6,725.6 1470.6,722.6 1477.5,724.7 1484.5,734.9 1491.4,738 1498.4,737 1505.3,734.5 1512.3,730.4 1519.2,703.7 1526.2,705.7 1533.1,685.3 1540.1,711 1547,718.5 1554,731.9 1560.9,734.5 1567.9,737.4 1574.8,735.6 1581.8,723.7 1588.7,696 1595.7,685.8 1602.6,657 1609.6,645.7 1616.5,653.9 1623.4,696 1630.4,720.5 1637.3,733.9 1644.3,733.5 1651.2,736.4 1658.2,737.4 1665.1,732.9 1672.1,715.4 1679,707.9 1686,717.5 1692.9,712.3 1699.9,721.6 1706.8,731.2 1713.8,726.1 1720.7,726.8 1727.7,733.9 1734.6,729.8 1741.6,725.3 1748.5,727.8 1755.5,728.1 1762.4,722.6 1769.4,713.4 1776.3,683.8 1783.3,661.1 1790.2,663.8" stroke-linejoin="miter"/>
<polyline fill="none" stroke="#0000ff" stroke-width="2" stroke-linejoin="round" points="1157.9,683.8 1164.9,718.5 1171.8,727.1 1178.8,731.7 1185.7,733.8 1192.7,731.2 1199.6,730.4 1206.6,733.2 1213.5,729.7 1220.5,718.5 1227.4,691.9 1234.4,650.6 1241.3,631.2 1248.3,651.6 1255.2,647.6 1262.2,675.6 1269.1,719 1276,721.5 1283,726.6 1289.9,731.7 1296.9,733.5 1303.8,733.5 1310.8,733.5 1317.7,732.7 1324.7,718.5 1331.6,711.8 1338.6,710.3 1345.5,728.7 1352.5,734.8 1359.4,730.4 1366.4,733.5 1373.3,724.6 1380.3,710.3 1387.2,680.7 1394.2,666.4 1401.1,677.7 1408.1,688.9 1415,709.3 1422,719.5 1428.9,719.2 1435.9,718.5 1442.8,729.4 1449.7,732.9 1456.7,722 1463.6,723.3 1470.6,718.2 1477.5,722.6 1484.5,734.3 1491.4,722.6 1498.4,725.6 1505.3,729.8 1512.3,729.8 1519.2,718.2 1526.2,721.5 1533.1,711.3 1540.1,717.5 1547,720.5 1554,733.9 1560.9,734.9 1567.9,734.9 1574.8,731.9 1581.8,723.7 1588.7,699.1 1595.7,686.8 1602.6,627.7 1609.6,624.8 1616.5,665.2 1623.4,701.1 1630.4,724.1 1637.3,730.9 1644.3,730.4 1651.2,731.2 1658.2,732.9 1665.1,728.8 1672.1,707.9 1679,700.7 1686,712 1692.9,708.8 1699.9,718.6 1706.8,729.8 1713.8,724.7 1720.7,726.4 1727.7,728.8 1734.6,727.1 1741.6,719.2 1748.5,716.9 1755.5,714 1762.4,708.3 1769.4,674.6 1776.3,639.6 1783.3,642 1790.2,682.2" stroke-linejoin="miter"/>
<rect x="1093.4" y="555.4" width="3.8" height="208" fill="#000"/>
<rect x="1088.5" y="759.3" width="776.5" height="4" fill="#000"/>
<rect x="1088.5" y="759.4" width="6" height="3.8" fill="#000"/>
<text x="1087" y="772.8" font-size="34" font-weight="bold" text-anchor="end">0</text>
<rect x="1088.5" y="708.4" width="6" height="3.8" fill="#000"/>
<text x="1087" y="721.8" font-size="34" font-weight="bold" text-anchor="end">1</text>
<rect x="1088.5" y="657.4" width="6" height="3.8" fill="#000"/>
<text x="1087" y="670.8" font-size="34" font-weight="bold" text-anchor="end">2</text>
<rect x="1088.5" y="606.4" width="6" height="3.8" fill="#000"/>
<text x="1087" y="619.8" font-size="34" font-weight="bold" text-anchor="end">3</text>
<rect x="1088.5" y="555.4" width="6" height="3.8" fill="#000"/>
<text x="1087" y="568.8" font-size="34" font-weight="bold" text-anchor="end">4</text>
<rect x="1093.6" y="760.6" width="3.6" height="7" fill="#000"/>
<text x="1095.4" y="801.4" font-size="34.5" font-weight="bold" text-anchor="middle">300</text>
<rect x="1163.1" y="760.6" width="3.6" height="7" fill="#000"/>
<text x="1164.9" y="801.4" font-size="34.5" font-weight="bold" text-anchor="middle">310</text>
<rect x="1232.6" y="760.6" width="3.6" height="7" fill="#000"/>
<text x="1234.4" y="801.4" font-size="34.5" font-weight="bold" text-anchor="middle">320</text>
<rect x="1302" y="760.6" width="3.6" height="7" fill="#000"/>
<text x="1303.8" y="801.4" font-size="34.5" font-weight="bold" text-anchor="middle">330</text>
<rect x="1371.5" y="760.6" width="3.6" height="7" fill="#000"/>
<text x="1373.3" y="801.4" font-size="34.5" font-weight="bold" text-anchor="middle">340</text>
<rect x="1441" y="760.6" width="3.6" height="7" fill="#000"/>
<text x="1442.8" y="801.4" font-size="34.5" font-weight="bold" text-anchor="middle">350</text>
<rect x="1510.5" y="760.6" width="3.6" height="7" fill="#000"/>
<text x="1512.3" y="801.4" font-size="34.5" font-weight="bold" text-anchor="middle">360</text>
<rect x="1580" y="760.6" width="3.6" height="7" fill="#000"/>
<text x="1581.8" y="801.4" font-size="34.5" font-weight="bold" text-anchor="middle">370</text>
<rect x="1649.4" y="760.6" width="3.6" height="7" fill="#000"/>
<text x="1651.2" y="801.4" font-size="34.5" font-weight="bold" text-anchor="middle">380</text>
<rect x="1718.9" y="760.6" width="3.6" height="7" fill="#000"/>
<text x="1720.7" y="801.4" font-size="34.5" font-weight="bold" text-anchor="middle">390</text>
<rect x="1788.4" y="760.6" width="3.6" height="7" fill="#000"/>
<text x="1790.2" y="801.4" font-size="34.5" font-weight="bold" text-anchor="middle">400</text>
<rect x="1857.9" y="760.6" width="3.6" height="7" fill="#000"/>
<text x="1859.7" y="801.4" font-size="34.5" font-weight="bold" text-anchor="middle">410</text>
<text x="1478" y="846" font-size="34" font-weight="bold" text-anchor="middle">Residues</text>
<text transform="translate(1057 642) rotate(-90) scale(0.925 1)" font-size="38" font-weight="bold" text-anchor="middle">RMSF<tspan dx="-7"> (Å</tspan><tspan dx="3"> )</tspan></text>
<line x1="1110.2" y1="571.6" x2="1131" y2="571.6" stroke="#0000ff" stroke-width="2"/>
<text x="1143.4" y="581.8" font-size="30" font-weight="normal" text-anchor="start">Run 1</text>
<line x1="1224" y1="571.6" x2="1244.6" y2="571.6" stroke="#ff0000" stroke-width="2"/>
<text x="1256.8" y="581.8" font-size="30" font-weight="normal" text-anchor="start">Run 2</text>
<line x1="1339" y1="571.6" x2="1360" y2="571.6" stroke="#00c000" stroke-width="2"/>
<text x="1371.7" y="581.8" font-size="30" font-weight="normal" text-anchor="start">Run 3</text>
<line x1="1167" y1="894.6" x2="1688.7" y2="894.6" stroke="#000" stroke-width="3"/>
<line x1="1790.4" y1="894.6" x2="1798" y2="894.6" stroke="#000" stroke-width="3"/>
<rect x="1464.2" y="891.6" width="20.4" height="6" fill="#fff"/>
<line x1="1255.2" y1="894.6" x2="1272" y2="894.6" stroke="#00b050" stroke-width="3"/>
<line x1="1327.9" y1="894.6" x2="1345.4" y2="894.6" stroke="#00b050" stroke-width="3"/>
<line x1="1672.2" y1="894.6" x2="1681" y2="894.6" stroke="#00b050" stroke-width="3"/>
<path d="M1174 890.5H1206V886.9L1213 894.6L1206 902.3V898.7H1174z" fill="#ffc000"/>
<path d="M1277.5 890.5H1314.3V886.9L1321.3 894.6L1314.3 902.3V898.7H1277.5z" fill="#ffc000"/>
<path d="M1345.4 890.5H1378.2V886.9L1385.2 894.6L1378.2 902.3V898.7H1345.4z" fill="#ffc000"/>
<path d="M1425.3 890.5H1457.2V886.9L1464.2 894.6L1457.2 902.3V898.7H1425.3z" fill="#ffc000"/>
<path d="M1500 890.5H1524.4V886.9L1531.4 894.6L1524.4 902.3V898.7H1500z" fill="#ffc000"/>
<path d="M1552.9 890.5H1571V886.9L1578 894.6L1571 902.3V898.7H1552.9z" fill="#ffc000"/>
<path d="M1640 890.5H1657.6V886.9L1664.6 894.6L1657.6 902.3V898.7H1640z" fill="#ffc000"/>
<rect x="1150.7" y="892.6" width="12.8" height="4" fill="#fff"/>
<path d="M1149 896.1A8.1 8.1 0 0 1 1165.2 896.1" fill="none" stroke="#c0504d" stroke-width="4.6"/>
<rect x="1232.8" y="892.6" width="13.8" height="4" fill="#fff"/>
<path d="M1231.1 896.1A8.6 8.6 0 0 1 1248.3 896.1" fill="none" stroke="#c0504d" stroke-width="4.6"/>
<rect x="1389.3" y="892.6" width="14.8" height="4" fill="#fff"/>
<path d="M1387.6 896.1A9.1 9.1 0 0 1 1405.8 896.1" fill="none" stroke="#c0504d" stroke-width="4.6"/>
<rect x="1535.5" y="892.6" width="13.3" height="4" fill="#fff"/>
<path d="M1533.8 896.1A8.3 8.3 0 0 1 1550.5 896.1" fill="none" stroke="#c0504d" stroke-width="4.6"/>
<rect x="1606.8" y="892.6" width="12.4" height="4" fill="#fff"/>
<path d="M1605.1 896.1A7.9 7.9 0 0 1 1620.9 896.1" fill="none" stroke="#c0504d" stroke-width="4.6"/>
<polyline fill="none" stroke="#1f4e79" stroke-width="1.8" stroke-linejoin="round" points="1464.2,895.8 1465,893.1 1465.9,890.5 1466.8,888.3 1467.6,886.6 1468.5,885.6 1469.3,885.2 1470.2,885.6 1471,886.6 1471.8,888.3 1472.7,890.5 1473.5,893.1 1474.4,895.8 1475.2,898.5 1476.1,901.1 1477,903.3 1477.8,905 1478.6,906 1479.5,906.4 1480.3,906 1481.2,905 1482,903.3 1482.9,901.1 1483.8,898.5 1484.6,895.8"/>
<polyline fill="none" stroke="#1f4e79" stroke-width="1.8" stroke-linejoin="round" points="1688.7,895.4 1689.5,898.2 1690.2,900.8 1691,903 1691.8,904.8 1692.6,905.8 1693.3,906.2 1694.1,905.8 1694.9,904.8 1695.6,903 1696.4,900.8 1697.2,898.2 1697.9,895.4 1698.7,892.6 1699.5,890 1700.3,887.8 1701,886 1701.8,885 1702.6,884.6 1703.3,885 1704.1,886 1704.9,887.8 1705.7,890 1706.4,892.6 1707.2,895.4 1708,898.2 1708.7,900.8 1709.5,903 1710.3,904.8 1711,905.8 1711.8,906.2 1712.6,905.8 1713.4,904.8 1714.1,903 1714.9,900.8 1715.7,898.2 1716.4,895.4 1717.2,892.6 1718,890 1718.7,887.8 1719.5,886 1720.3,885 1721.1,884.6 1721.8,885 1722.6,886 1723.4,887.8 1724.1,890 1724.9,892.6 1725.7,895.4 1726.5,898.2 1727.2,900.8 1728,903 1728.8,904.8 1729.5,905.8 1730.3,906.2 1731.1,905.8 1731.8,904.8 1732.6,903 1733.4,900.8 1734.2,898.2 1734.9,895.4 1735.7,892.6 1736.5,890 1737.2,887.8 1738,886 1738.8,885 1739.6,884.6 1740.3,885 1741.1,886 1741.9,887.8 1742.6,890 1743.4,892.6 1744.2,895.4 1744.9,898.2 1745.7,900.8 1746.5,903 1747.3,904.8 1748,905.8 1748.8,906.2 1749.6,905.8 1750.3,904.8 1751.1,903 1751.9,900.8 1752.6,898.2 1753.4,895.4 1754.2,892.6 1755,890 1755.7,887.8 1756.5,886 1757.3,885 1758,884.6 1758.8,885 1759.6,886 1760.4,887.8 1761.1,890 1761.9,892.6 1762.7,895.4 1763.4,898.2 1764.2,900.8 1765,903 1765.7,904.8 1766.5,905.8 1767.3,906.2 1768.1,905.8 1768.8,904.8 1769.6,903 1770.4,900.8 1771.1,898.2 1771.9,895.4 1772.7,892.6 1773.5,890 1774.2,887.8 1775,886 1775.8,885 1776.5,884.6 1777.3,885 1778.1,886 1778.8,887.8 1779.6,890 1780.4,892.6 1781.2,895.4 1781.9,898.2 1782.7,900.8 1783.5,903 1784.2,904.8 1785,905.8 1785.8,906.2 1786.5,905.8 1787.3,904.8 1788.1,903 1788.9,900.8 1789.6,898.2 1790.4,895.4"/>
<text x="1182" y="882.7" font-size="30" font-weight="bold" text-anchor="start">β1</text>
<text x="1288" y="882.7" font-size="30" font-weight="bold" text-anchor="start">β2</text>
<text x="1353" y="882.7" font-size="30" font-weight="bold" text-anchor="start">β3</text>
<text x="1432.5" y="882.7" font-size="30" font-weight="bold" text-anchor="start">β4</text>
<text x="1503.6" y="882.7" font-size="30" font-weight="bold" text-anchor="start">β5</text>
<text x="1554" y="882.7" font-size="30" font-weight="bold" text-anchor="start">β6</text>
<text x="1641.5" y="882.7" font-size="30" font-weight="bold" text-anchor="start">β7</text>
<text x="1739" y="882.7" font-size="30" font-weight="bold" text-anchor="start">H5</text>
<line x1="1127.7" y1="918.6" x2="1818.5" y2="918.6" stroke="#000" stroke-width="1.5"/>
<path d="M1812.3 914.4L1819.5 918.6L1812.3 922.8" fill="none" stroke="#000" stroke-width="1.5"/>
<line x1="1166" y1="912.3" x2="1166" y2="922" stroke="#000" stroke-width="1.2"/>
<line x1="1199.4" y1="912.3" x2="1199.4" y2="922" stroke="#000" stroke-width="1.2"/>
<line x1="1237.5" y1="912.3" x2="1237.5" y2="922" stroke="#000" stroke-width="1.2"/>
<line x1="1274.3" y1="912.3" x2="1274.3" y2="922" stroke="#000" stroke-width="1.2"/>
<line x1="1304.2" y1="912.3" x2="1304.2" y2="922" stroke="#000" stroke-width="1.2"/>
<line x1="1340.3" y1="912.3" x2="1340.3" y2="922" stroke="#000" stroke-width="1.2"/>
<line x1="1380.4" y1="912.3" x2="1380.4" y2="922" stroke="#000" stroke-width="1.2"/>
<line x1="1414.6" y1="912.3" x2="1414.6" y2="922" stroke="#000" stroke-width="1.2"/>
<line x1="1445.6" y1="912.3" x2="1445.6" y2="922" stroke="#000" stroke-width="1.2"/>
<line x1="1482.4" y1="912.3" x2="1482.4" y2="922" stroke="#000" stroke-width="1.2"/>
<line x1="1517.2" y1="912.3" x2="1517.2" y2="922" stroke="#000" stroke-width="1.2"/>
<line x1="1552.9" y1="912.3" x2="1552.9" y2="922" stroke="#000" stroke-width="1.2"/>
<line x1="1585" y1="912.3" x2="1585" y2="922" stroke="#000" stroke-width="1.2"/>
<line x1="1620.2" y1="912.3" x2="1620.2" y2="922" stroke="#000" stroke-width="1.2"/>
<line x1="1656.6" y1="912.3" x2="1656.6" y2="922" stroke="#000" stroke-width="1.2"/>
<line x1="1690.8" y1="912.3" x2="1690.8" y2="922" stroke="#000" stroke-width="1.2"/>
<line x1="1725.4" y1="912.3" x2="1725.4" y2="922" stroke="#000" stroke-width="1.2"/>
<line x1="1761.3" y1="912.3" x2="1761.3" y2="922" stroke="#000" stroke-width="1.2"/>
<line x1="1795.4" y1="912.3" x2="1795.4" y2="922" stroke="#000" stroke-width="1.2"/>
<text x="1164.4" y="951.4" font-size="29.5" font-weight="bold" text-anchor="middle">310</text>
<text x="1232.7" y="951.4" font-size="29.5" font-weight="bold" text-anchor="middle">320</text>
<text x="1301.2" y="951.4" font-size="29.5" font-weight="bold" text-anchor="middle">330</text>
<text x="1377" y="951.4" font-size="29.5" font-weight="bold" text-anchor="middle">340</text>
<text x="1446.3" y="951.4" font-size="29.5" font-weight="bold" text-anchor="middle">350</text>
<text x="1514.6" y="951.4" font-size="29.5" font-weight="bold" text-anchor="middle">360</text>
<text x="1582.4" y="951.4" font-size="29.5" font-weight="bold" text-anchor="middle">370</text>
<text x="1650.8" y="951.4" font-size="29.5" font-weight="bold" text-anchor="middle">380</text>
<text x="1720" y="951.4" font-size="29.5" font-weight="bold" text-anchor="middle">390</text>
<text x="1796" y="951.4" font-size="29.5" font-weight="bold" text-anchor="middle">400</text>
<path d="M1150 971.6H1183V968L1190 975.7L1183 983.4V979.8H1150z" fill="#ffc000"/>
<text x="1202" y="987.5" font-size="24" font-weight="bold" text-anchor="start">Beta strand</text>
<path d="M1161.7 1007.9A8.6 8.6 0 0 1 1179 1007.9" fill="none" stroke="#c0504d" stroke-width="4.6"/>
<text x="1202" y="1014.9" font-size="24" font-weight="bold" text-anchor="start">Turn</text>
<line x1="1360" y1="975.5" x2="1377" y2="975.5" stroke="#00b050" stroke-width="3"/>
<text x="1400.4" y="987.5" font-size="24" font-weight="bold" text-anchor="start">Bend</text>
<polyline fill="none" stroke="#1f4e79" stroke-width="1.8" stroke-linejoin="round" points="1358.5,1005 1359.3,1002.3 1360.2,999.8 1361,997.6 1361.9,996 1362.8,995 1363.6,994.6 1364.5,995 1365.3,996 1366.2,997.6 1367,999.8 1367.9,1002.3 1368.7,1005 1369.5,1007.7 1370.4,1010.2 1371.2,1012.4 1372.1,1014 1373,1015 1373.8,1015.4 1374.7,1015 1375.5,1014 1376.4,1012.4 1377.2,1010.2 1378.1,1007.7 1378.9,1005"/>
<text x="1400.4" y="1014.9" font-size="24" font-weight="bold" text-anchor="start">3/10-helix</text>
<line x1="1565.3" y1="975.5" x2="1589" y2="975.5" stroke="#000" stroke-width="3.5"/>
<text x="1620.8" y="987.5" font-size="24.2" font-weight="bold" text-anchor="start">No secondary structure</text>
<polyline fill="none" stroke="#1f4e79" stroke-width="1.8" stroke-linejoin="round" points="1526.2,1004.7 1527,1007.4 1527.7,1010 1528.5,1012.2 1529.3,1013.9 1530.1,1014.9 1530.8,1015.3 1531.6,1014.9 1532.4,1013.9 1533.1,1012.2 1533.9,1010 1534.7,1007.4 1535.5,1004.7 1536.2,1002 1537,999.4 1537.8,997.2 1538.5,995.5 1539.3,994.5 1540.1,994.1 1540.9,994.5 1541.6,995.5 1542.4,997.2 1543.2,999.4 1543.9,1002 1544.7,1004.7 1545.5,1007.4 1546.3,1010 1547,1012.2 1547.8,1013.9 1548.6,1014.9 1549.3,1015.3 1550.1,1014.9 1550.9,1013.9 1551.7,1012.2 1552.4,1010 1553.2,1007.4 1554,1004.7 1554.7,1002 1555.5,999.4 1556.3,997.2 1557,995.5 1557.8,994.5 1558.6,994.1 1559.4,994.5 1560.1,995.5 1560.9,997.2 1561.7,999.4 1562.4,1002 1563.2,1004.7 1564,1007.4 1564.8,1010 1565.5,1012.2 1566.3,1013.9 1567.1,1014.9 1567.8,1015.3 1568.6,1014.9 1569.4,1013.9 1570.2,1012.2 1570.9,1010 1571.7,1007.4 1572.5,1004.7 1573.2,1002 1574,999.4 1574.8,997.2 1575.6,995.5 1576.3,994.5 1577.1,994.1 1577.9,994.5 1578.6,995.5 1579.4,997.2 1580.2,999.4 1581,1002 1581.7,1004.7 1582.5,1007.4 1583.3,1010 1584,1012.2 1584.8,1013.9 1585.6,1014.9 1586.4,1015.3 1587.1,1014.9 1587.9,1013.9 1588.7,1012.2 1589.4,1010 1590.2,1007.4 1591,1004.7 1591.8,1002 1592.5,999.4 1593.3,997.2 1594.1,995.5 1594.8,994.5 1595.6,994.1 1596.4,994.5 1597.2,995.5 1597.9,997.2 1598.7,999.4 1599.5,1002 1600.2,1004.7 1601,1007.4 1601.8,1010 1602.5,1012.2 1603.3,1013.9 1604.1,1014.9 1604.9,1015.3 1605.6,1014.9 1606.4,1013.9 1607.2,1012.2 1607.9,1010 1608.7,1007.4 1609.5,1004.7 1610.3,1002 1611,999.4 1611.8,997.2 1612.6,995.5 1613.3,994.5 1614.1,994.1 1614.9,994.5 1615.7,995.5 1616.4,997.2 1617.2,999.4 1618,1002 1618.7,1004.7 1619.5,1007.4 1620.3,1010 1621.1,1012.2 1621.8,1013.9 1622.6,1014.9 1623.4,1015.3 1624.1,1014.9 1624.9,1013.9 1625.7,1012.2 1626.5,1010 1627.2,1007.4 1628,1004.7"/>
<text x="1653.6" y="1014.9" font-size="24" font-weight="bold" text-anchor="start">Alpha helix</text>
<text x="1031" y="533.5" font-size="68" font-weight="bold" text-anchor="start">f</text></g>
</svg>
</body></html>
